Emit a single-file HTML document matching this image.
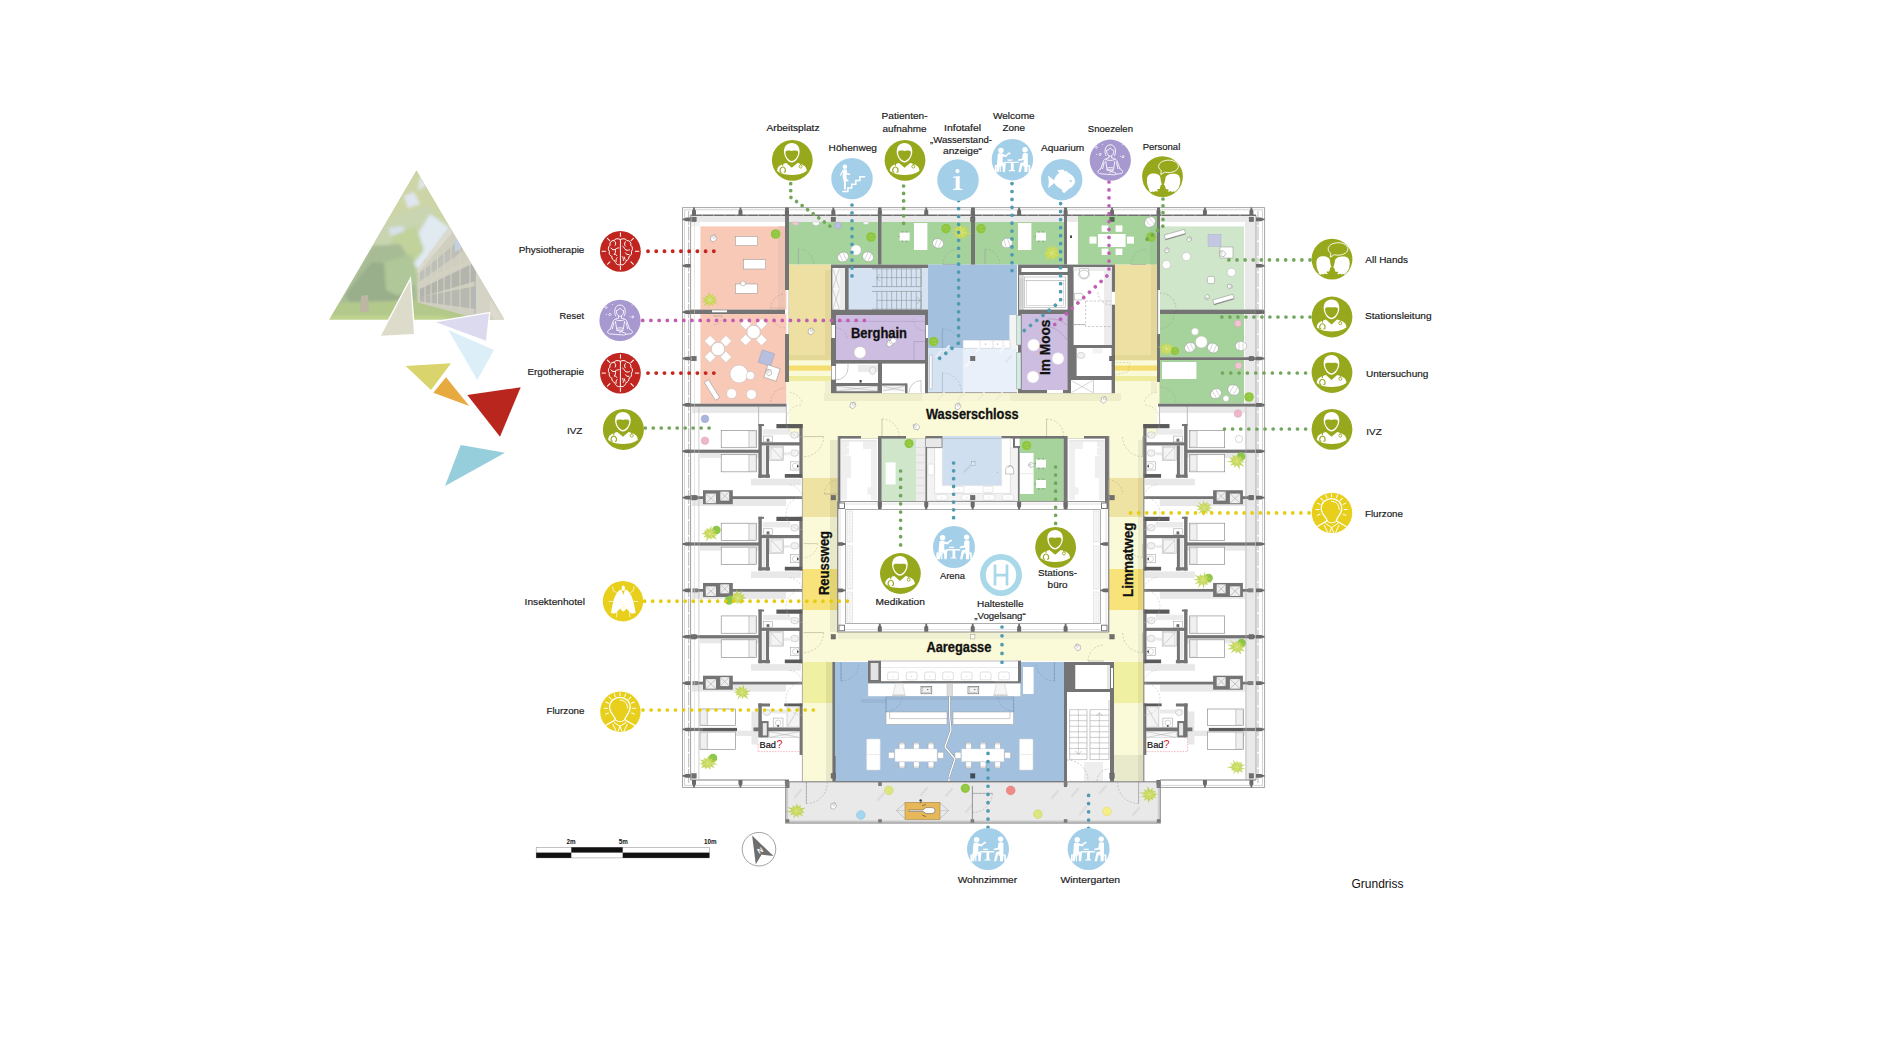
<!DOCTYPE html>
<html><head><meta charset="utf-8"><title>Grundriss</title>
<style>
html,body{margin:0;padding:0;background:#fff;}
body{width:1900px;height:1050px;overflow:hidden;font-family:"Liberation Sans",sans-serif;}
svg{display:block;font-family:"Liberation Sans",sans-serif;}
.lb{font-size:9.8px;fill:#1a1a1a;stroke:#1a1a1a;stroke-width:0.18px;}
.bd{font-weight:bold;fill:#111;stroke:#111;stroke-width:0.3px;}
</style></head><body>
<svg width="1900" height="1050" viewBox="0 0 1900 1050">
<rect width="1900" height="1050" fill="#ffffff"/>
<rect x="690.5" y="216" width="565.5" height="6" fill="#e9e9e9" />
<rect x="1245" y="216" width="10.5" height="564" fill="#e9e9e9" />
<rect x="690.5" y="222" width="9.5" height="4.4" fill="#f3f3f3" />
<rect x="700.4" y="226.4" width="86.2" height="83.2" fill="#f9c9b8" />
<rect x="700.4" y="314" width="86.2" height="89.7" fill="#f9c9b8" />
<rect x="778" y="226.4" width="7" height="83.2" fill="#efc3b3" />
<rect x="789" y="222" width="89" height="42.6" fill="#a6d39c" />
<rect x="881.6" y="222" width="89.4" height="42.6" fill="#a6d39c" />
<rect x="975" y="222" width="89" height="42.6" fill="#a6d39c" />
<rect x="1067" y="216" width="11" height="48.6" fill="#ffffff" />
<rect x="1067" y="216" width="11" height="6" fill="#e9e9e9" />
<rect x="1078" y="216" width="79" height="48.6" fill="#a6d39c" />
<rect x="1150" y="216" width="7" height="48.6" fill="#9fcb96" />
<rect x="789" y="355" width="368" height="81" fill="#fbfad8" />
<rect x="789" y="264.6" width="42" height="90.4" fill="#ede0a2" />
<rect x="1115" y="264.6" width="42" height="90.4" fill="#ede0a2" />
<rect x="825" y="270" width="6" height="123" fill="#000000" opacity="0.045"/>
<rect x="1151" y="264.6" width="6" height="128.4" fill="#000000" opacity="0.045"/>
<rect x="789" y="355" width="42" height="5.5" fill="#e4d896" />
<rect x="789" y="360.5" width="42" height="5" fill="#fbfad8" />
<rect x="789" y="365.5" width="42" height="5.3" fill="#f5dd6e" />
<rect x="789" y="370.8" width="42" height="5.2" fill="#fbfad8" />
<rect x="789" y="376" width="42" height="5" fill="#f0ec9e" />
<rect x="1115" y="355" width="42" height="5.5" fill="#e4d896" />
<rect x="1115" y="360.5" width="42" height="5" fill="#fbfad8" />
<rect x="1115" y="365.5" width="42" height="5.3" fill="#f5dd6e" />
<rect x="1115" y="370.8" width="42" height="5.2" fill="#fbfad8" />
<rect x="1115" y="376" width="42" height="5" fill="#f0ec9e" />
<rect x="824" y="393.2" width="98" height="7.8" fill="#efeecb" />
<rect x="1010" y="393.2" width="111" height="7.8" fill="#efeecb" />
<rect x="922" y="393.2" width="88" height="7.8" fill="#f6f5d6" />
<rect x="1160" y="226.4" width="84" height="83.2" fill="#cfe6ca" />
<rect x="1160" y="314" width="84" height="43" fill="#a6d39c" />
<rect x="1160" y="360" width="84" height="43.7" fill="#a6d39c" />
<path d="M928,264.6 H1017 V315 H1009.5 V340 H963 V348.3 H928 Z" fill="#a3c1df" stroke="none" stroke-width="1" />
<rect x="963" y="340.3" width="47" height="8" fill="#ffffff" />
<rect x="1010" y="315" width="7" height="33.3" fill="#f4f4f4" />
<rect x="928" y="348.3" width="35" height="44.2" fill="#d4e2f2" />
<rect x="963" y="348.3" width="54" height="44.2" fill="#e9f0f9" />
<rect x="802.4" y="436" width="35.6" height="346" fill="#fbfad8" />
<rect x="1109" y="436" width="34.6" height="225" fill="#fbfad8" />
<rect x="1114" y="661" width="29.6" height="121" fill="#fbfad8" />
<rect x="802.4" y="632" width="341.2" height="29" fill="#fbfad8" />
<rect x="838" y="632" width="271" height="7" fill="#f0f0d2" />
<rect x="802.4" y="478" width="35.6" height="39" fill="#eee3a2" />
<rect x="802.4" y="569" width="35.6" height="41" fill="#f7e37a" />
<rect x="1109" y="478" width="34.6" height="39" fill="#eee3a2" />
<rect x="1109" y="569" width="34.6" height="41" fill="#f7e37a" />
<rect x="802.4" y="662" width="30.6" height="41" fill="#f0f0a2" />
<rect x="1114" y="662" width="29.6" height="41" fill="#f0f0a2" />
<rect x="1114" y="755" width="29.6" height="27" fill="#e9e9cb" />
<rect x="830" y="440" width="8" height="192" fill="#000000" opacity="0.07"/>
<rect x="1138" y="440" width="5.6" height="342" fill="#000000" opacity="0.06"/>
<rect x="826" y="662" width="7" height="120" fill="#000000" opacity="0.07"/>
<rect x="840" y="438" width="38" height="63" fill="#ffffff" />
<rect x="881.6" y="438" width="34.4" height="63" fill="#cfe6ca" />
<rect x="916" y="438" width="9.6" height="63" fill="#ededed" />
<rect x="927" y="438" width="91" height="63" fill="#ffffff" />
<rect x="942.4" y="436" width="59.2" height="49.6" fill="#cfdff0" />
<rect x="1019.6" y="438" width="44" height="63" fill="#a6d39c" />
<rect x="1020" y="453" width="13.6" height="41" fill="#ffffff" />
<rect x="1067.6" y="438" width="37.4" height="63" fill="#ffffff" />
<rect x="838" y="501.6" width="270.4" height="130.4" fill="#ffffff" />
<rect x="835" y="662" width="229" height="119.5" fill="#a3c1df" />
<rect x="1064" y="662" width="50" height="120" fill="#ffffff" />
<rect x="785.3" y="781.6" width="375.3" height="41.7" fill="#e9e9e9" />
<rect x="786.8" y="382" width="2.2" height="21.7" fill="#fbfad8" />
<rect x="1157" y="382" width="3" height="21.7" fill="#fbfad8" />
<line x1="787" y1="382" x2="787" y2="403.7" stroke="#ffffff" stroke-width="0.7" />
<line x1="1159.6" y1="382" x2="1159.6" y2="403.7" stroke="#a9c09f" stroke-width="0.5" />
<rect x="692" y="406.38" width="94" height="6.5" fill="#e8e8e8" />
<rect x="700" y="452.38" width="60" height="5.5" fill="#e8e8e8" />
<rect x="751" y="478.68" width="50" height="6.6" fill="#e8e8e8" />
<rect x="692" y="499.12" width="94" height="6.5" fill="#e8e8e8" />
<rect x="700" y="545.12" width="60" height="5.5" fill="#e8e8e8" />
<rect x="751" y="571.42" width="50" height="6.6" fill="#e8e8e8" />
<rect x="692" y="591.86" width="94" height="6.5" fill="#e8e8e8" />
<rect x="700" y="637.86" width="60" height="5.5" fill="#e8e8e8" />
<rect x="751" y="664.16" width="50" height="6.6" fill="#e8e8e8" />
<rect x="692" y="684.6" width="94" height="6.5" fill="#e8e8e8" />
<rect x="700" y="730.6" width="60" height="5.5" fill="#e8e8e8" />
<rect x="692" y="499.42" width="94" height="6.6" fill="#e8e8e8" />
<rect x="692" y="592.16" width="94" height="6.6" fill="#e8e8e8" />
<rect x="692" y="684.9" width="94" height="6.6" fill="#e8e8e8" />
<rect x="1159.9" y="406.38" width="94" height="6.5" fill="#e8e8e8" />
<rect x="1185.9" y="452.38" width="60" height="5.5" fill="#e8e8e8" />
<rect x="1144.9" y="478.68" width="50" height="6.6" fill="#e8e8e8" />
<rect x="1159.9" y="499.12" width="94" height="6.5" fill="#e8e8e8" />
<rect x="1185.9" y="545.12" width="60" height="5.5" fill="#e8e8e8" />
<rect x="1144.9" y="571.42" width="50" height="6.6" fill="#e8e8e8" />
<rect x="1159.9" y="591.86" width="94" height="6.5" fill="#e8e8e8" />
<rect x="1185.9" y="637.86" width="60" height="5.5" fill="#e8e8e8" />
<rect x="1144.9" y="664.16" width="50" height="6.6" fill="#e8e8e8" />
<rect x="1159.9" y="684.6" width="94" height="6.5" fill="#e8e8e8" />
<rect x="1185.9" y="730.6" width="60" height="5.5" fill="#e8e8e8" />
<rect x="1159.9" y="499.42" width="94" height="6.6" fill="#e8e8e8" />
<rect x="1159.9" y="592.16" width="94" height="6.6" fill="#e8e8e8" />
<rect x="1159.9" y="684.9" width="94" height="6.6" fill="#e8e8e8" />
<line x1="758.6" y1="406.48" x2="758.6" y2="424.28" stroke="#b5b5b5" stroke-width="0.9" />
<line x1="786.4" y1="406.48" x2="786.4" y2="424.28" stroke="#b5b5b5" stroke-width="0.9" />
<line x1="1187.3" y1="406.48" x2="1187.3" y2="424.28" stroke="#b5b5b5" stroke-width="0.9" />
<line x1="1159.5" y1="406.48" x2="1159.5" y2="424.28" stroke="#b5b5b5" stroke-width="0.9" />
<rect x="785" y="207.5" width="4" height="82.5" fill="#747474" />
<rect x="785" y="334" width="4" height="48" fill="#747474" />
<rect x="878" y="207.5" width="3.6" height="57.1" fill="#747474" />
<rect x="971" y="207.5" width="4" height="57.1" fill="#747474" />
<rect x="1064" y="207.5" width="3" height="57.1" fill="#747474" />
<rect x="1157" y="207.5" width="3" height="82.5" fill="#747474" />
<rect x="1157" y="334" width="3" height="48" fill="#747474" />
<rect x="1157" y="290" width="1.2" height="44" fill="#9a9a9a" />
<rect x="786.6" y="290" width="1.8" height="44" fill="#ffffff" />
<line x1="788.6" y1="290" x2="788.6" y2="334" stroke="#b0b0b0" stroke-width="0.5" />
<rect x="690.5" y="309.6" width="94.5" height="4.4" fill="#747474" />
<rect x="712" y="310.3" width="15" height="2" fill="#ffffff" />
<rect x="690.5" y="403.7" width="96" height="2.9" fill="#747474" />
<rect x="1160" y="309.6" width="104" height="4.4" fill="#747474" />
<rect x="1160" y="357.2" width="96" height="2.8" fill="#747474" />
<rect x="1158" y="403.7" width="106" height="2.9" fill="#747474" />
<rect x="831" y="264.6" width="97" height="128.6" fill="#747474" />
<rect x="832.5" y="268" width="12.5" height="41.6" fill="#ffffff" />
<rect x="839.5" y="268" width="5.5" height="41.6" fill="#ececec" />
<rect x="848.6" y="268" width="79.4" height="41.6" fill="#d4e2f2" />
<rect x="836" y="315" width="89" height="45" fill="#cdbde0" />
<rect x="925.8" y="325" width="2.2" height="13" fill="#ffffff" />
<rect x="831.5" y="325" width="3.5" height="13" fill="#ffffff" />
<rect x="831.6" y="366" width="3.8" height="13.6" fill="#ffffff" />
<rect x="836" y="363.6" width="42" height="19.4" fill="#ffffff" />
<rect x="882" y="363.6" width="43" height="29.6" fill="#ffffff" />
<rect x="836.5" y="386" width="41" height="5.2" fill="#f2f2f2" />
<rect x="882.5" y="386" width="22.5" height="5.2" fill="#f2f2f2" />
<rect x="882" y="383.4" width="24" height="2.2" fill="#747474" />
<rect x="905" y="383.4" width="2.5" height="9.8" fill="#747474" />
<rect x="858" y="365" width="20" height="7" fill="#ececec" />
<rect x="1018" y="264.6" width="97" height="128.6" fill="#747474" />
<rect x="1021.4" y="268" width="46.2" height="4" fill="#ffffff" />
<rect x="1024" y="275" width="43.6" height="34.6" fill="#ffffff" />
<rect x="1019" y="275" width="5" height="34.6" fill="#dcdcdc" />
<rect x="1021.6" y="314" width="46" height="76" fill="#cdbde0" />
<rect x="1047" y="390" width="16" height="3.2" fill="#ffffff" />
<rect x="1073.6" y="267" width="38" height="78" fill="#ffffff" />
<rect x="1076.6" y="348" width="35" height="28" fill="#ffffff" />
<rect x="1071" y="380" width="40.6" height="13.2" fill="#ffffff" />
<rect x="1111.6" y="291.8" width="3.4" height="12.9" fill="#ffffff" />
<rect x="1104" y="267" width="7.6" height="78" fill="#ececec" />
<rect x="1073.6" y="267" width="38" height="4" fill="#ececec" />
<rect x="1016.8" y="315.6" width="4.2" height="29.4" fill="#d3eee6" stroke="#8e8e8e" stroke-width="0.5"/>
<rect x="1016.8" y="352.4" width="4.2" height="36.6" fill="#d3eee6" stroke="#8e8e8e" stroke-width="0.5"/>
<rect x="838" y="436" width="271" height="2.6" fill="#747474" />
<rect x="942.4" y="436" width="59.2" height="2.6" fill="#cfdff0" />
<rect x="861" y="436" width="17" height="2.6" fill="#fbfad8" />
<rect x="906" y="436" width="20" height="2.6" fill="#fbfad8" />
<rect x="1067" y="436" width="17" height="2.6" fill="#fbfad8" />
<rect x="838" y="436" width="2.4" height="73" fill="#747474" />
<rect x="878" y="436" width="3.6" height="73" fill="#747474" />
<rect x="925.4" y="436" width="1.6" height="73" fill="#747474" />
<rect x="1018" y="447" width="1.6" height="62" fill="#747474" />
<rect x="1013" y="436" width="2" height="12" fill="#747474" />
<rect x="1013" y="446" width="7" height="2" fill="#747474" />
<rect x="1063.6" y="436" width="4" height="73" fill="#747474" />
<rect x="1105" y="436" width="4" height="73" fill="#747474" />
<rect x="832.4" y="662" width="2.6" height="120" fill="#747474" />
<rect x="1064" y="662" width="3" height="125" fill="#747474" />
<rect x="1064" y="662" width="50" height="3" fill="#747474" />
<rect x="1064" y="662" width="11.4" height="28" fill="#747474" />
<rect x="1110" y="662" width="4" height="120" fill="#747474" />
<rect x="1064" y="689" width="48" height="3" fill="#747474" />
<rect x="1075.6" y="665" width="31.4" height="24" fill="#ffffff" />
<rect x="1107" y="665" width="3" height="24" fill="#e6e6e6" />
<rect x="1111" y="668" width="2" height="20" fill="#ffffff" />
<rect x="1067" y="692" width="43" height="90" fill="#ffffff" />
<rect x="690.5" y="449.65" width="68.5" height="3.2" fill="#747474" />
<rect x="758.4" y="424.05" width="3.4" height="53.7" fill="#747474" />
<rect x="799.4" y="424.05" width="3.2" height="53.7" fill="#747474" />
<rect x="760" y="442.25" width="40" height="3.2" fill="#747474" />
<rect x="766" y="445.45" width="3" height="32.3" fill="#747474" />
<rect x="758.4" y="474.45" width="11.6" height="3.3" fill="#747474" />
<rect x="776.4" y="424.05" width="26.2" height="4.2" fill="#5a5a5a" />
<rect x="784.8" y="474.05" width="17.8" height="3.7" fill="#5a5a5a" />
<rect x="758.4" y="424.05" width="5.6" height="2" fill="#747474" />
<rect x="762.5" y="446.25" width="3.1" height="28" fill="#e9e9e9" />
<rect x="690.5" y="542.39" width="68.5" height="3.2" fill="#747474" />
<rect x="758.4" y="516.79" width="3.4" height="53.7" fill="#747474" />
<rect x="799.4" y="516.79" width="3.2" height="53.7" fill="#747474" />
<rect x="760" y="534.99" width="40" height="3.2" fill="#747474" />
<rect x="766" y="538.19" width="3" height="32.3" fill="#747474" />
<rect x="758.4" y="567.19" width="11.6" height="3.3" fill="#747474" />
<rect x="776.4" y="516.79" width="26.2" height="4.2" fill="#5a5a5a" />
<rect x="784.8" y="566.79" width="17.8" height="3.7" fill="#5a5a5a" />
<rect x="758.4" y="516.79" width="5.6" height="2" fill="#747474" />
<rect x="762.5" y="538.99" width="3.1" height="28" fill="#e9e9e9" />
<rect x="690.5" y="635.13" width="68.5" height="3.2" fill="#747474" />
<rect x="758.4" y="609.53" width="3.4" height="53.7" fill="#747474" />
<rect x="799.4" y="609.53" width="3.2" height="53.7" fill="#747474" />
<rect x="760" y="627.73" width="40" height="3.2" fill="#747474" />
<rect x="766" y="630.93" width="3" height="32.3" fill="#747474" />
<rect x="758.4" y="659.93" width="11.6" height="3.3" fill="#747474" />
<rect x="776.4" y="609.53" width="26.2" height="4.2" fill="#5a5a5a" />
<rect x="784.8" y="659.53" width="17.8" height="3.7" fill="#5a5a5a" />
<rect x="758.4" y="609.53" width="5.6" height="2" fill="#747474" />
<rect x="762.5" y="631.73" width="3.1" height="28" fill="#e9e9e9" />
<rect x="690.5" y="727.87" width="46.5" height="3.2" fill="#747474" />
<rect x="703" y="728.07" width="34" height="2.8" fill="#5a5a5a" />
<rect x="751.5" y="711.47" width="6.8" height="33" fill="#e8e8e8" />
<rect x="758.3" y="703.47" width="3.5" height="34" fill="#747474" />
<rect x="758.3" y="703.47" width="11.7" height="3" fill="#747474" />
<rect x="799.6" y="703.47" width="3" height="51.5" fill="#747474" />
<rect x="784.3" y="703.47" width="18.3" height="2.8" fill="#5a5a5a" />
<rect x="753.5" y="727.47" width="46.5" height="3.8" fill="#747474" />
<rect x="760.8" y="721.07" width="7.8" height="16.4" fill="#747474" />
<rect x="762.8" y="723.07" width="4" height="12.4" fill="#e9e9e9" />
<rect x="696.8" y="496.22" width="105.2" height="2.8" fill="#747474" />
<rect x="703" y="490.22" width="29.8" height="14" fill="#747474" />
<rect x="705.7" y="493.62" width="10.3" height="9.6" fill="#efefef" />
<rect x="720.3" y="491.62" width="8.9" height="9" fill="#efefef" />
<line x1="705.7" y1="493.62" x2="716" y2="503.22" stroke="#9a9a9a" stroke-width="0.5" />
<line x1="705.7" y1="503.22" x2="716" y2="493.62" stroke="#9a9a9a" stroke-width="0.5" />
<line x1="720.3" y1="491.62" x2="729.2" y2="500.62" stroke="#9a9a9a" stroke-width="0.5" />
<line x1="720.3" y1="500.62" x2="729.2" y2="491.62" stroke="#9a9a9a" stroke-width="0.5" />
<rect x="692.5" y="495.62" width="5.5" height="4" fill="#808080" />
<rect x="696.8" y="588.96" width="105.2" height="2.8" fill="#747474" />
<rect x="703" y="582.96" width="29.8" height="14" fill="#747474" />
<rect x="705.7" y="586.36" width="10.3" height="9.6" fill="#efefef" />
<rect x="720.3" y="584.36" width="8.9" height="9" fill="#efefef" />
<line x1="705.7" y1="586.36" x2="716" y2="595.96" stroke="#9a9a9a" stroke-width="0.5" />
<line x1="705.7" y1="595.96" x2="716" y2="586.36" stroke="#9a9a9a" stroke-width="0.5" />
<line x1="720.3" y1="584.36" x2="729.2" y2="593.36" stroke="#9a9a9a" stroke-width="0.5" />
<line x1="720.3" y1="593.36" x2="729.2" y2="584.36" stroke="#9a9a9a" stroke-width="0.5" />
<rect x="692.5" y="588.36" width="5.5" height="4" fill="#808080" />
<rect x="696.8" y="681.7" width="105.2" height="2.8" fill="#747474" />
<rect x="703" y="675.7" width="29.8" height="14" fill="#747474" />
<rect x="705.7" y="679.1" width="10.3" height="9.6" fill="#efefef" />
<rect x="720.3" y="677.1" width="8.9" height="9" fill="#efefef" />
<line x1="705.7" y1="679.1" x2="716" y2="688.7" stroke="#9a9a9a" stroke-width="0.5" />
<line x1="705.7" y1="688.7" x2="716" y2="679.1" stroke="#9a9a9a" stroke-width="0.5" />
<line x1="720.3" y1="677.1" x2="729.2" y2="686.1" stroke="#9a9a9a" stroke-width="0.5" />
<line x1="720.3" y1="686.1" x2="729.2" y2="677.1" stroke="#9a9a9a" stroke-width="0.5" />
<rect x="692.5" y="681.1" width="5.5" height="4" fill="#808080" />
<rect x="1186.9" y="449.65" width="68.5" height="3.2" fill="#747474" />
<rect x="1184.1" y="424.05" width="3.4" height="53.7" fill="#747474" />
<rect x="1143.3" y="424.05" width="3.2" height="53.7" fill="#747474" />
<rect x="1145.9" y="442.25" width="40" height="3.2" fill="#747474" />
<rect x="1176.9" y="445.45" width="3" height="32.3" fill="#747474" />
<rect x="1175.9" y="474.45" width="11.6" height="3.3" fill="#747474" />
<rect x="1143.3" y="424.05" width="26.2" height="4.2" fill="#5a5a5a" />
<rect x="1143.3" y="474.05" width="17.8" height="3.7" fill="#5a5a5a" />
<rect x="1181.9" y="424.05" width="5.6" height="2" fill="#747474" />
<rect x="1180.3" y="446.25" width="3.1" height="28" fill="#e9e9e9" />
<rect x="1186.9" y="542.39" width="68.5" height="3.2" fill="#747474" />
<rect x="1184.1" y="516.79" width="3.4" height="53.7" fill="#747474" />
<rect x="1143.3" y="516.79" width="3.2" height="53.7" fill="#747474" />
<rect x="1145.9" y="534.99" width="40" height="3.2" fill="#747474" />
<rect x="1176.9" y="538.19" width="3" height="32.3" fill="#747474" />
<rect x="1175.9" y="567.19" width="11.6" height="3.3" fill="#747474" />
<rect x="1143.3" y="516.79" width="26.2" height="4.2" fill="#5a5a5a" />
<rect x="1143.3" y="566.79" width="17.8" height="3.7" fill="#5a5a5a" />
<rect x="1181.9" y="516.79" width="5.6" height="2" fill="#747474" />
<rect x="1180.3" y="538.99" width="3.1" height="28" fill="#e9e9e9" />
<rect x="1186.9" y="635.13" width="68.5" height="3.2" fill="#747474" />
<rect x="1184.1" y="609.53" width="3.4" height="53.7" fill="#747474" />
<rect x="1143.3" y="609.53" width="3.2" height="53.7" fill="#747474" />
<rect x="1145.9" y="627.73" width="40" height="3.2" fill="#747474" />
<rect x="1176.9" y="630.93" width="3" height="32.3" fill="#747474" />
<rect x="1175.9" y="659.93" width="11.6" height="3.3" fill="#747474" />
<rect x="1143.3" y="609.53" width="26.2" height="4.2" fill="#5a5a5a" />
<rect x="1143.3" y="659.53" width="17.8" height="3.7" fill="#5a5a5a" />
<rect x="1181.9" y="609.53" width="5.6" height="2" fill="#747474" />
<rect x="1180.3" y="631.73" width="3.1" height="28" fill="#e9e9e9" />
<rect x="1208.9" y="727.87" width="46.5" height="3.2" fill="#747474" />
<rect x="1208.9" y="728.07" width="34" height="2.8" fill="#5a5a5a" />
<rect x="1187.6" y="711.47" width="6.8" height="33" fill="#e8e8e8" />
<rect x="1184.1" y="703.47" width="3.5" height="34" fill="#747474" />
<rect x="1175.9" y="703.47" width="11.7" height="3" fill="#747474" />
<rect x="1143.3" y="703.47" width="3" height="51.5" fill="#747474" />
<rect x="1143.3" y="703.47" width="18.3" height="2.8" fill="#5a5a5a" />
<rect x="1145.9" y="727.47" width="46.5" height="3.8" fill="#747474" />
<rect x="1177.3" y="721.07" width="7.8" height="16.4" fill="#747474" />
<rect x="1179.1" y="723.07" width="4" height="12.4" fill="#e9e9e9" />
<rect x="1143.9" y="496.22" width="105.2" height="2.8" fill="#747474" />
<rect x="1213.1" y="490.22" width="29.8" height="14" fill="#747474" />
<rect x="1229.9" y="493.62" width="10.3" height="9.6" fill="#efefef" />
<rect x="1216.7" y="491.62" width="8.9" height="9" fill="#efefef" />
<line x1="1240.2" y1="493.62" x2="1229.9" y2="503.22" stroke="#9a9a9a" stroke-width="0.5" />
<line x1="1240.2" y1="503.22" x2="1229.9" y2="493.62" stroke="#9a9a9a" stroke-width="0.5" />
<line x1="1225.6" y1="491.62" x2="1216.7" y2="500.62" stroke="#9a9a9a" stroke-width="0.5" />
<line x1="1225.6" y1="500.62" x2="1216.7" y2="491.62" stroke="#9a9a9a" stroke-width="0.5" />
<rect x="1247.9" y="495.62" width="5.5" height="4" fill="#808080" />
<rect x="1143.9" y="588.96" width="105.2" height="2.8" fill="#747474" />
<rect x="1213.1" y="582.96" width="29.8" height="14" fill="#747474" />
<rect x="1229.9" y="586.36" width="10.3" height="9.6" fill="#efefef" />
<rect x="1216.7" y="584.36" width="8.9" height="9" fill="#efefef" />
<line x1="1240.2" y1="586.36" x2="1229.9" y2="595.96" stroke="#9a9a9a" stroke-width="0.5" />
<line x1="1240.2" y1="595.96" x2="1229.9" y2="586.36" stroke="#9a9a9a" stroke-width="0.5" />
<line x1="1225.6" y1="584.36" x2="1216.7" y2="593.36" stroke="#9a9a9a" stroke-width="0.5" />
<line x1="1225.6" y1="593.36" x2="1216.7" y2="584.36" stroke="#9a9a9a" stroke-width="0.5" />
<rect x="1247.9" y="588.36" width="5.5" height="4" fill="#808080" />
<rect x="1143.9" y="681.7" width="105.2" height="2.8" fill="#747474" />
<rect x="1213.1" y="675.7" width="29.8" height="14" fill="#747474" />
<rect x="1229.9" y="679.1" width="10.3" height="9.6" fill="#efefef" />
<rect x="1216.7" y="677.1" width="8.9" height="9" fill="#efefef" />
<line x1="1240.2" y1="679.1" x2="1229.9" y2="688.7" stroke="#9a9a9a" stroke-width="0.5" />
<line x1="1240.2" y1="688.7" x2="1229.9" y2="679.1" stroke="#9a9a9a" stroke-width="0.5" />
<line x1="1225.6" y1="677.1" x2="1216.7" y2="686.1" stroke="#9a9a9a" stroke-width="0.5" />
<line x1="1225.6" y1="686.1" x2="1216.7" y2="677.1" stroke="#9a9a9a" stroke-width="0.5" />
<rect x="1247.9" y="681.1" width="5.5" height="4" fill="#808080" />
<line x1="802.4" y1="436" x2="802.4" y2="782" stroke="#9a9a9a" stroke-width="0.8" />
<line x1="1143.8" y1="436" x2="1143.8" y2="782" stroke="#8a8a8a" stroke-width="1.2" />
<line x1="838" y1="436" x2="838" y2="632" stroke="#9a9a9a" stroke-width="0.8" />
<line x1="1109" y1="436" x2="1109" y2="632" stroke="#9a9a9a" stroke-width="0.8" />
<rect x="735.4" y="236.4" width="22.2" height="9.2" fill="#ffffff" stroke="#8e8e8e" stroke-width="0.5" />
<rect x="743.6" y="259.6" width="22" height="9.4" fill="#ffffff" stroke="#8e8e8e" stroke-width="0.5" />
<rect x="735.4" y="284" width="22.2" height="9.4" fill="#ffffff" stroke="#8e8e8e" stroke-width="0.5" />
<circle cx="743" cy="283.5" r="2.4" fill="#fff" stroke="#9a9a9a" stroke-width="0.5"/>
<circle cx="775.6" cy="234" r="4.8" fill="#8fc63d" />
<path d="M773.2,234 q1.92,-3.36 4.32,-0.96 M774.64,236.4 q1.44,-1.92 3.36,-0.48" stroke="#b8dc7a" stroke-width="0.5" fill="none"/>
<polygon points="717.73,300 714.46,301.12 717.79,304.27 712.45,302.41 713.52,306.56 710.56,303.34 708.64,308.06 708.2,303.35 703.44,306.45 706.05,302.16 701.67,302.08 705.7,300 700.66,297.66 706.19,297.92 705.3,295.38 708.12,296.5 708.56,291.44 710.68,295.95 713.35,293.76 712.53,297.51 716.76,296.3 713.65,299.09" fill="#bdd13f" opacity="0.85"/>
<polygon points="715.01,301.31 712.84,301.59 714.39,304.42 711.31,302.52 710.98,306.31 709.59,302.23 707.77,304.04 707.98,301.95 705.27,302.53 707.21,300.67 703.31,299.94 707.31,299.3 705.37,297.41 707.92,297.91 707.35,294.92 709.57,297.24 711.07,294.12 711.46,297.35 714.71,295.47 713.02,298.39 716.65,298.4 713.02,300.03" fill="#c9da5a" opacity="0.9"/>
<line x1="710" y1="300" x2="715.26" y2="300" stroke="#e4ecaa" stroke-width="0.4" />
<line x1="710" y1="300" x2="713.31" y2="304.09" stroke="#e4ecaa" stroke-width="0.4" />
<line x1="710" y1="300" x2="708.91" y2="305.15" stroke="#e4ecaa" stroke-width="0.4" />
<line x1="710" y1="300" x2="705.31" y2="302.39" stroke="#e4ecaa" stroke-width="0.4" />
<line x1="710" y1="300" x2="705.19" y2="297.86" stroke="#e4ecaa" stroke-width="0.4" />
<line x1="710" y1="300" x2="708.64" y2="294.91" stroke="#e4ecaa" stroke-width="0.4" />
<line x1="710" y1="300" x2="713.09" y2="295.74" stroke="#e4ecaa" stroke-width="0.4" />
<g transform="translate(713.6,238) rotate(25)"><path d="M0,-3.6 L3.24,-0.72 L1.8,3.6 L-1.8,3.6 L-3.24,-0.72 Z" fill="#fff" stroke="#8e8e8e" stroke-width="0.5"/><circle r="1.26" cy="-1.08" fill="#fff" stroke="#8e8e8e" stroke-width="0.4"/></g>
<path d="M771,308 A14,14 0 0 1 785,294" fill="none" stroke="#9a9a9a" stroke-width="0.5" stroke-dasharray="2 1.6"/>
<line x1="770" y1="308" x2="785" y2="308" stroke="#c9a99c" stroke-width="0.5" />
<rect x="-4" y="-4" width="8" height="8" fill="#ffffff" stroke="#c4c4c4" stroke-width="0.5" transform="translate(745.7,324.1) rotate(45)"/>
<rect x="-4" y="-4" width="8" height="8" fill="#ffffff" stroke="#c4c4c4" stroke-width="0.5" transform="translate(761.5,324.1) rotate(45)"/>
<rect x="-4" y="-4" width="8" height="8" fill="#ffffff" stroke="#c4c4c4" stroke-width="0.5" transform="translate(745.7,339.9) rotate(45)"/>
<rect x="-4" y="-4" width="8" height="8" fill="#ffffff" stroke="#c4c4c4" stroke-width="0.5" transform="translate(761.5,339.9) rotate(45)"/>
<circle cx="753.6" cy="332" r="6.6" fill="#ffffff" stroke="#b9b9b9" stroke-width="0.5"/>
<rect x="-4" y="-4" width="8" height="8" fill="#ffffff" stroke="#c4c4c4" stroke-width="0.5" transform="translate(710.1,341.1) rotate(45)"/>
<rect x="-4" y="-4" width="8" height="8" fill="#ffffff" stroke="#c4c4c4" stroke-width="0.5" transform="translate(725.9,341.1) rotate(45)"/>
<rect x="-4" y="-4" width="8" height="8" fill="#ffffff" stroke="#c4c4c4" stroke-width="0.5" transform="translate(710.1,356.9) rotate(45)"/>
<rect x="-4" y="-4" width="8" height="8" fill="#ffffff" stroke="#c4c4c4" stroke-width="0.5" transform="translate(725.9,356.9) rotate(45)"/>
<circle cx="718" cy="349" r="6.6" fill="#ffffff" stroke="#b9b9b9" stroke-width="0.5"/>
<rect x="-6.5" y="-6.5" width="13" height="13" fill="#b6c0dd" stroke="#9aa3c0" stroke-width="0.5" transform="translate(766.4,358) rotate(18)"/>
<rect x="-6.5" y="-6.5" width="13" height="13" fill="#ffffff" stroke="#8e8e8e" stroke-width="0.5" transform="translate(772,373) rotate(18)"/>
<g transform="translate(768.5,372) rotate(-30)"><path d="M0,-3.4 L3.06,-0.68 L1.7,3.4 L-1.7,3.4 L-3.06,-0.68 Z" fill="#fff" stroke="#8e8e8e" stroke-width="0.5"/><circle r="1.19" cy="-1.02" fill="#fff" stroke="#8e8e8e" stroke-width="0.4"/></g>
<circle cx="739" cy="374" r="9" fill="#ffffff" stroke="#b9b9b9" stroke-width="0.5"/>
<circle cx="750.4" cy="375.6" r="4.2" fill="#ffffff" stroke="#b9b9b9" stroke-width="0.5"/>
<rect x="-10.5" y="-2.5" width="21" height="5" fill="#ffffff" stroke="#8e8e8e" stroke-width="0.5" transform="translate(712,390) rotate(58)"/>
<circle cx="731.6" cy="393.6" r="5" fill="#ffffff" stroke="#b9b9b9" stroke-width="0.5"/>
<circle cx="751.4" cy="394.4" r="5" fill="#ffffff" stroke="#b9b9b9" stroke-width="0.5"/>
<path d="M722,316 A9,9 0 0 1 713,325" fill="none" stroke="#9a9a9a" stroke-width="0.5" stroke-dasharray="2 1.6"/>
<line x1="713" y1="316" x2="722" y2="316" stroke="#9a9a9a" stroke-width="0.6" />
<path d="M785,328 A12,12 0 0 1 773,316" fill="none" stroke="#9a9a9a" stroke-width="0.5" stroke-dasharray="2 1.6"/>
<path d="M771,402 A14,14 0 0 1 785,388" fill="none" stroke="#9a9a9a" stroke-width="0.5" stroke-dasharray="2 1.6"/>
<path d="M792.1,222 a3.5,3.5 0 0 0 7,0 Z" fill="#f2c4d4" stroke="#b9b9b9" stroke-width="0.4"/>
<path d="M812.5,222 a3.5,3.5 0 0 0 7,0 Z" fill="#fff" stroke="#b9b9b9" stroke-width="0.4"/>
<circle cx="838" cy="225.6" r="3.4" fill="#b9bde0" stroke="#a5a5c8" stroke-width="0.5"/>
<path d="M863,222 a3,2.4 0 0 0 6,0 Z" fill="#fff" stroke="#b9b9b9" stroke-width="0.4"/>
<circle cx="856" cy="250" r="5.2" fill="#ffffff" stroke="#b9b9b9" stroke-width="0.5"/>
<g transform="translate(843,257) rotate(-25)"><ellipse rx="5.6" ry="4.76" fill="#fff" stroke="#9c9c9c" stroke-width="0.5"/><path d="M-1.96,-4.37 V4.37 M1.96,-4.37 V4.37" stroke="#b5b5b5" stroke-width="0.5" fill="none"/></g>
<g transform="translate(868,256.8) rotate(25)"><ellipse rx="5.6" ry="4.76" fill="#fff" stroke="#9c9c9c" stroke-width="0.5"/><path d="M-1.96,-4.37 V4.37 M1.96,-4.37 V4.37" stroke="#b5b5b5" stroke-width="0.5" fill="none"/></g>
<circle cx="871" cy="237" r="4.8" fill="#8fc63d" />
<path d="M868.6,237 q1.92,-3.36 4.32,-0.96 M870.04,239.4 q1.44,-1.92 3.36,-0.48" stroke="#b8dc7a" stroke-width="0.5" fill="none"/>
<path d="M798.4,248.9 A15.5,15.5 0 0 1 813.9,264.4" fill="none" stroke="#9a9a9a" stroke-width="0.5" stroke-dasharray="2 1.6"/>
<line x1="798.4" y1="264.4" x2="798.4" y2="248.9" stroke="#9a9a9a" stroke-width="0.6" />
<rect x="899.6" y="232.6" width="10" height="8" fill="#fff" stroke="0.6" stroke-width="#6e6e6e" />
<line x1="902.4" y1="231" x2="902.4" y2="232.6" stroke="#6e6e6e" stroke-width="0.6" />
<line x1="906.8" y1="231" x2="906.8" y2="232.6" stroke="#6e6e6e" stroke-width="0.6" />
<line x1="902.4" y1="242.2" x2="902.4" y2="240.6" stroke="#6e6e6e" stroke-width="0.6" />
<line x1="906.8" y1="242.2" x2="906.8" y2="240.6" stroke="#6e6e6e" stroke-width="0.6" />
<line x1="898.4" y1="236.6" x2="899.6" y2="236.6" stroke="#6e6e6e" stroke-width="0.6" />
<rect x="914" y="223" width="13.4" height="27" fill="#ffffff" />
<g transform="translate(938,243.4) rotate(20)"><ellipse rx="5.6" ry="4.76" fill="#fff" stroke="#9c9c9c" stroke-width="0.5"/><path d="M-1.96,-4.37 V4.37 M1.96,-4.37 V4.37" stroke="#b5b5b5" stroke-width="0.5" fill="none"/></g>
<circle cx="946" cy="228.6" r="4.8" fill="#8fc63d" />
<path d="M943.6,228.6 q1.92,-3.36 4.32,-0.96 M945.04,231 q1.44,-1.92 3.36,-0.48" stroke="#b8dc7a" stroke-width="0.5" fill="none"/>
<polygon points="972.4,233.71 965.7,233.99 967.99,237.5 963.22,235.16 963.35,239.72 960.82,236.91 957.61,240.78 958.32,235.32 952.73,237.72 956.39,233.65 952,232.86 956.44,231.32 951.76,228.1 956.98,228.84 955.72,224.48 959.59,227.37 961.29,224.3 962.58,227.91 966.08,225.72 964.36,229.67 972.04,228.06 965.39,231.58" fill="#cfd94a" opacity="0.85"/>
<polygon points="967.39,234.78 964.02,234.43 965.26,238.22 961.96,235.3 960.72,237.52 959.93,234.68 956.75,237.14 958.34,233.8 953.3,234.66 957.96,232.26 953.12,230.74 957.61,230.53 955.88,227.88 959.21,229.39 959.23,225.91 961.16,228.81 963.46,225.86 962.86,229.76 966.4,228.35 964.6,230.76 967.61,231.44 964.85,232.62" fill="#c9da5a" opacity="0.9"/>
<line x1="961" y1="232" x2="966.98" y2="233.05" stroke="#e4ecaa" stroke-width="0.4" />
<line x1="961" y1="232" x2="963.95" y2="237.31" stroke="#e4ecaa" stroke-width="0.4" />
<line x1="961" y1="232" x2="958.72" y2="237.63" stroke="#e4ecaa" stroke-width="0.4" />
<line x1="961" y1="232" x2="955.19" y2="233.78" stroke="#e4ecaa" stroke-width="0.4" />
<line x1="961" y1="232" x2="955.96" y2="228.6" stroke="#e4ecaa" stroke-width="0.4" />
<line x1="961" y1="232" x2="960.47" y2="225.95" stroke="#e4ecaa" stroke-width="0.4" />
<line x1="961" y1="232" x2="965.37" y2="227.78" stroke="#e4ecaa" stroke-width="0.4" />
<path d="M943,264.4 A15,15 0 0 1 958,249.4" fill="none" stroke="#9a9a9a" stroke-width="0.5" stroke-dasharray="2 1.6"/>
<line x1="958" y1="264.4" x2="943" y2="264.4" stroke="#9a9a9a" stroke-width="0.6" />
<circle cx="981" cy="228.6" r="4.8" fill="#8fc63d" />
<path d="M978.6,228.6 q1.92,-3.36 4.32,-0.96 M980.04,231 q1.44,-1.92 3.36,-0.48" stroke="#b8dc7a" stroke-width="0.5" fill="none"/>
<g transform="translate(1007,243) rotate(-20)"><ellipse rx="5.6" ry="4.76" fill="#fff" stroke="#9c9c9c" stroke-width="0.5"/><path d="M-1.96,-4.37 V4.37 M1.96,-4.37 V4.37" stroke="#b5b5b5" stroke-width="0.5" fill="none"/></g>
<rect x="1018" y="223" width="13.4" height="27" fill="#ffffff" />
<rect x="1036" y="232.6" width="10" height="8" fill="#fff" stroke="0.6" stroke-width="#6e6e6e" />
<line x1="1038.8" y1="231" x2="1038.8" y2="232.6" stroke="#6e6e6e" stroke-width="0.6" />
<line x1="1043.2" y1="231" x2="1043.2" y2="232.6" stroke="#6e6e6e" stroke-width="0.6" />
<line x1="1038.8" y1="242.2" x2="1038.8" y2="240.6" stroke="#6e6e6e" stroke-width="0.6" />
<line x1="1043.2" y1="242.2" x2="1043.2" y2="240.6" stroke="#6e6e6e" stroke-width="0.6" />
<line x1="1034.8" y1="236.6" x2="1036" y2="236.6" stroke="#6e6e6e" stroke-width="0.6" />
<polygon points="1061.48,256.77 1055.3,255.48 1058.05,261.16 1053.24,256.69 1051.92,261.44 1050.46,257.35 1045.6,261.34 1047.77,256.07 1043.71,256.16 1046.87,253.59 1043.81,251.94 1047.41,251.18 1045.8,248.35 1049.27,249.31 1048.95,243.88 1052.04,249.15 1055.02,244.5 1055.13,248.92 1058.91,247.98 1056.58,251.26 1062.78,251.75 1056.42,253.57" fill="#cfd94a" opacity="0.85"/>
<polygon points="1057.35,257.1 1054.12,255.93 1054.17,259.77 1051.93,255.95 1050.05,258.29 1050.24,255.23 1045.89,257.34 1048.79,254.19 1044.39,253.81 1049.01,252.58 1046.04,250.56 1048.98,250.69 1047.54,246.83 1050.96,249.75 1052.14,246.82 1053.13,249.94 1055.87,248.08 1054.58,251.17 1057.57,250.94 1055.07,252.67 1060.24,254.15 1055.27,254.34" fill="#c9da5a" opacity="0.9"/>
<line x1="1052" y1="253" x2="1057.51" y2="255.57" stroke="#e4ecaa" stroke-width="0.4" />
<line x1="1052" y1="253" x2="1053.47" y2="258.89" stroke="#e4ecaa" stroke-width="0.4" />
<line x1="1052" y1="253" x2="1048.34" y2="257.85" stroke="#e4ecaa" stroke-width="0.4" />
<line x1="1052" y1="253" x2="1045.93" y2="253.21" stroke="#e4ecaa" stroke-width="0.4" />
<line x1="1052" y1="253" x2="1048.01" y2="248.42" stroke="#e4ecaa" stroke-width="0.4" />
<line x1="1052" y1="253" x2="1053.05" y2="247.02" stroke="#e4ecaa" stroke-width="0.4" />
<line x1="1052" y1="253" x2="1057.31" y2="250.05" stroke="#e4ecaa" stroke-width="0.4" />
<path d="M985,249.4 A15,15 0 0 1 1000,264.4" fill="none" stroke="#9a9a9a" stroke-width="0.5" stroke-dasharray="2 1.6"/>
<line x1="985" y1="264.4" x2="985" y2="249.4" stroke="#9a9a9a" stroke-width="0.6" />
<rect x="1069" y="234.6" width="6.6" height="10.8" fill="#fff" stroke="0.5" stroke-width="#6e6e6e" />
<rect x="1070" y="235.4" width="2" height="2.6" fill="#4a4a4a" />
<rect x="1098" y="234" width="27.6" height="13" fill="#fff" stroke="0.4" stroke-width="#c4c4c4" />
<rect x="1101.6" y="225.4" width="6.8" height="6.4" fill="#fff" stroke="0.4" stroke-width="#c4c4c4" />
<rect x="1115.6" y="225.4" width="6.8" height="6.4" fill="#fff" stroke="0.4" stroke-width="#c4c4c4" />
<rect x="1101.6" y="248.6" width="6.8" height="6.4" fill="#fff" stroke="0.4" stroke-width="#c4c4c4" />
<rect x="1115.6" y="248.6" width="6.8" height="6.4" fill="#fff" stroke="0.4" stroke-width="#c4c4c4" />
<rect x="1089.5" y="236.6" width="7" height="7" fill="#fff" stroke="0.4" stroke-width="#c4c4c4" />
<rect x="1127" y="236.6" width="7" height="7" fill="#fff" stroke="0.4" stroke-width="#c4c4c4" />
<g transform="translate(1150,222) rotate(-40)"><ellipse rx="5.8" ry="4.93" fill="#fff" stroke="#9c9c9c" stroke-width="0.5"/><path d="M-2.03,-4.52 V4.52 M2.03,-4.52 V4.52" stroke="#b5b5b5" stroke-width="0.5" fill="none"/></g>
<circle cx="1151" cy="237" r="4.8" fill="#8fc63d" />
<path d="M1148.6,237 q1.92,-3.36 4.32,-0.96 M1150.04,239.4 q1.44,-1.92 3.36,-0.48" stroke="#b8dc7a" stroke-width="0.5" fill="none"/>
<path d="M1131,264.4 A15,15 0 0 1 1146,249.4" fill="none" stroke="#9a9a9a" stroke-width="0.5" stroke-dasharray="2 1.6"/>
<line x1="1146" y1="264.4" x2="1131" y2="264.4" stroke="#9a9a9a" stroke-width="0.6" />
<rect x="-10.5" y="-2.5" width="21" height="5" fill="#ffffff" stroke="#8e8e8e" stroke-width="0.5" transform="translate(1175,234.6) rotate(-16)"/>
<rect x="-10.5" y="-2.5" width="21" height="5" fill="#ffffff" stroke="#8e8e8e" stroke-width="0.5" transform="translate(1223.5,299.5) rotate(-16)"/>
<line x1="1165.5" y1="239.5" x2="1185" y2="233.8" stroke="#6e6e6e" stroke-width="0.8" />
<line x1="1214" y1="304.5" x2="1233.5" y2="298.7" stroke="#6e6e6e" stroke-width="0.8" />
<rect x="1208" y="234.4" width="13" height="12" fill="#c3c7e2" stroke="#a7abc9" stroke-width="0.4"/>
<rect x="1220" y="247" width="13" height="11" fill="#ffffff" stroke="#8e8e8e" stroke-width="0.5" />
<g transform="translate(1222,253.5) rotate(-60)"><path d="M0,-3.4 L3.06,-0.68 L1.7,3.4 L-1.7,3.4 L-3.06,-0.68 Z" fill="#fff" stroke="#8e8e8e" stroke-width="0.5"/><circle r="1.19" cy="-1.02" fill="#fff" stroke="#8e8e8e" stroke-width="0.4"/></g>
<circle cx="1186.4" cy="256.6" r="4.2" fill="#ffffff" stroke="#b9b9b9" stroke-width="0.5"/>
<circle cx="1166.4" cy="264.6" r="4.2" fill="#ffffff" stroke="#b9b9b9" stroke-width="0.5"/>
<circle cx="1231.4" cy="272.4" r="4.2" fill="#ffffff" stroke="#b9b9b9" stroke-width="0.5"/>
<rect x="1207.4" y="276.4" width="7.2" height="7.2" fill="#ffffff" stroke="#8e8e8e" stroke-width="0.5" rx="2"/>
<g transform="translate(1167,250) rotate(10)"><path d="M0,-2.6 L2.34,-0.52 L1.3,2.6 L-1.3,2.6 L-2.34,-0.52 Z" fill="#fff" stroke="#8e8e8e" stroke-width="0.5"/><circle r="0.91" cy="-0.78" fill="#fff" stroke="#8e8e8e" stroke-width="0.4"/></g>
<g transform="translate(1189.4,239) rotate(40)"><path d="M0,-2.6 L2.34,-0.52 L1.3,2.6 L-1.3,2.6 L-2.34,-0.52 Z" fill="#fff" stroke="#8e8e8e" stroke-width="0.5"/><circle r="0.91" cy="-0.78" fill="#fff" stroke="#8e8e8e" stroke-width="0.4"/></g>
<g transform="translate(1230,286.4) rotate(100)"><path d="M0,-2.6 L2.34,-0.52 L1.3,2.6 L-1.3,2.6 L-2.34,-0.52 Z" fill="#fff" stroke="#8e8e8e" stroke-width="0.5"/><circle r="0.91" cy="-0.78" fill="#fff" stroke="#8e8e8e" stroke-width="0.4"/></g>
<g transform="translate(1207,297.4) rotate(200)"><path d="M0,-2.6 L2.34,-0.52 L1.3,2.6 L-1.3,2.6 L-2.34,-0.52 Z" fill="#fff" stroke="#8e8e8e" stroke-width="0.5"/><circle r="0.91" cy="-0.78" fill="#fff" stroke="#8e8e8e" stroke-width="0.4"/></g>
<path d="M1160,293 A16,16 0 0 1 1176,309" fill="none" stroke="#9a9a9a" stroke-width="0.5" stroke-dasharray="2 1.6"/>
<path d="M1174,314.4 A14,14 0 0 1 1160,328.4" fill="none" stroke="#9a9a9a" stroke-width="0.5" stroke-dasharray="2 1.6"/>
<circle cx="1238" cy="323.4" r="3.4" fill="#f2c4d4" stroke="#d9a5b8" stroke-width="0.5"/>
<circle cx="1195" cy="331.6" r="3.6" fill="#ffffff" stroke="#b9b9b9" stroke-width="0.5"/>
<circle cx="1201.4" cy="342" r="6" fill="#ffffff" stroke="#b9b9b9" stroke-width="0.5"/>
<g transform="translate(1190,347.4) rotate(-25)"><ellipse rx="5.6" ry="4.76" fill="#fff" stroke="#9c9c9c" stroke-width="0.5"/><path d="M-1.96,-4.37 V4.37 M1.96,-4.37 V4.37" stroke="#b5b5b5" stroke-width="0.5" fill="none"/></g>
<g transform="translate(1213,348) rotate(25)"><ellipse rx="5.6" ry="4.76" fill="#fff" stroke="#9c9c9c" stroke-width="0.5"/><path d="M-1.96,-4.37 V4.37 M1.96,-4.37 V4.37" stroke="#b5b5b5" stroke-width="0.5" fill="none"/></g>
<g transform="translate(1241,346) rotate(0)"><ellipse rx="5.6" ry="4.76" fill="#fff" stroke="#9c9c9c" stroke-width="0.5"/><path d="M-1.96,-4.37 V4.37 M1.96,-4.37 V4.37" stroke="#b5b5b5" stroke-width="0.5" fill="none"/></g>
<polygon points="1174.67,349 1171.17,350.04 1174.67,353.2 1169.42,351.38 1170.15,354.87 1167.7,353.12 1165.82,355.96 1165.34,352.09 1160.75,355.14 1162.97,351.2 1159.37,350.91 1162.79,349 1157.68,346.67 1163.51,347.09 1160.89,342.99 1165.38,345.97 1165.79,341.86 1167.68,344.97 1170.38,342.69 1169.6,346.44 1173.13,345.65 1170.81,348.05" fill="#cfd94a" opacity="0.85"/>
<polygon points="1172.67,350.48 1169.92,350.64 1170.47,352.48 1168.29,351.48 1167.74,353.76 1166.51,351.71 1163.81,354.78 1165.18,350.75 1160.98,352.21 1164.05,349.71 1161.36,348.95 1164.13,348.25 1161.48,345.9 1164.73,346.72 1164.72,344.61 1166.62,346.58 1167.79,344.67 1168.38,346.5 1171.53,344.65 1169.77,347.52 1173.67,347.4 1170.37,349.03" fill="#c9da5a" opacity="0.9"/>
<line x1="1167" y1="349" x2="1172.27" y2="349" stroke="#e4ecaa" stroke-width="0.4" />
<line x1="1167" y1="349" x2="1170.31" y2="353.09" stroke="#e4ecaa" stroke-width="0.4" />
<line x1="1167" y1="349" x2="1165.91" y2="354.15" stroke="#e4ecaa" stroke-width="0.4" />
<line x1="1167" y1="349" x2="1162.31" y2="351.39" stroke="#e4ecaa" stroke-width="0.4" />
<line x1="1167" y1="349" x2="1162.19" y2="346.86" stroke="#e4ecaa" stroke-width="0.4" />
<line x1="1167" y1="349" x2="1165.64" y2="343.91" stroke="#e4ecaa" stroke-width="0.4" />
<line x1="1167" y1="349" x2="1170.09" y2="344.74" stroke="#e4ecaa" stroke-width="0.4" />
<circle cx="1175" cy="351" r="4" fill="#8fc63d" />
<path d="M1173,351 q1.6,-2.8 3.6,-0.8 M1174.2,353 q1.2,-1.6 2.8,-0.4" stroke="#b8dc7a" stroke-width="0.5" fill="none"/>
<rect x="1162" y="362" width="34.4" height="17" fill="#ffffff" />
<circle cx="1238.6" cy="365.6" r="3.4" fill="#f2c4d4" stroke="#d9a5b8" stroke-width="0.5"/>
<g transform="translate(1216,393.6) rotate(-30)"><ellipse rx="5.6" ry="4.76" fill="#fff" stroke="#9c9c9c" stroke-width="0.5"/><path d="M-1.96,-4.37 V4.37 M1.96,-4.37 V4.37" stroke="#b5b5b5" stroke-width="0.5" fill="none"/></g>
<g transform="translate(1233.6,390) rotate(30)"><ellipse rx="6" ry="5.1" fill="#fff" stroke="#9c9c9c" stroke-width="0.5"/><path d="M-2.1,-4.68 V4.68 M2.1,-4.68 V4.68" stroke="#b5b5b5" stroke-width="0.5" fill="none"/></g>
<circle cx="1226" cy="398.6" r="3" fill="#ffffff" stroke="#b9b9b9" stroke-width="0.5"/>
<circle cx="1249" cy="397" r="4.8" fill="#8fc63d" />
<path d="M1246.6,397 q1.92,-3.36 4.32,-0.96 M1248.04,399.4 q1.44,-1.92 3.36,-0.48" stroke="#b8dc7a" stroke-width="0.5" fill="none"/>
<path d="M1160,387 A16,16 0 0 1 1176,403" fill="none" stroke="#9a9a9a" stroke-width="0.5" stroke-dasharray="2 1.6"/>
<rect x="832.8" y="268.6" width="6.6" height="20" fill="#f6f6f6" stroke="0.4" stroke-width="#9a9a9a" />
<line x1="832.8" y1="268.6" x2="839.4" y2="288.6" stroke="#9a9a9a" stroke-width="0.4" />
<line x1="832.8" y1="288.6" x2="839.4" y2="268.6" stroke="#9a9a9a" stroke-width="0.4" />
<rect x="832.8" y="289.4" width="6.6" height="19.6" fill="#f6f6f6" stroke="0.4" stroke-width="#9a9a9a" />
<line x1="832.8" y1="289.4" x2="839.4" y2="309" stroke="#9a9a9a" stroke-width="0.4" />
<line x1="832.8" y1="309" x2="839.4" y2="289.4" stroke="#9a9a9a" stroke-width="0.4" />
<line x1="877" y1="268.6" x2="877" y2="286.6" stroke="#7a7a7a" stroke-width="0.45" />
<line x1="877" y1="291.4" x2="877" y2="309.4" stroke="#7a7a7a" stroke-width="0.45" />
<line x1="881.9" y1="268.6" x2="881.9" y2="286.6" stroke="#7a7a7a" stroke-width="0.45" />
<line x1="881.9" y1="291.4" x2="881.9" y2="309.4" stroke="#7a7a7a" stroke-width="0.45" />
<line x1="886.8" y1="268.6" x2="886.8" y2="286.6" stroke="#7a7a7a" stroke-width="0.45" />
<line x1="886.8" y1="291.4" x2="886.8" y2="309.4" stroke="#7a7a7a" stroke-width="0.45" />
<line x1="891.7" y1="268.6" x2="891.7" y2="286.6" stroke="#7a7a7a" stroke-width="0.45" />
<line x1="891.7" y1="291.4" x2="891.7" y2="309.4" stroke="#7a7a7a" stroke-width="0.45" />
<line x1="896.6" y1="268.6" x2="896.6" y2="286.6" stroke="#7a7a7a" stroke-width="0.45" />
<line x1="896.6" y1="291.4" x2="896.6" y2="309.4" stroke="#7a7a7a" stroke-width="0.45" />
<line x1="901.5" y1="268.6" x2="901.5" y2="286.6" stroke="#7a7a7a" stroke-width="0.45" />
<line x1="901.5" y1="291.4" x2="901.5" y2="309.4" stroke="#7a7a7a" stroke-width="0.45" />
<line x1="906.4" y1="268.6" x2="906.4" y2="286.6" stroke="#7a7a7a" stroke-width="0.45" />
<line x1="906.4" y1="291.4" x2="906.4" y2="309.4" stroke="#7a7a7a" stroke-width="0.45" />
<line x1="911.3" y1="268.6" x2="911.3" y2="286.6" stroke="#7a7a7a" stroke-width="0.45" />
<line x1="911.3" y1="291.4" x2="911.3" y2="309.4" stroke="#7a7a7a" stroke-width="0.45" />
<line x1="916.2" y1="268.6" x2="916.2" y2="286.6" stroke="#7a7a7a" stroke-width="0.45" />
<line x1="916.2" y1="291.4" x2="916.2" y2="309.4" stroke="#7a7a7a" stroke-width="0.45" />
<line x1="921.1" y1="268.6" x2="921.1" y2="286.6" stroke="#7a7a7a" stroke-width="0.45" />
<line x1="921.1" y1="291.4" x2="921.1" y2="309.4" stroke="#7a7a7a" stroke-width="0.45" />
<line x1="872" y1="268.8" x2="921" y2="268.8" stroke="#7a7a7a" stroke-width="0.5" />
<line x1="872" y1="286.6" x2="921" y2="286.6" stroke="#7a7a7a" stroke-width="0.5" />
<line x1="872" y1="291.4" x2="921" y2="291.4" stroke="#7a7a7a" stroke-width="0.5" />
<line x1="872" y1="309.2" x2="921" y2="309.2" stroke="#7a7a7a" stroke-width="0.5" />
<line x1="877" y1="277.6" x2="921" y2="277.6" stroke="#7a7a7a" stroke-width="0.4" />
<line x1="877" y1="300.4" x2="921" y2="300.4" stroke="#7a7a7a" stroke-width="0.4" />
<line x1="921" y1="268.6" x2="921" y2="309.4" stroke="#7a7a7a" stroke-width="0.5" />
<path d="M917,297 l3.4,3.4 l-3.4,3.4" fill="none" stroke="#7a7a7a" stroke-width="0.4"/>
<path d="M880,274 l-3.4,3.6 l3.4,3.6" fill="none" stroke="#7a7a7a" stroke-width="0.4"/>
<circle cx="860" cy="352.4" r="6" fill="#ffffff" stroke="#b9b9b9" stroke-width="0.5"/>
<g transform="translate(890,343) rotate(30)"><path d="M0,-3.6 L3.24,-0.72 L1.8,3.6 L-1.8,3.6 L-3.24,-0.72 Z" fill="#fff" stroke="#8e8e8e" stroke-width="0.5"/><circle r="1.26" cy="-1.08" fill="#fff" stroke="#8e8e8e" stroke-width="0.4"/></g>
<circle cx="893.5" cy="340.6" r="2.6" fill="#ffffff" stroke="#b9b9b9" stroke-width="0.5"/>
<path d="M836,328 A11,11 0 0 1 847,339" fill="none" stroke="#9a8fb5" stroke-width="0.5" stroke-dasharray="2 1.6"/>
<path d="M925,331 A12,12 0 0 1 913,319" fill="none" stroke="#9a8fb5" stroke-width="0.5" stroke-dasharray="2 1.6"/>
<path d="M914,360 V341.6 H925" fill="none" stroke="#9a8fb5" stroke-width="0.5"/>
<line x1="836" y1="321.4" x2="925" y2="321.4" stroke="#a99bc2" stroke-width="0.5" />
<path d="M836,380 a12,12 0 0 0 12,-12 V364" fill="#fff" stroke="#9a9a9a" stroke-width="0.5"/>
<ellipse cx="872.6" cy="370.6" rx="3.2" ry="3.8" fill="#f2f2f2" stroke="#b5b5b5" stroke-width="0.5"/>
<rect x="855.4" y="377.4" width="10.6" height="5.6" fill="#fff" stroke="0.5" stroke-width="#6e6e6e" />
<rect x="859.6" y="380" width="2" height="2.6" fill="#3d3d3d" />
<rect x="885.6" y="369.6" width="6" height="8.4" fill="#fff" stroke="0.5" stroke-width="#8e8e8e" />
<rect x="888.4" y="371.6" width="4.2" height="4.4" fill="#fff" stroke="0.4" stroke-width="#8e8e8e" />
<path d="M909,392.6 a12,12 0 0 1 12,-12 V392.6" fill="#fff" stroke="#9a9a9a" stroke-width="0.5"/>
<line x1="837" y1="386.2" x2="877" y2="391" stroke="#9a9a9a" stroke-width="0.4" />
<line x1="837" y1="391" x2="877" y2="386.2" stroke="#9a9a9a" stroke-width="0.4" />
<line x1="883" y1="386.2" x2="904.6" y2="391" stroke="#9a9a9a" stroke-width="0.4" />
<line x1="883" y1="391" x2="904.6" y2="386.2" stroke="#9a9a9a" stroke-width="0.4" />
<circle cx="933.6" cy="341.6" r="4.8" fill="#8fc63d" />
<path d="M931.2,341.6 q1.92,-3.36 4.32,-0.96 M932.64,344 q1.44,-1.92 3.36,-0.48" stroke="#b8dc7a" stroke-width="0.5" fill="none"/>
<path d="M942.4,329 A19,19 0 0 1 961.4,348" fill="none" stroke="#7f93ad" stroke-width="0.5" stroke-dasharray="2 1.6"/>
<line x1="942.4" y1="348" x2="942.4" y2="329" stroke="#7f93ad" stroke-width="0.6" />
<path d="M942.4,373 A19,19 0 0 1 961.4,392" fill="none" stroke="#9aa9bd" stroke-width="0.5" stroke-dasharray="2 1.6"/>
<line x1="942.4" y1="392" x2="942.4" y2="373" stroke="#9aa9bd" stroke-width="0.6" />
<path d="M963,340.3 H1010 V348.3 H963 Z M980,340.3 V348.3 M993,340.3 V348.3 M1003,340.3 V348.3" fill="none" stroke="#b5b5b5" stroke-width="0.4"/>
<circle cx="985.6" cy="344" r="0.5" fill="#7a7a7a" />
<circle cx="997.6" cy="344" r="0.5" fill="#7a7a7a" />
<path d="M929.6,355 h2.4 v34 h-2.4 z" fill="#fff" stroke="#9a9a9a" stroke-width="0.4"/>
<line x1="928" y1="392.6" x2="1017" y2="392.6" stroke="#8a8a8a" stroke-width="0.8" />
<path d="M936,357 l5,-6" stroke="#e6edf6" stroke-width="2" stroke-linecap="round"/>
<path d="M944,352 l5,-6" stroke="#e6edf6" stroke-width="2" stroke-linecap="round"/>
<path d="M966,366 l5,-6" stroke="#f4f7fc" stroke-width="2" stroke-linecap="round"/>
<path d="M976,352 l5,-6" stroke="#f4f7fc" stroke-width="2" stroke-linecap="round"/>
<path d="M1000,352 l5,-6" stroke="#f4f7fc" stroke-width="2" stroke-linecap="round"/>
<path d="M1006,362 l5,-6" stroke="#dfe6ef" stroke-width="2" stroke-linecap="round"/>
<path d="M938,400 l6,-7" stroke="#f0efcf" stroke-width="2" stroke-linecap="round"/>
<path d="M958,400 l6,-7" stroke="#f0efcf" stroke-width="2" stroke-linecap="round"/>
<path d="M978,400 l6,-7" stroke="#f0efcf" stroke-width="2" stroke-linecap="round"/>
<path d="M996,400 l6,-7" stroke="#f0efcf" stroke-width="2" stroke-linecap="round"/>
<rect x="1022" y="268.6" width="44.6" height="3" fill="#fff" stroke="0.4" stroke-width="#8e8e8e" />
<rect x="1024.6" y="277" width="41" height="30.6" fill="#fff" stroke="#9a9a9a" stroke-width="0.5"/>
<rect x="1026.6" y="280.6" width="37" height="25" fill="#fff" stroke="#b9b9b9" stroke-width="0.5"/>
<line x1="1024.6" y1="280.6" x2="1065.6" y2="280.6" stroke="#b9b9b9" stroke-width="0.5" />
<line x1="1020" y1="278" x2="1020" y2="308" stroke="#9a9a9a" stroke-width="0.4" />
<line x1="1022.2" y1="278" x2="1022.2" y2="308" stroke="#9a9a9a" stroke-width="0.4" />
<circle cx="1033.6" cy="345" r="6" fill="#fff" stroke="#d9d2e6" stroke-width="0.5"/>
<circle cx="1058" cy="358.6" r="6" fill="#fff" stroke="#d9d2e6" stroke-width="0.5"/>
<circle cx="1033" cy="377" r="6" fill="#fff" stroke="#d9d2e6" stroke-width="0.5"/>
<path d="M1046,326 q12,1 21,14 M1047,319 q13,-1 20,6" fill="none" stroke="#9a8fb5" stroke-width="0.5"/>
<path d="M1079.6,268.6 h9 v5 a4.5,4.5 0 0 1 -9,0 z" fill="#fff" stroke="#9a9a9a" stroke-width="0.5"/>
<ellipse cx="1084" cy="274.6" rx="5.4" ry="4.4" fill="none" stroke="#9a9a9a" stroke-width="0.5"/>
<path d="M1074.4,293.4 h6.6 a3.4,3.4 0 0 1 0,6.6 h-6.6 z" fill="#fff" stroke="#8e8e8e" stroke-width="0.5"/>
<path d="M1085.6,301 H1111 M1085.6,301 V326.6 H1111 M1074,324.6 H1085.6" fill="none" stroke="#9a9a9a" stroke-width="0.5" stroke-dasharray="2.4 1.6"/>
<line x1="1074" y1="324.6" x2="1085.6" y2="324.6" stroke="#8e8e8e" stroke-width="0.5" />
<path d="M1111,305 A13,13 0 0 1 1098,292" fill="none" stroke="#9a9a9a" stroke-width="0.5" stroke-dasharray="2 1.6"/>
<ellipse cx="1081" cy="355.4" rx="4" ry="3" fill="#f2f2f2" stroke="#b9b9b9" stroke-width="0.5"/>
<rect x="1092.6" y="348.4" width="10" height="5" fill="#f2f2f2" stroke="0.4" stroke-width="#9a9a9a" />
<rect x="1109.4" y="356.6" width="5.2" height="4.4" fill="#7a7a7a" />
<line x1="1071.4" y1="380.6" x2="1092.6" y2="392.6" stroke="#9a9a9a" stroke-width="0.4" />
<line x1="1071.4" y1="392.6" x2="1092.6" y2="380.6" stroke="#9a9a9a" stroke-width="0.4" />
<line x1="1093.4" y1="380" x2="1093.4" y2="393" stroke="#9a9a9a" stroke-width="0.5" />
<path d="M1139.1,362 A0.1,0.1 0 0 1 1139.1,362" fill="none" stroke="#9a9a9a" stroke-width="0.5" stroke-dasharray="2 1.6"/>
<path d="M1115,374.6 l13,-2.6 l2,-9.4 H1115" fill="none" stroke="#b0a878" stroke-width="0.4" stroke-dasharray="2 1.5"/>
<rect x="885.6" y="462.4" width="10" height="22" fill="#fff" stroke="0.4" stroke-width="#b9b9b9" />
<circle cx="909" cy="443.6" r="4.6" fill="#8fc63d" />
<path d="M906.7,443.6 q1.84,-3.22 4.14,-0.92 M908.08,445.9 q1.38,-1.84 3.22,-0.46" stroke="#b8dc7a" stroke-width="0.5" fill="none"/>
<line x1="916" y1="447.5" x2="925.6" y2="447.5" stroke="#cfcfcf" stroke-width="0.5" />
<line x1="916" y1="455.1" x2="925.6" y2="455.1" stroke="#cfcfcf" stroke-width="0.5" />
<line x1="916" y1="462.7" x2="925.6" y2="462.7" stroke="#cfcfcf" stroke-width="0.5" />
<line x1="916" y1="470.3" x2="925.6" y2="470.3" stroke="#cfcfcf" stroke-width="0.5" />
<line x1="916" y1="477.9" x2="925.6" y2="477.9" stroke="#cfcfcf" stroke-width="0.5" />
<line x1="916" y1="485.5" x2="925.6" y2="485.5" stroke="#cfcfcf" stroke-width="0.5" />
<line x1="916" y1="493.1" x2="925.6" y2="493.1" stroke="#cfcfcf" stroke-width="0.5" />
<rect x="926" y="438.6" width="15" height="8.4" fill="#e8e8e8" />
<path d="M926.4,447.6 H942 V438.6" fill="none" stroke="#6e6e6e" stroke-width="0.9"/>
<path d="M927.4,448 H934.6 V493.4 H1010.4 V448 H1017.6 V500.6 H927.4 Z" fill="#f3f3f3" stroke="#c9c9c9" stroke-width="0.4"/>
<path d="M934.6,448 H942.4 V485.6 H1001.6 V438.6 H1010.4 V493.4 H934.6 Z" fill="#ffffff" stroke="#c9c9c9" stroke-width="0.4"/>
<rect x="936.0" y="494.6" width="11.2" height="5.4" rx="1.4" fill="#fff" stroke="#c4c4c4" stroke-width="0.4"/>
<circle cx="941.6" cy="497.4" r="0.4" fill="#8e8e8e" />
<rect x="961.4" y="494.6" width="11.2" height="5.4" rx="1.4" fill="#fff" stroke="#c4c4c4" stroke-width="0.4"/>
<circle cx="967" cy="497.4" r="0.4" fill="#8e8e8e" />
<rect x="983.4" y="494.6" width="11.2" height="5.4" rx="1.4" fill="#fff" stroke="#c4c4c4" stroke-width="0.4"/>
<circle cx="989" cy="497.4" r="0.4" fill="#8e8e8e" />
<rect x="1002.4" y="494.6" width="11.2" height="5.4" rx="1.4" fill="#fff" stroke="#c4c4c4" stroke-width="0.4"/>
<circle cx="1008" cy="497.4" r="0.4" fill="#8e8e8e" />
<rect x="954" y="486.4" width="10" height="6" rx="1.2" fill="#fff" stroke="#c4c4c4" stroke-width="0.4"/>
<circle cx="959" cy="489.4" r="0.4" fill="#8e8e8e" />
<rect x="983" y="486.4" width="10" height="6" rx="1.2" fill="#fff" stroke="#c4c4c4" stroke-width="0.4"/>
<circle cx="988" cy="489.4" r="0.4" fill="#8e8e8e" />
<rect x="928" y="464" width="6.2" height="11" rx="1.2" fill="#fff" stroke="#c4c4c4" stroke-width="0.4"/>
<rect x="971.6" y="461.6" width="3.4" height="4" fill="#dfe9f5" stroke="#8e8e8e" stroke-width="0.4"/>
<path d="M964.4,471.6 l6.4,-6.4" stroke="#c3d0df" stroke-width="2.2" stroke-linecap="round"/>
<circle cx="997.6" cy="472.6" r="0.4" fill="#7a7a7a" />
<path d="M1005.6,471 a4,4.6 0 0 1 8,-1.6 v4.6 h-8 z M1008,468 a2.4,2 0 0 1 4.8,0.4" fill="#fff" stroke="#8e8e8e" stroke-width="0.5"/>
<circle cx="1026.6" cy="445.6" r="4.6" fill="#8fc63d" />
<path d="M1024.3,445.6 q1.84,-3.22 4.14,-0.92 M1025.68,447.9 q1.38,-1.84 3.22,-0.46" stroke="#b8dc7a" stroke-width="0.5" fill="none"/>
<line x1="1020" y1="473.6" x2="1033.6" y2="473.6" stroke="#c9c9c9" stroke-width="0.4" />
<rect x="1036" y="459.6" width="10" height="8" fill="#fff" stroke="0.6" stroke-width="#6e6e6e" />
<line x1="1038.8" y1="458" x2="1038.8" y2="459.6" stroke="#6e6e6e" stroke-width="0.6" />
<line x1="1043.2" y1="458" x2="1043.2" y2="459.6" stroke="#6e6e6e" stroke-width="0.6" />
<line x1="1038.8" y1="469.2" x2="1038.8" y2="467.6" stroke="#6e6e6e" stroke-width="0.6" />
<line x1="1043.2" y1="469.2" x2="1043.2" y2="467.6" stroke="#6e6e6e" stroke-width="0.6" />
<line x1="1034.8" y1="463.6" x2="1036" y2="463.6" stroke="#6e6e6e" stroke-width="0.6" />
<rect x="1036" y="480" width="10" height="8" fill="#fff" stroke="0.6" stroke-width="#6e6e6e" />
<line x1="1038.8" y1="478.4" x2="1038.8" y2="480" stroke="#6e6e6e" stroke-width="0.6" />
<line x1="1043.2" y1="478.4" x2="1043.2" y2="480" stroke="#6e6e6e" stroke-width="0.6" />
<line x1="1038.8" y1="489.6" x2="1038.8" y2="488" stroke="#6e6e6e" stroke-width="0.6" />
<line x1="1043.2" y1="489.6" x2="1043.2" y2="488" stroke="#6e6e6e" stroke-width="0.6" />
<line x1="1034.8" y1="484" x2="1036" y2="484" stroke="#6e6e6e" stroke-width="0.6" />
<g transform="translate(1031,465) rotate(-90)"><path d="M0,-3 L2.7,-0.6 L1.5,3 L-1.5,3 L-2.7,-0.6 Z" fill="#fff" stroke="#8e8e8e" stroke-width="0.5"/><circle r="1.05" cy="-0.9" fill="#fff" stroke="#8e8e8e" stroke-width="0.4"/></g>
<rect x="841" y="440" width="6" height="60" fill="#f0f0f0" />
<rect x="871" y="440" width="6" height="60" fill="#f0f0f0" />
<rect x="841.4" y="440" width="7.6" height="7" fill="#efefef" />
<rect x="841.4" y="448" width="7.6" height="7" fill="#efefef" />
<rect x="841.4" y="456" width="9.6" height="22" fill="#efefef" />
<rect x="863" y="440" width="13" height="9" fill="#efefef" />
<rect x="867.4" y="487.4" width="7.2" height="7.2" fill="#efefef" />
<rect x="841.4" y="440" width="34.6" height="1.6" fill="#e6e6e6" />
<rect x="1098.9" y="440" width="6" height="60" fill="#f0f0f0" />
<rect x="1068.9" y="440" width="6" height="60" fill="#f0f0f0" />
<rect x="1096.9" y="440" width="7.6" height="7" fill="#efefef" />
<rect x="1096.9" y="448" width="7.6" height="7" fill="#efefef" />
<rect x="1094.9" y="456" width="9.6" height="22" fill="#efefef" />
<rect x="1069.9" y="440" width="13" height="9" fill="#efefef" />
<rect x="1071.3" y="487.4" width="7.2" height="7.2" fill="#efefef" />
<rect x="1069.9" y="440" width="34.6" height="1.6" fill="#e6e6e6" />
<rect x="868" y="660" width="153" height="22.6" fill="#ffffff" />
<rect x="868" y="660.6" width="13" height="22" fill="#747474" />
<rect x="870.6" y="663" width="7.8" height="17" fill="#e3e3e3" />
<rect x="1018" y="660.6" width="3" height="22" fill="#747474" />
<line x1="881" y1="661" x2="1018" y2="661" stroke="#8e8e8e" stroke-width="0.6" />
<line x1="881" y1="667.6" x2="1018" y2="667.6" stroke="#d0d0d0" stroke-width="0.5" />
<path d="M887.6,679.8 V674 a2,2 0 0 1 2,-2 H896.4 a2,2 0 0 1 2,2 V679.8 Z" fill="#fff" stroke="#b9b9b9" stroke-width="0.45"/>
<circle cx="893" cy="676.4" r="0.4" fill="#8e8e8e" />
<path d="M906.2,679.8 V674 a2,2 0 0 1 2,-2 H915.0 a2,2 0 0 1 2,2 V679.8 Z" fill="#fff" stroke="#b9b9b9" stroke-width="0.45"/>
<circle cx="911.6" cy="676.4" r="0.4" fill="#8e8e8e" />
<path d="M924.6,679.8 V674 a2,2 0 0 1 2,-2 H933.4 a2,2 0 0 1 2,2 V679.8 Z" fill="#fff" stroke="#b9b9b9" stroke-width="0.45"/>
<circle cx="930" cy="676.4" r="0.4" fill="#8e8e8e" />
<path d="M942.6,679.8 V674 a2,2 0 0 1 2,-2 H951.4 a2,2 0 0 1 2,2 V679.8 Z" fill="#fff" stroke="#b9b9b9" stroke-width="0.45"/>
<circle cx="948" cy="676.4" r="0.4" fill="#8e8e8e" />
<path d="M961.2,679.8 V674 a2,2 0 0 1 2,-2 H970.0 a2,2 0 0 1 2,2 V679.8 Z" fill="#fff" stroke="#b9b9b9" stroke-width="0.45"/>
<circle cx="966.6" cy="676.4" r="0.4" fill="#8e8e8e" />
<path d="M980.2,679.8 V674 a2,2 0 0 1 2,-2 H989.0 a2,2 0 0 1 2,2 V679.8 Z" fill="#fff" stroke="#b9b9b9" stroke-width="0.45"/>
<circle cx="985.6" cy="676.4" r="0.4" fill="#8e8e8e" />
<path d="M998.6,679.8 V674 a2,2 0 0 1 2,-2 H1007.4 a2,2 0 0 1 2,2 V679.8 Z" fill="#fff" stroke="#b9b9b9" stroke-width="0.45"/>
<circle cx="1004" cy="676.4" r="0.4" fill="#8e8e8e" />
<rect x="868" y="681.2" width="153" height="2" fill="#7a7a7a" />
<rect x="902" y="681.2" width="92" height="2" fill="#7a7a7a" />
<rect x="868" y="683.6" width="152.4" height="12.6" fill="#ffffff" stroke="#c9c9c9" stroke-width="0.4"/>
<path d="M895.4,683.6 H902.6 L905,695 H893 Z" fill="#f6f6f6" stroke="#c4c4c4" stroke-width="0.5"/>
<rect x="892.4" y="694.6" width="13.2" height="1.8" fill="#d2d2d2" />
<path d="M996.4,683.6 H1004.6 L1007,695 H994 Z" fill="#f6f6f6" stroke="#c4c4c4" stroke-width="0.5"/>
<rect x="993.4" y="694.6" width="14.2" height="1.8" fill="#d2d2d2" />
<rect x="921.0" y="686.4" width="10.8" height="7.4" fill="#fff" stroke="#5a5a5a" stroke-width="0.6"/>
<rect x="922.6" y="687.8" width="7.6" height="4.6" fill="#f2f2f2" stroke="#8e8e8e" stroke-width="0.4"/>
<circle cx="927.8" cy="689.6" r="0.6" fill="#3d3d3d" />
<rect x="968.0" y="686.4" width="10.8" height="7.4" fill="#fff" stroke="#5a5a5a" stroke-width="0.6"/>
<rect x="969.6" y="687.8" width="7.6" height="4.6" fill="#f2f2f2" stroke="#8e8e8e" stroke-width="0.4"/>
<circle cx="974.8" cy="689.6" r="0.6" fill="#3d3d3d" />
<rect x="947" y="683.6" width="5.4" height="12.6" fill="#dcdcdc" stroke="#b0b0b0" stroke-width="0.4"/>
<rect x="1023" y="667" width="10.6" height="27" fill="#fff" stroke="0.4" stroke-width="#d9d9d9" />
<rect x="886" y="696.4" width="127.6" height="3.6" fill="#9ab6d3" />
<rect x="861" y="699" width="25" height="4" fill="#9ab6d3" />
<rect x="886" y="712" width="61" height="12.4" fill="#ffffff" stroke="#9a9a9a" stroke-width="0.5"/>
<rect x="953" y="712" width="60.6" height="12.4" fill="#ffffff" stroke="#9a9a9a" stroke-width="0.5"/>
<path d="M889.6,712 V718.6 H947 M953,718.6 H1010 V712" fill="none" stroke="#9a9a9a" stroke-width="0.5"/>
<path d="M886,712 V697 M1013.6,712 V697 M902,697 a15,15 0 0 1 -15,14 M998,697 a15,15 0 0 0 15,14" fill="none" stroke="#7b93b0" stroke-width="0.5" stroke-dasharray="2 1.5"/>
<line x1="886" y1="697" x2="886" y2="712" stroke="#7b93b0" stroke-width="0.6" />
<line x1="1013.6" y1="697" x2="1013.6" y2="712" stroke="#7b93b0" stroke-width="0.6" />
<path d="M949.6,696.4 V716 L951,730 L945,747 L955,759 L949,777" fill="none" stroke="#8e8e8e" stroke-width="2.2" stroke-linejoin="round"/>
<path d="M949.6,696.4 V716 L951,730 L945,747 L955,759 L949,777" fill="none" stroke="#ffffff" stroke-width="1.3" stroke-linejoin="round"/>
<circle cx="949" cy="780" r="1.4" fill="#fff" stroke="#8e8e8e" stroke-width="0.5"/>
<rect x="899.1" y="742.6" width="5.8" height="6.6" rx="1" fill="#fff" stroke="#9a9a9a" stroke-width="0.45"/>
<line x1="898.4" y1="743.8" x2="905.6" y2="743.8" stroke="#9a9a9a" stroke-width="0.5" />
<rect x="899.1" y="761.6" width="5.8" height="6.6" rx="1" fill="#fff" stroke="#9a9a9a" stroke-width="0.45"/>
<line x1="898.4" y1="767" x2="905.6" y2="767" stroke="#9a9a9a" stroke-width="0.5" />
<rect x="913.5" y="742.6" width="5.8" height="6.6" rx="1" fill="#fff" stroke="#9a9a9a" stroke-width="0.45"/>
<line x1="912.8" y1="743.8" x2="920" y2="743.8" stroke="#9a9a9a" stroke-width="0.5" />
<rect x="913.5" y="761.6" width="5.8" height="6.6" rx="1" fill="#fff" stroke="#9a9a9a" stroke-width="0.45"/>
<line x1="912.8" y1="767" x2="920" y2="767" stroke="#9a9a9a" stroke-width="0.5" />
<rect x="928.1" y="742.6" width="5.8" height="6.6" rx="1" fill="#fff" stroke="#9a9a9a" stroke-width="0.45"/>
<line x1="927.4" y1="743.8" x2="934.6" y2="743.8" stroke="#9a9a9a" stroke-width="0.5" />
<rect x="928.1" y="761.6" width="5.8" height="6.6" rx="1" fill="#fff" stroke="#9a9a9a" stroke-width="0.45"/>
<line x1="927.4" y1="767" x2="934.6" y2="767" stroke="#9a9a9a" stroke-width="0.5" />
<rect x="888.4" y="752.2" width="6" height="6.2" rx="1" fill="#fff" stroke="#9a9a9a" stroke-width="0.45"/>
<rect x="937.6" y="752.2" width="6" height="6.2" rx="1" fill="#fff" stroke="#9a9a9a" stroke-width="0.45"/>
<rect x="895" y="749" width="42" height="12.6" rx="0.6" fill="#ffffff" stroke="#d9d9d9" stroke-width="0.4"/>
<rect x="965.7" y="742.6" width="5.8" height="6.6" rx="1" fill="#fff" stroke="#9a9a9a" stroke-width="0.45"/>
<line x1="965" y1="743.8" x2="972.2" y2="743.8" stroke="#9a9a9a" stroke-width="0.5" />
<rect x="965.7" y="761.6" width="5.8" height="6.6" rx="1" fill="#fff" stroke="#9a9a9a" stroke-width="0.45"/>
<line x1="965" y1="767" x2="972.2" y2="767" stroke="#9a9a9a" stroke-width="0.5" />
<rect x="980.1" y="742.6" width="5.8" height="6.6" rx="1" fill="#fff" stroke="#9a9a9a" stroke-width="0.45"/>
<line x1="979.4" y1="743.8" x2="986.6" y2="743.8" stroke="#9a9a9a" stroke-width="0.5" />
<rect x="980.1" y="761.6" width="5.8" height="6.6" rx="1" fill="#fff" stroke="#9a9a9a" stroke-width="0.45"/>
<line x1="979.4" y1="767" x2="986.6" y2="767" stroke="#9a9a9a" stroke-width="0.5" />
<rect x="994.7" y="742.6" width="5.8" height="6.6" rx="1" fill="#fff" stroke="#9a9a9a" stroke-width="0.45"/>
<line x1="994" y1="743.8" x2="1001.2" y2="743.8" stroke="#9a9a9a" stroke-width="0.5" />
<rect x="994.7" y="761.6" width="5.8" height="6.6" rx="1" fill="#fff" stroke="#9a9a9a" stroke-width="0.45"/>
<line x1="994" y1="767" x2="1001.2" y2="767" stroke="#9a9a9a" stroke-width="0.5" />
<rect x="955" y="752.2" width="6" height="6.2" rx="1" fill="#fff" stroke="#9a9a9a" stroke-width="0.45"/>
<rect x="1004.6" y="752.2" width="6" height="6.2" rx="1" fill="#fff" stroke="#9a9a9a" stroke-width="0.45"/>
<rect x="961.6" y="749" width="42.4" height="12.6" rx="0.6" fill="#ffffff" stroke="#d9d9d9" stroke-width="0.4"/>
<rect x="866.6" y="739" width="13.6" height="31" rx="1" fill="#ffffff" stroke="#d4d4d4" stroke-width="0.5"/>
<line x1="866.6" y1="754.6" x2="880.2" y2="754.6" stroke="#d9d9d9" stroke-width="0.5" />
<rect x="1019.4" y="739" width="13.6" height="31" rx="1" fill="#ffffff" stroke="#d4d4d4" stroke-width="0.5"/>
<line x1="1019.4" y1="754.6" x2="1033" y2="754.6" stroke="#d9d9d9" stroke-width="0.5" />
<path d="M841,662.6 V681 M841,681 a18,18 0 0 0 18,-18" fill="none" stroke="#7b93b0" stroke-width="0.5" stroke-dasharray="2 1.5"/>
<path d="M1054.4,662.6 V681 M1054.4,681 a18,18 0 0 1 -18,-18" fill="none" stroke="#7b93b0" stroke-width="0.5" stroke-dasharray="2 1.5"/>
<line x1="841" y1="662.6" x2="841" y2="681" stroke="#7b93b0" stroke-width="0.6" />
<line x1="1054.4" y1="662.6" x2="1054.4" y2="681" stroke="#7b93b0" stroke-width="0.6" />
<rect x="833.6" y="756" width="2" height="26" fill="#6e6e6e" />
<line x1="1069.6" y1="709.6" x2="1087" y2="709.6" stroke="#8e8e8e" stroke-width="0.45" />
<line x1="1090" y1="709.6" x2="1109" y2="709.6" stroke="#8e8e8e" stroke-width="0.45" />
<line x1="1069.6" y1="715.15" x2="1087" y2="715.15" stroke="#8e8e8e" stroke-width="0.45" />
<line x1="1090" y1="715.15" x2="1109" y2="715.15" stroke="#8e8e8e" stroke-width="0.45" />
<line x1="1069.6" y1="720.7" x2="1087" y2="720.7" stroke="#8e8e8e" stroke-width="0.45" />
<line x1="1090" y1="720.7" x2="1109" y2="720.7" stroke="#8e8e8e" stroke-width="0.45" />
<line x1="1069.6" y1="726.25" x2="1087" y2="726.25" stroke="#8e8e8e" stroke-width="0.45" />
<line x1="1090" y1="726.25" x2="1109" y2="726.25" stroke="#8e8e8e" stroke-width="0.45" />
<line x1="1069.6" y1="731.8" x2="1087" y2="731.8" stroke="#8e8e8e" stroke-width="0.45" />
<line x1="1090" y1="731.8" x2="1109" y2="731.8" stroke="#8e8e8e" stroke-width="0.45" />
<line x1="1069.6" y1="737.35" x2="1087" y2="737.35" stroke="#8e8e8e" stroke-width="0.45" />
<line x1="1090" y1="737.35" x2="1109" y2="737.35" stroke="#8e8e8e" stroke-width="0.45" />
<line x1="1069.6" y1="742.9" x2="1087" y2="742.9" stroke="#8e8e8e" stroke-width="0.45" />
<line x1="1090" y1="742.9" x2="1109" y2="742.9" stroke="#8e8e8e" stroke-width="0.45" />
<line x1="1069.6" y1="748.45" x2="1087" y2="748.45" stroke="#8e8e8e" stroke-width="0.45" />
<line x1="1090" y1="748.45" x2="1109" y2="748.45" stroke="#8e8e8e" stroke-width="0.45" />
<line x1="1069.6" y1="754" x2="1087" y2="754" stroke="#8e8e8e" stroke-width="0.45" />
<line x1="1090" y1="754" x2="1109" y2="754" stroke="#8e8e8e" stroke-width="0.45" />
<line x1="1069.6" y1="759.55" x2="1087" y2="759.55" stroke="#8e8e8e" stroke-width="0.45" />
<line x1="1090" y1="759.55" x2="1109" y2="759.55" stroke="#8e8e8e" stroke-width="0.45" />
<line x1="1069.6" y1="709.6" x2="1069.6" y2="759.6" stroke="#8e8e8e" stroke-width="0.5" />
<line x1="1087" y1="709.6" x2="1087" y2="759.6" stroke="#8e8e8e" stroke-width="0.5" />
<line x1="1090" y1="709.6" x2="1090" y2="759.6" stroke="#8e8e8e" stroke-width="0.5" />
<line x1="1109" y1="700" x2="1109" y2="759.6" stroke="#8e8e8e" stroke-width="0.5" />
<line x1="1078.4" y1="709.6" x2="1078.4" y2="754" stroke="#9a9a9a" stroke-width="0.4" />
<line x1="1099.4" y1="713" x2="1099.4" y2="759.6" stroke="#9a9a9a" stroke-width="0.4" />
<path d="M1096.4,716 l3,-3.4 l3,3.4 M1075.2,751 l3.2,3.4 l3.2,-3.4" fill="none" stroke="#8e8e8e" stroke-width="0.45"/>
<rect x="1084" y="762" width="19" height="20" fill="#eeeeee" />
<path d="M1067,760 A21,21 0 0 1 1088,781" fill="none" stroke="#9a9a9a" stroke-width="0.5" stroke-dasharray="2 1.6"/>
<path d="M1097,781 A12,12 0 0 1 1109,769" fill="none" stroke="#9a9a9a" stroke-width="0.5" stroke-dasharray="2 1.6"/>
<circle cx="888.8" cy="790.4" r="4.4" fill="#dde57f" stroke="#c9d26a" stroke-width="0.5"/>
<circle cx="860.8" cy="815" r="4.4" fill="#a5d6ee" stroke="#8fc3dc" stroke-width="0.5"/>
<circle cx="1010.7" cy="790.4" r="4.4" fill="#ef8b86" stroke="#de7772" stroke-width="0.5"/>
<circle cx="1037.9" cy="814.2" r="4.4" fill="#dde57f" stroke="#c9d26a" stroke-width="0.5"/>
<circle cx="1107" cy="811.5" r="4.4" fill="#f5ed87" stroke="#e0d768" stroke-width="0.5"/>
<path d="M896.4,810.6 L905,803 H940 L948.6,810.6 L940,818.6 H905 Z" fill="none" stroke="#8e8e8e" stroke-width="0.4"/>
<line x1="896.4" y1="810.6" x2="948.6" y2="810.6" stroke="#8e8e8e" stroke-width="0.3" />
<rect x="905" y="802.4" width="35" height="17" fill="#e6b85a" stroke="#9a7b32" stroke-width="0.5"/>
<path d="M909,810 h14 l3,-2.4 h6 a3,3 0 0 1 0,6 h-6 l-3,-2.2 h-14 z" fill="#fff" stroke="#4a4a4a" stroke-width="0.5"/>
<path d="M922,806 l4,-1.6 M922,815 l4,1.6 M920,803.6 l1.6,-3" stroke="#4a4a4a" stroke-width="0.6" fill="none"/>
<circle cx="920.6" cy="800.4" r="1.2" fill="#3d3d3d" />
<g transform="translate(833.6,805.6) rotate(20)"><path d="M0,-3.4 L3.06,-0.68 L1.7,3.4 L-1.7,3.4 L-3.06,-0.68 Z" fill="#fff" stroke="#8e8e8e" stroke-width="0.5"/><circle r="1.19" cy="-1.02" fill="#fff" stroke="#8e8e8e" stroke-width="0.4"/></g>
<polygon points="804.81,812.26 800.89,812.9 803.58,816.65 798.49,813.97 798.55,818.05 796.26,814.86 793.37,818.87 794.12,813.82 790,815.43 792,812.57 785.43,812.04 792.12,810.36 786.91,806.99 792.91,808.25 792.36,805.25 795.32,807.46 796.69,803.14 798.07,806.66 801,805.3 800.35,808.27 805.62,807.71 801.56,810.51" fill="#b8ce44" opacity="0.85"/>
<polygon points="803.42,814.05 798.72,812.87 799.67,815.78 797.16,813.63 796.1,817.02 795.39,813.54 792.87,815.27 793.64,812.87 790.77,812.94 793.29,811.27 790.36,810.03 793.74,809.84 791.62,807.16 794.97,808.91 794.74,805.29 796.54,808.17 798.82,804.95 798.47,808.5 801.19,807.76 799.82,809.82 803.61,810.38 799.15,811.44" fill="#c9da5a" opacity="0.9"/>
<line x1="796.4" y1="811" x2="801.98" y2="811.98" stroke="#e4ecaa" stroke-width="0.4" />
<line x1="796.4" y1="811" x2="799.15" y2="815.96" stroke="#e4ecaa" stroke-width="0.4" />
<line x1="796.4" y1="811" x2="794.28" y2="816.26" stroke="#e4ecaa" stroke-width="0.4" />
<line x1="796.4" y1="811" x2="790.98" y2="812.66" stroke="#e4ecaa" stroke-width="0.4" />
<line x1="796.4" y1="811" x2="791.7" y2="807.83" stroke="#e4ecaa" stroke-width="0.4" />
<line x1="796.4" y1="811" x2="795.91" y2="805.35" stroke="#e4ecaa" stroke-width="0.4" />
<line x1="796.4" y1="811" x2="800.48" y2="807.06" stroke="#e4ecaa" stroke-width="0.4" />
<circle cx="965.3" cy="788.3" r="4.6" fill="#8fc63d" />
<path d="M963,788.3 q1.84,-3.22 4.14,-0.92 M964.38,790.6 q1.38,-1.84 3.22,-0.46" stroke="#b8dc7a" stroke-width="0.5" fill="none"/>
<polygon points="1156.31,797.95 1152.22,797.03 1153.07,800.5 1150.37,798.43 1148.57,802.91 1147.58,798.69 1143.8,800.78 1145.78,796.85 1140.39,797.29 1145.55,794.76 1138.65,792.36 1145.94,792.85 1143.34,789.1 1147.21,790.81 1147.53,785.88 1149.98,790.31 1152.81,787.57 1152.29,791.58 1155.9,790.72 1153.76,793.35 1157.91,794.26 1154.36,795.6" fill="#b8ce44" opacity="0.85"/>
<polygon points="1154.25,798.94 1151.21,797.5 1150.83,800.84 1149.17,797.21 1147.28,799.17 1147.54,796.67 1142.92,798.5 1145.95,795.61 1141.47,794.85 1146.48,793.95 1143.31,791.48 1147.22,792.52 1146.93,790.24 1148.93,791.94 1150.17,789.29 1150.61,792.32 1154.06,789.77 1152.26,792.96 1157.14,792.43 1153.39,794.48 1155.54,795.91 1152.84,796.28" fill="#c9da5a" opacity="0.9"/>
<line x1="1149.5" y1="794.6" x2="1154.41" y2="797.44" stroke="#e4ecaa" stroke-width="0.4" />
<line x1="1149.5" y1="794.6" x2="1150.39" y2="800.2" stroke="#e4ecaa" stroke-width="0.4" />
<line x1="1149.5" y1="794.6" x2="1145.71" y2="798.81" stroke="#e4ecaa" stroke-width="0.4" />
<line x1="1149.5" y1="794.6" x2="1143.84" y2="794.3" stroke="#e4ecaa" stroke-width="0.4" />
<line x1="1149.5" y1="794.6" x2="1146.17" y2="790.01" stroke="#e4ecaa" stroke-width="0.4" />
<line x1="1149.5" y1="794.6" x2="1150.97" y2="789.12" stroke="#e4ecaa" stroke-width="0.4" />
<line x1="1149.5" y1="794.6" x2="1154.68" y2="792.29" stroke="#e4ecaa" stroke-width="0.4" />
<path d="M806.4,782 V803.6 M806.4,803.6 a21,21 0 0 0 21,-21" fill="none" stroke="#9a9a9a" stroke-width="0.5" stroke-dasharray="2 1.5"/>
<line x1="806.4" y1="782" x2="806.4" y2="803.6" stroke="#9a9a9a" stroke-width="0.6" />
<path d="M1138.6,782 V803.6 M1138.6,803.6 a21,21 0 0 1 -21,-21" fill="none" stroke="#9a9a9a" stroke-width="0.5" stroke-dasharray="2 1.5"/>
<line x1="1138.6" y1="782" x2="1138.6" y2="803.6" stroke="#9a9a9a" stroke-width="0.6" />
<path d="M972.4,793.4 H993 M972.4,812.6 a20,20 0 0 0 20,-19" fill="none" stroke="#9a9a9a" stroke-width="0.5" stroke-dasharray="2 1.5"/>
<line x1="972.4" y1="793.4" x2="993" y2="793.4" stroke="#9a9a9a" stroke-width="0.6" />
<path d="M795,797 l6,-7" stroke="#dcdcdc" stroke-width="2.2" stroke-linecap="round"/>
<path d="M878,800 l6,-7" stroke="#dcdcdc" stroke-width="2.2" stroke-linecap="round"/>
<path d="M921,795 l6,-7" stroke="#dcdcdc" stroke-width="2.2" stroke-linecap="round"/>
<path d="M946,796 l6,-7" stroke="#dcdcdc" stroke-width="2.2" stroke-linecap="round"/>
<path d="M966,812 l6,-7" stroke="#dcdcdc" stroke-width="2.2" stroke-linecap="round"/>
<path d="M1052,798 l6,-7" stroke="#dcdcdc" stroke-width="2.2" stroke-linecap="round"/>
<path d="M1072,796 l6,-7" stroke="#dcdcdc" stroke-width="2.2" stroke-linecap="round"/>
<path d="M1080,814 l6,-7" stroke="#dcdcdc" stroke-width="2.2" stroke-linecap="round"/>
<path d="M1100,793 l6,-7" stroke="#dcdcdc" stroke-width="2.2" stroke-linecap="round"/>
<path d="M1133,815 l6,-7" stroke="#dcdcdc" stroke-width="2.2" stroke-linecap="round"/>
<rect x="721.2" y="430.45" width="35.3" height="17.3" fill="#ffffff" stroke="#7e7e7e" stroke-width="0.6"/>
<line x1="748.9" y1="430.45" x2="748.9" y2="447.75" stroke="#9a9a9a" stroke-width="0.5" />
<rect x="749.7" y="431.45" width="6" height="15.3" fill="#f0f0f0" stroke="#c9c9c9" stroke-width="0.4"/>
<rect x="721.2" y="454.35" width="35.3" height="17.5" fill="#ffffff" stroke="#7e7e7e" stroke-width="0.6"/>
<line x1="748.9" y1="454.35" x2="748.9" y2="471.85" stroke="#9a9a9a" stroke-width="0.5" />
<rect x="749.7" y="455.35" width="6" height="15.5" fill="#f0f0f0" stroke="#c9c9c9" stroke-width="0.4"/>
<rect x="762.8" y="429.25" width="27.2" height="5.4" fill="#ebebeb" stroke="none" stroke-width="0"/>
<rect x="770" y="452.25" width="20" height="3" fill="#ebebeb" stroke="none" stroke-width="0"/>
<ellipse cx="794.7" cy="435.05" rx="4" ry="3.3" fill="#f2f2f2" stroke="#b5b5b5" stroke-width="0.5"/>
<ellipse cx="794.7" cy="453.05" rx="4" ry="3.3" fill="#f2f2f2" stroke="#b5b5b5" stroke-width="0.5"/>
<rect x="763.4" y="436.05" width="9.2" height="5.8" fill="#fff" stroke="#9a9a9a" stroke-width="0.5"/>
<rect x="766.6" y="438.65" width="2.8" height="3" fill="#6e6e6e" stroke="none" stroke-width="0"/>
<rect x="769.6" y="446.05" width="14.1" height="14.6" fill="#f4f4f4" stroke="#b0b0b0" stroke-width="0.5"/>
<line x1="771" y1="447.25" x2="782.6" y2="459.65" stroke="#9a9a9a" stroke-width="0.4" />
<rect x="771" y="447.25" width="11.6" height="12.4" fill="none" stroke="#b9b9b9" stroke-width="0.4"/>
<rect x="790.5" y="461.85" width="8.5" height="8.2" fill="#fff" stroke="#9a9a9a" stroke-width="0.5"/>
<circle cx="795.2" cy="466.05" r="2.8" fill="none" stroke="#9a9a9a" stroke-width="0.4"/>
<path d="M797,464.85 l2,1.4 l-2,1.2 z" fill="#3d3d3d"/>
<rect x="721.2" y="523.19" width="35.3" height="17.3" fill="#ffffff" stroke="#7e7e7e" stroke-width="0.6"/>
<line x1="748.9" y1="523.19" x2="748.9" y2="540.49" stroke="#9a9a9a" stroke-width="0.5" />
<rect x="749.7" y="524.19" width="6" height="15.3" fill="#f0f0f0" stroke="#c9c9c9" stroke-width="0.4"/>
<rect x="721.2" y="547.09" width="35.3" height="17.5" fill="#ffffff" stroke="#7e7e7e" stroke-width="0.6"/>
<line x1="748.9" y1="547.09" x2="748.9" y2="564.59" stroke="#9a9a9a" stroke-width="0.5" />
<rect x="749.7" y="548.09" width="6" height="15.5" fill="#f0f0f0" stroke="#c9c9c9" stroke-width="0.4"/>
<rect x="762.8" y="521.99" width="27.2" height="5.4" fill="#ebebeb" stroke="none" stroke-width="0"/>
<rect x="770" y="544.99" width="20" height="3" fill="#ebebeb" stroke="none" stroke-width="0"/>
<ellipse cx="794.7" cy="527.79" rx="4" ry="3.3" fill="#f2f2f2" stroke="#b5b5b5" stroke-width="0.5"/>
<ellipse cx="794.7" cy="545.79" rx="4" ry="3.3" fill="#f2f2f2" stroke="#b5b5b5" stroke-width="0.5"/>
<rect x="763.4" y="528.79" width="9.2" height="5.8" fill="#fff" stroke="#9a9a9a" stroke-width="0.5"/>
<rect x="766.6" y="531.39" width="2.8" height="3" fill="#6e6e6e" stroke="none" stroke-width="0"/>
<rect x="769.6" y="538.79" width="14.1" height="14.6" fill="#f4f4f4" stroke="#b0b0b0" stroke-width="0.5"/>
<line x1="771" y1="539.99" x2="782.6" y2="552.39" stroke="#9a9a9a" stroke-width="0.4" />
<rect x="771" y="539.99" width="11.6" height="12.4" fill="none" stroke="#b9b9b9" stroke-width="0.4"/>
<rect x="790.5" y="554.59" width="8.5" height="8.2" fill="#fff" stroke="#9a9a9a" stroke-width="0.5"/>
<circle cx="795.2" cy="558.79" r="2.8" fill="none" stroke="#9a9a9a" stroke-width="0.4"/>
<path d="M797,557.59 l2,1.4 l-2,1.2 z" fill="#3d3d3d"/>
<rect x="721.2" y="615.93" width="35.3" height="17.3" fill="#ffffff" stroke="#7e7e7e" stroke-width="0.6"/>
<line x1="748.9" y1="615.93" x2="748.9" y2="633.23" stroke="#9a9a9a" stroke-width="0.5" />
<rect x="749.7" y="616.93" width="6" height="15.3" fill="#f0f0f0" stroke="#c9c9c9" stroke-width="0.4"/>
<rect x="721.2" y="639.83" width="35.3" height="17.5" fill="#ffffff" stroke="#7e7e7e" stroke-width="0.6"/>
<line x1="748.9" y1="639.83" x2="748.9" y2="657.33" stroke="#9a9a9a" stroke-width="0.5" />
<rect x="749.7" y="640.83" width="6" height="15.5" fill="#f0f0f0" stroke="#c9c9c9" stroke-width="0.4"/>
<rect x="762.8" y="614.73" width="27.2" height="5.4" fill="#ebebeb" stroke="none" stroke-width="0"/>
<rect x="770" y="637.73" width="20" height="3" fill="#ebebeb" stroke="none" stroke-width="0"/>
<ellipse cx="794.7" cy="620.53" rx="4" ry="3.3" fill="#f2f2f2" stroke="#b5b5b5" stroke-width="0.5"/>
<ellipse cx="794.7" cy="638.53" rx="4" ry="3.3" fill="#f2f2f2" stroke="#b5b5b5" stroke-width="0.5"/>
<rect x="763.4" y="621.53" width="9.2" height="5.8" fill="#fff" stroke="#9a9a9a" stroke-width="0.5"/>
<rect x="766.6" y="624.13" width="2.8" height="3" fill="#6e6e6e" stroke="none" stroke-width="0"/>
<rect x="769.6" y="631.53" width="14.1" height="14.6" fill="#f4f4f4" stroke="#b0b0b0" stroke-width="0.5"/>
<line x1="771" y1="632.73" x2="782.6" y2="645.13" stroke="#9a9a9a" stroke-width="0.4" />
<rect x="771" y="632.73" width="11.6" height="12.4" fill="none" stroke="#b9b9b9" stroke-width="0.4"/>
<rect x="790.5" y="647.33" width="8.5" height="8.2" fill="#fff" stroke="#9a9a9a" stroke-width="0.5"/>
<circle cx="795.2" cy="651.53" r="2.8" fill="none" stroke="#9a9a9a" stroke-width="0.4"/>
<path d="M797,650.33 l2,1.4 l-2,1.2 z" fill="#3d3d3d"/>
<rect x="763" y="709.47" width="23" height="4" fill="#ebebeb" stroke="none" stroke-width="0"/>
<ellipse cx="766.8" cy="712.47" rx="3.6" ry="3.0" fill="#f2f2f2" stroke="#b5b5b5" stroke-width="0.5"/>
<rect x="773.2" y="718.07" width="9.8" height="9" fill="#fff" stroke="#9a9a9a" stroke-width="0.5"/>
<circle cx="778.1" cy="722.87" r="2.8" fill="none" stroke="#9a9a9a" stroke-width="0.4"/>
<rect x="777.4" y="724.87" width="1.4" height="2" fill="#4a4a4a" stroke="none" stroke-width="0"/>
<rect x="787" y="706.87" width="12.4" height="20.2" fill="#f4f4f4" stroke="#b0b0b0" stroke-width="0.5"/>
<line x1="798.6" y1="707.87" x2="788" y2="726.07" stroke="#9a9a9a" stroke-width="0.4" />
<rect x="769.4" y="731.67" width="30" height="5.8" fill="#f6f6f6" stroke="#b9b9b9" stroke-width="0.4"/>
<line x1="769.4" y1="731.67" x2="799.4" y2="737.47" stroke="#9a9a9a" stroke-width="0.4" />
<line x1="769.4" y1="737.47" x2="799.4" y2="731.67" stroke="#9a9a9a" stroke-width="0.4" />
<rect x="1189.4" y="430.45" width="35.3" height="17.3" fill="#ffffff" stroke="#7e7e7e" stroke-width="0.6"/>
<line x1="1197" y1="430.45" x2="1197" y2="447.75" stroke="#9a9a9a" stroke-width="0.5" />
<rect x="1190.2" y="431.45" width="6" height="15.3" fill="#f0f0f0" stroke="#c9c9c9" stroke-width="0.4"/>
<rect x="1189.4" y="454.35" width="35.3" height="17.5" fill="#ffffff" stroke="#7e7e7e" stroke-width="0.6"/>
<line x1="1197" y1="454.35" x2="1197" y2="471.85" stroke="#9a9a9a" stroke-width="0.5" />
<rect x="1190.2" y="455.35" width="6" height="15.5" fill="#f0f0f0" stroke="#c9c9c9" stroke-width="0.4"/>
<rect x="1155.9" y="429.25" width="27.2" height="5.4" fill="#ebebeb" stroke="none" stroke-width="0"/>
<rect x="1155.9" y="452.25" width="20" height="3" fill="#ebebeb" stroke="none" stroke-width="0"/>
<ellipse cx="1151.2" cy="435.05" rx="4" ry="3.3" fill="#f2f2f2" stroke="#b5b5b5" stroke-width="0.5"/>
<ellipse cx="1151.2" cy="453.05" rx="4" ry="3.3" fill="#f2f2f2" stroke="#b5b5b5" stroke-width="0.5"/>
<rect x="1173.3" y="436.05" width="9.2" height="5.8" fill="#fff" stroke="#9a9a9a" stroke-width="0.5"/>
<rect x="1176.5" y="438.65" width="2.8" height="3" fill="#6e6e6e" stroke="none" stroke-width="0"/>
<rect x="1162.2" y="446.05" width="14.1" height="14.6" fill="#f4f4f4" stroke="#b0b0b0" stroke-width="0.5"/>
<line x1="1174.9" y1="447.25" x2="1163.3" y2="459.65" stroke="#9a9a9a" stroke-width="0.4" />
<rect x="1163.3" y="447.25" width="11.6" height="12.4" fill="none" stroke="#b9b9b9" stroke-width="0.4"/>
<rect x="1146.9" y="461.85" width="8.5" height="8.2" fill="#fff" stroke="#9a9a9a" stroke-width="0.5"/>
<circle cx="1150.7" cy="466.05" r="2.8" fill="none" stroke="#9a9a9a" stroke-width="0.4"/>
<path d="M1148.9,464.85 l-2,1.4 l2,1.2 z" fill="#3d3d3d"/>
<rect x="1189.4" y="523.19" width="35.3" height="17.3" fill="#ffffff" stroke="#7e7e7e" stroke-width="0.6"/>
<line x1="1197" y1="523.19" x2="1197" y2="540.49" stroke="#9a9a9a" stroke-width="0.5" />
<rect x="1190.2" y="524.19" width="6" height="15.3" fill="#f0f0f0" stroke="#c9c9c9" stroke-width="0.4"/>
<rect x="1189.4" y="547.09" width="35.3" height="17.5" fill="#ffffff" stroke="#7e7e7e" stroke-width="0.6"/>
<line x1="1197" y1="547.09" x2="1197" y2="564.59" stroke="#9a9a9a" stroke-width="0.5" />
<rect x="1190.2" y="548.09" width="6" height="15.5" fill="#f0f0f0" stroke="#c9c9c9" stroke-width="0.4"/>
<rect x="1155.9" y="521.99" width="27.2" height="5.4" fill="#ebebeb" stroke="none" stroke-width="0"/>
<rect x="1155.9" y="544.99" width="20" height="3" fill="#ebebeb" stroke="none" stroke-width="0"/>
<ellipse cx="1151.2" cy="527.79" rx="4" ry="3.3" fill="#f2f2f2" stroke="#b5b5b5" stroke-width="0.5"/>
<ellipse cx="1151.2" cy="545.79" rx="4" ry="3.3" fill="#f2f2f2" stroke="#b5b5b5" stroke-width="0.5"/>
<rect x="1173.3" y="528.79" width="9.2" height="5.8" fill="#fff" stroke="#9a9a9a" stroke-width="0.5"/>
<rect x="1176.5" y="531.39" width="2.8" height="3" fill="#6e6e6e" stroke="none" stroke-width="0"/>
<rect x="1162.2" y="538.79" width="14.1" height="14.6" fill="#f4f4f4" stroke="#b0b0b0" stroke-width="0.5"/>
<line x1="1174.9" y1="539.99" x2="1163.3" y2="552.39" stroke="#9a9a9a" stroke-width="0.4" />
<rect x="1163.3" y="539.99" width="11.6" height="12.4" fill="none" stroke="#b9b9b9" stroke-width="0.4"/>
<rect x="1146.9" y="554.59" width="8.5" height="8.2" fill="#fff" stroke="#9a9a9a" stroke-width="0.5"/>
<circle cx="1150.7" cy="558.79" r="2.8" fill="none" stroke="#9a9a9a" stroke-width="0.4"/>
<path d="M1148.9,557.59 l-2,1.4 l2,1.2 z" fill="#3d3d3d"/>
<rect x="1189.4" y="615.93" width="35.3" height="17.3" fill="#ffffff" stroke="#7e7e7e" stroke-width="0.6"/>
<line x1="1197" y1="615.93" x2="1197" y2="633.23" stroke="#9a9a9a" stroke-width="0.5" />
<rect x="1190.2" y="616.93" width="6" height="15.3" fill="#f0f0f0" stroke="#c9c9c9" stroke-width="0.4"/>
<rect x="1189.4" y="639.83" width="35.3" height="17.5" fill="#ffffff" stroke="#7e7e7e" stroke-width="0.6"/>
<line x1="1197" y1="639.83" x2="1197" y2="657.33" stroke="#9a9a9a" stroke-width="0.5" />
<rect x="1190.2" y="640.83" width="6" height="15.5" fill="#f0f0f0" stroke="#c9c9c9" stroke-width="0.4"/>
<rect x="1155.9" y="614.73" width="27.2" height="5.4" fill="#ebebeb" stroke="none" stroke-width="0"/>
<rect x="1155.9" y="637.73" width="20" height="3" fill="#ebebeb" stroke="none" stroke-width="0"/>
<ellipse cx="1151.2" cy="620.53" rx="4" ry="3.3" fill="#f2f2f2" stroke="#b5b5b5" stroke-width="0.5"/>
<ellipse cx="1151.2" cy="638.53" rx="4" ry="3.3" fill="#f2f2f2" stroke="#b5b5b5" stroke-width="0.5"/>
<rect x="1173.3" y="621.53" width="9.2" height="5.8" fill="#fff" stroke="#9a9a9a" stroke-width="0.5"/>
<rect x="1176.5" y="624.13" width="2.8" height="3" fill="#6e6e6e" stroke="none" stroke-width="0"/>
<rect x="1162.2" y="631.53" width="14.1" height="14.6" fill="#f4f4f4" stroke="#b0b0b0" stroke-width="0.5"/>
<line x1="1174.9" y1="632.73" x2="1163.3" y2="645.13" stroke="#9a9a9a" stroke-width="0.4" />
<rect x="1163.3" y="632.73" width="11.6" height="12.4" fill="none" stroke="#b9b9b9" stroke-width="0.4"/>
<rect x="1146.9" y="647.33" width="8.5" height="8.2" fill="#fff" stroke="#9a9a9a" stroke-width="0.5"/>
<circle cx="1150.7" cy="651.53" r="2.8" fill="none" stroke="#9a9a9a" stroke-width="0.4"/>
<path d="M1148.9,650.33 l-2,1.4 l2,1.2 z" fill="#3d3d3d"/>
<rect x="1159.9" y="709.47" width="23" height="4" fill="#ebebeb" stroke="none" stroke-width="0"/>
<ellipse cx="1179.1" cy="712.47" rx="3.6" ry="3.0" fill="#f2f2f2" stroke="#b5b5b5" stroke-width="0.5"/>
<rect x="1162.9" y="718.07" width="9.8" height="9" fill="#fff" stroke="#9a9a9a" stroke-width="0.5"/>
<circle cx="1167.8" cy="722.87" r="2.8" fill="none" stroke="#9a9a9a" stroke-width="0.4"/>
<rect x="1167.1" y="724.87" width="1.4" height="2" fill="#4a4a4a" stroke="none" stroke-width="0"/>
<rect x="1146.5" y="706.87" width="12.4" height="20.2" fill="#f4f4f4" stroke="#b0b0b0" stroke-width="0.5"/>
<line x1="1147.3" y1="707.87" x2="1157.9" y2="726.07" stroke="#9a9a9a" stroke-width="0.4" />
<rect x="1146.5" y="731.67" width="30" height="5.8" fill="#f6f6f6" stroke="#b9b9b9" stroke-width="0.4"/>
<line x1="1176.5" y1="731.67" x2="1146.5" y2="737.47" stroke="#9a9a9a" stroke-width="0.4" />
<line x1="1176.5" y1="737.47" x2="1146.5" y2="731.67" stroke="#9a9a9a" stroke-width="0.4" />
<rect x="700" y="709" width="35.6" height="16.6" fill="#ffffff" stroke="#7e7e7e" stroke-width="0.6"/>
<line x1="707.6" y1="709" x2="707.6" y2="725.6" stroke="#9a9a9a" stroke-width="0.5" />
<rect x="700.8" y="710" width="6" height="14.6" fill="#f0f0f0" stroke="#c9c9c9" stroke-width="0.4"/>
<rect x="700" y="732" width="35.6" height="17.6" fill="#ffffff" stroke="#7e7e7e" stroke-width="0.6"/>
<line x1="707.6" y1="732" x2="707.6" y2="749.6" stroke="#9a9a9a" stroke-width="0.5" />
<rect x="700.8" y="733" width="6" height="15.6" fill="#f0f0f0" stroke="#c9c9c9" stroke-width="0.4"/>
<rect x="1207.4" y="709" width="36" height="16.6" fill="#ffffff" stroke="#7e7e7e" stroke-width="0.6"/>
<line x1="1235.8" y1="709" x2="1235.8" y2="725.6" stroke="#9a9a9a" stroke-width="0.5" />
<rect x="1236.6" y="710" width="6" height="14.6" fill="#f0f0f0" stroke="#c9c9c9" stroke-width="0.4"/>
<rect x="1207.4" y="732" width="36" height="17.6" fill="#ffffff" stroke="#7e7e7e" stroke-width="0.6"/>
<line x1="1235.8" y1="732" x2="1235.8" y2="749.6" stroke="#9a9a9a" stroke-width="0.5" />
<rect x="1236.6" y="733" width="6" height="15.6" fill="#f0f0f0" stroke="#c9c9c9" stroke-width="0.4"/>
<circle cx="705" cy="418.9" r="3.8" fill="#a9b5dc" stroke="#97a3cc" stroke-width="0.5"/>
<circle cx="705" cy="440.7" r="3.8" fill="#efb7cc" stroke="#d9a5b8" stroke-width="0.5"/>
<circle cx="1238" cy="413.6" r="3.8" fill="#efb7cc" stroke="#d9a5b8" stroke-width="0.5"/>
<circle cx="1239" cy="439" r="3.6" fill="#fff" stroke="#b0b0b0" stroke-width="0.5"/>
<path d="M758,751.6 H800 M758,744 V751.6" fill="none" stroke="#e87a84" stroke-width="0.5" stroke-dasharray="1.6 1.2"/>
<path d="M1146,751.6 H1187.6 V738" fill="none" stroke="#e87a84" stroke-width="0.5" stroke-dasharray="1.6 1.2"/>
<circle cx="716.4" cy="530" r="4.3" fill="#84c441" opacity="0.95"/>
<polygon points="717.77,535.37 714.29,535.83 716.85,540.02 711.74,536.65 711.26,539.98 709.47,537.38 706.06,541.43 707.22,536.47 703.24,537.5 706.31,534.6 701.09,533.78 705.49,532.57 703.81,530.39 706.89,530.69 706.62,527.68 709.28,529.95 711.13,525.53 711.74,530.14 714.78,528.67 713.88,531.37 718.4,531.31 713.85,533.52" fill="#b8ce44" opacity="0.85"/>
<polygon points="716.21,536.9 712.17,535.68 712.98,538.97 710.54,536.55 709.27,538.33 708.69,536.13 705.66,537.98 707.46,535.03 703.51,535.3 706.86,533.63 703.09,531.95 706.92,531.96 705.21,529.01 708.53,530.95 708.98,528.03 710.39,531.08 712.81,528.17 712.16,531.42 715.8,530.34 712.91,532.84 717.38,533.52 712.59,534.22" fill="#c9da5a" opacity="0.9"/>
<line x1="710" y1="533.6" x2="715.16" y2="534.98" stroke="#e4ecaa" stroke-width="0.4" />
<line x1="710" y1="533.6" x2="712.17" y2="538.48" stroke="#e4ecaa" stroke-width="0.4" />
<line x1="710" y1="533.6" x2="707.57" y2="538.36" stroke="#e4ecaa" stroke-width="0.4" />
<line x1="710" y1="533.6" x2="704.77" y2="534.71" stroke="#e4ecaa" stroke-width="0.4" />
<line x1="710" y1="533.6" x2="705.85" y2="530.24" stroke="#e4ecaa" stroke-width="0.4" />
<line x1="710" y1="533.6" x2="710" y2="528.25" stroke="#e4ecaa" stroke-width="0.4" />
<line x1="710" y1="533.6" x2="714.15" y2="530.24" stroke="#e4ecaa" stroke-width="0.4" />
<circle cx="729" cy="600.4" r="4.3" fill="#84c441" opacity="0.95"/>
<polygon points="746.49,598 742.54,599.14 745.43,602.07 740.82,600.78 741.44,604.42 738.67,601.95 736.92,604.37 736.31,601.16 733.21,602.71 733.82,600.29 730.98,599.76 733.65,598 728.35,595.59 733.77,595.68 733.08,593.16 735.91,594.1 736.51,589.15 738.62,594.35 742.31,589.95 740.94,595.11 744.8,594.28 742.72,596.82" fill="#b8ce44" opacity="0.85"/>
<polygon points="743.62,599.46 740.62,599.47 742.3,602.32 739.3,600.5 738.88,603.64 737.48,600.83 735.2,603.07 736.14,599.78 731.55,601.44 735.16,598.68 731.36,597.94 734.5,597.09 732.68,595.02 735.73,595.72 734.96,592.17 737.57,595.23 738.96,592.7 739.43,595.41 742.04,594.11 740.99,596.4 744.51,596.44 741.63,598.03" fill="#c9da5a" opacity="0.9"/>
<line x1="738" y1="598" x2="743.35" y2="598" stroke="#e4ecaa" stroke-width="0.4" />
<line x1="738" y1="598" x2="741.36" y2="602.15" stroke="#e4ecaa" stroke-width="0.4" />
<line x1="738" y1="598" x2="736.89" y2="603.23" stroke="#e4ecaa" stroke-width="0.4" />
<line x1="738" y1="598" x2="733.24" y2="600.43" stroke="#e4ecaa" stroke-width="0.4" />
<line x1="738" y1="598" x2="733.12" y2="595.83" stroke="#e4ecaa" stroke-width="0.4" />
<line x1="738" y1="598" x2="736.62" y2="592.84" stroke="#e4ecaa" stroke-width="0.4" />
<line x1="738" y1="598" x2="741.14" y2="593.67" stroke="#e4ecaa" stroke-width="0.4" />
<polygon points="749.5,694.72 745.89,694.84 748.38,699.54 743.59,695.95 742.67,699.62 741.21,695.61 737.26,699.93 739.24,694.79 735.67,695.4 737.13,693.34 733.6,691.95 738.17,691.21 734.78,687.87 738.95,688.99 739.24,686.24 741.65,688.61 744.15,683.63 743.97,689.27 747.32,687.79 745.29,690.84 751.01,690.67 746.75,692.66" fill="#b8ce44" opacity="0.85"/>
<polygon points="747.21,695.74 743.88,694.55 744.37,697.86 742.21,694.96 740.51,698.16 740.73,694.37 738.17,695.64 739.29,693.65 735.85,693.52 738.9,692.2 734.95,690.14 739.14,690.56 738.26,688.11 740.85,689.75 741.53,686.56 742.77,689.43 744.54,688.47 744.37,690.39 746.7,690.23 744.85,691.88 749,692.85 744.77,693.29" fill="#c9da5a" opacity="0.9"/>
<line x1="742" y1="692.4" x2="747.02" y2="694.23" stroke="#e4ecaa" stroke-width="0.4" />
<line x1="742" y1="692.4" x2="743.74" y2="697.45" stroke="#e4ecaa" stroke-width="0.4" />
<line x1="742" y1="692.4" x2="739.17" y2="696.93" stroke="#e4ecaa" stroke-width="0.4" />
<line x1="742" y1="692.4" x2="736.69" y2="693.05" stroke="#e4ecaa" stroke-width="0.4" />
<line x1="742" y1="692.4" x2="738.15" y2="688.69" stroke="#e4ecaa" stroke-width="0.4" />
<line x1="742" y1="692.4" x2="742.47" y2="687.07" stroke="#e4ecaa" stroke-width="0.4" />
<line x1="742" y1="692.4" x2="746.43" y2="689.41" stroke="#e4ecaa" stroke-width="0.4" />
<circle cx="713" cy="758" r="4.3" fill="#84c441" opacity="0.95"/>
<polygon points="718.36,764.56 711.76,764.59 715.09,768.58 710.3,766.27 710.18,770.17 707.86,766.71 705.46,769.58 705.05,766.65 700.85,767.94 703.32,764.67 699.55,763.8 703.07,762.26 699.43,759.38 704.82,760.49 704.1,757.46 706.82,759.14 708.28,755.49 709.36,759.48 713.27,756.47 711.93,760.28 716.61,759.93 712.56,762.57" fill="#b8ce44" opacity="0.85"/>
<polygon points="714.65,765.89 710.56,765.06 710.76,767.02 708.76,765.61 707.73,768.27 706.96,765.6 703.59,768.33 705.05,764.99 700.95,765.44 704.82,763.27 701.13,761.9 704.68,761.56 702.75,758.77 706.5,760.81 706.63,758.29 708.15,759.98 710.31,757.23 709.56,761.11 712.29,760.1 711.14,761.91 715.76,762.34 711.04,763.49" fill="#c9da5a" opacity="0.9"/>
<line x1="708" y1="763" x2="713.42" y2="763.96" stroke="#e4ecaa" stroke-width="0.4" />
<line x1="708" y1="763" x2="710.67" y2="767.82" stroke="#e4ecaa" stroke-width="0.4" />
<line x1="708" y1="763" x2="705.94" y2="768.11" stroke="#e4ecaa" stroke-width="0.4" />
<line x1="708" y1="763" x2="702.73" y2="764.61" stroke="#e4ecaa" stroke-width="0.4" />
<line x1="708" y1="763" x2="703.43" y2="759.92" stroke="#e4ecaa" stroke-width="0.4" />
<line x1="708" y1="763" x2="707.52" y2="757.51" stroke="#e4ecaa" stroke-width="0.4" />
<line x1="708" y1="763" x2="711.96" y2="759.17" stroke="#e4ecaa" stroke-width="0.4" />
<circle cx="1241" cy="456.6" r="4.3" fill="#84c441" opacity="0.95"/>
<polygon points="1245.89,462.34 1240.67,462.55 1244.74,467.09 1239.63,464.74 1239.65,469.7 1236.85,465.06 1234.27,468.07 1234.23,464.43 1229.99,465.85 1233.38,462.29 1226.27,462.02 1232.29,460.29 1228.67,457.48 1233.44,458.2 1232.27,454.28 1235.91,457.41 1237.26,454.14 1238.58,456.9 1241.29,455.7 1240.54,458.55 1245.52,457.96 1240.78,460.64" fill="#b8ce44" opacity="0.85"/>
<polygon points="1241.82,463.09 1239.01,462.62 1240.43,466.01 1237.69,463.39 1236.76,465.86 1235.82,463.94 1233.33,465.43 1234.14,462.93 1230.53,463.24 1233.56,461.29 1231.7,460.15 1233.91,459.66 1231.53,456.6 1235.39,458.65 1235.11,454.51 1237.14,458.12 1239.21,455.48 1238.84,458.77 1242.74,457.12 1239.9,460 1243.51,460.44 1239.79,461.45" fill="#c9da5a" opacity="0.9"/>
<line x1="1237" y1="461" x2="1242.42" y2="461.96" stroke="#e4ecaa" stroke-width="0.4" />
<line x1="1237" y1="461" x2="1239.67" y2="465.82" stroke="#e4ecaa" stroke-width="0.4" />
<line x1="1237" y1="461" x2="1234.94" y2="466.11" stroke="#e4ecaa" stroke-width="0.4" />
<line x1="1237" y1="461" x2="1231.73" y2="462.61" stroke="#e4ecaa" stroke-width="0.4" />
<line x1="1237" y1="461" x2="1232.43" y2="457.92" stroke="#e4ecaa" stroke-width="0.4" />
<line x1="1237" y1="461" x2="1236.52" y2="455.51" stroke="#e4ecaa" stroke-width="0.4" />
<line x1="1237" y1="461" x2="1240.96" y2="457.17" stroke="#e4ecaa" stroke-width="0.4" />
<polygon points="1213.09,508 1207.99,508.9 1212.59,512.48 1206.87,510.42 1207.7,514.16 1204.97,511.4 1203.03,516.15 1202.7,511.18 1197.93,514.36 1201.32,509.69 1195.89,510.13 1200.05,508 1194.85,505.61 1201.19,506.24 1197.96,501.67 1202.91,505.23 1203.11,500.33 1205.06,504.11 1207.85,501.56 1206.91,505.54 1211.57,504.08 1208.32,507.02" fill="#b8ce44" opacity="0.85"/>
<polygon points="1211.25,509.79 1206.54,509.2 1208.66,512.29 1205.68,510.46 1205.36,514.16 1203.88,510.87 1201.4,513.44 1202.2,510.11 1199.99,510.36 1201.31,508.74 1198.49,507.94 1201.82,507.33 1199.3,505.14 1202.51,506.1 1201.88,503.15 1203.99,505.36 1205.2,503.6 1205.9,505.28 1209.22,503.37 1206.9,506.67 1211.43,506.31 1207.05,508.03" fill="#c9da5a" opacity="0.9"/>
<line x1="1204.4" y1="508" x2="1209.58" y2="508" stroke="#e4ecaa" stroke-width="0.4" />
<line x1="1204.4" y1="508" x2="1207.66" y2="512.03" stroke="#e4ecaa" stroke-width="0.4" />
<line x1="1204.4" y1="508" x2="1203.32" y2="513.07" stroke="#e4ecaa" stroke-width="0.4" />
<line x1="1204.4" y1="508" x2="1199.78" y2="510.35" stroke="#e4ecaa" stroke-width="0.4" />
<line x1="1204.4" y1="508" x2="1199.66" y2="505.89" stroke="#e4ecaa" stroke-width="0.4" />
<line x1="1204.4" y1="508" x2="1203.06" y2="502.99" stroke="#e4ecaa" stroke-width="0.4" />
<line x1="1204.4" y1="508" x2="1207.45" y2="503.81" stroke="#e4ecaa" stroke-width="0.4" />
<circle cx="1208.6" cy="578" r="4.3" fill="#84c441" opacity="0.95"/>
<polygon points="1211.75,582.71 1207.18,582.62 1207.68,585.24 1204.44,583.22 1203.86,589.23 1202.17,583.37 1197.87,588.15 1199.46,583.06 1194.22,584.16 1199.13,580.74 1192.56,579.43 1198.64,578.65 1194.66,574.77 1200.07,576.72 1200.14,573.63 1202.7,576.8 1205.09,571.48 1205.41,576.18 1210.5,573.51 1207.1,578.05 1213.58,577.96 1207.05,580.22" fill="#b8ce44" opacity="0.85"/>
<polygon points="1207.8,583.08 1205.1,582.41 1205.72,586.27 1203.25,583.07 1201.59,585.44 1201.42,582.45 1198.7,583.64 1199.86,581.45 1196.75,581.14 1200.18,579.82 1195.8,577.69 1200.39,578.33 1198.34,574.66 1201.81,577.25 1202.62,575.23 1203.81,576.87 1206.13,575.15 1205.42,577.95 1208.36,577.52 1205.79,579.49 1208.39,580.34 1206.41,581.1" fill="#c9da5a" opacity="0.9"/>
<line x1="1203" y1="580" x2="1208.18" y2="581.88" stroke="#e4ecaa" stroke-width="0.4" />
<line x1="1203" y1="580" x2="1204.79" y2="585.21" stroke="#e4ecaa" stroke-width="0.4" />
<line x1="1203" y1="580" x2="1200.08" y2="584.67" stroke="#e4ecaa" stroke-width="0.4" />
<line x1="1203" y1="580" x2="1197.53" y2="580.67" stroke="#e4ecaa" stroke-width="0.4" />
<line x1="1203" y1="580" x2="1199.04" y2="576.17" stroke="#e4ecaa" stroke-width="0.4" />
<line x1="1203" y1="580" x2="1203.48" y2="574.51" stroke="#e4ecaa" stroke-width="0.4" />
<line x1="1203" y1="580" x2="1207.57" y2="576.92" stroke="#e4ecaa" stroke-width="0.4" />
<circle cx="1241.6" cy="643" r="4.3" fill="#84c441" opacity="0.95"/>
<polygon points="1245.63,647 1241.09,648.02 1245.24,651.51 1240.39,650.33 1241.11,654.66 1237.68,651.06 1235.89,653.56 1235.19,650.38 1230.6,653.3 1233.39,648.97 1226.9,649.53 1231.85,647 1227.11,644.53 1233.51,645.09 1230.19,640.31 1235.15,643.54 1235.94,640.69 1237.63,643.24 1240.65,640.2 1239.82,644.23 1243.72,643.32 1241.82,645.79" fill="#b8ce44" opacity="0.85"/>
<polygon points="1244.15,648.86 1239.27,648.27 1241.06,651.08 1238.37,649.64 1237.98,653.33 1236.58,649.3 1234.53,651.48 1234.79,649.12 1232.18,649.57 1234.13,647.69 1231.18,646.94 1234.05,646.23 1231.04,643.66 1234.63,644.62 1234.56,642.31 1236.6,644.42 1238.16,640.64 1238.58,644.13 1241.64,642.54 1239.77,645.52 1243.76,645.38 1240.23,647.03" fill="#c9da5a" opacity="0.9"/>
<line x1="1237" y1="647" x2="1242.51" y2="647" stroke="#e4ecaa" stroke-width="0.4" />
<line x1="1237" y1="647" x2="1240.47" y2="651.28" stroke="#e4ecaa" stroke-width="0.4" />
<line x1="1237" y1="647" x2="1235.85" y2="652.39" stroke="#e4ecaa" stroke-width="0.4" />
<line x1="1237" y1="647" x2="1232.09" y2="649.5" stroke="#e4ecaa" stroke-width="0.4" />
<line x1="1237" y1="647" x2="1231.97" y2="644.76" stroke="#e4ecaa" stroke-width="0.4" />
<line x1="1237" y1="647" x2="1235.57" y2="641.68" stroke="#e4ecaa" stroke-width="0.4" />
<line x1="1237" y1="647" x2="1240.24" y2="642.54" stroke="#e4ecaa" stroke-width="0.4" />
<polygon points="1245.37,768.91 1240.69,768.92 1243.12,772.73 1239.1,770.68 1238.37,773.94 1236.5,770.56 1233.22,774.52 1234.63,769.44 1230.96,770.48 1232.44,768.24 1226.48,767.21 1233.02,766.09 1229.47,763.09 1234.36,764.53 1232.79,759.61 1236.31,763.5 1237.92,760.46 1238.5,764.02 1242.16,761.68 1241.15,764.61 1245.21,764.76 1240.84,766.92" fill="#b8ce44" opacity="0.85"/>
<polygon points="1243.39,770.4 1239.27,769.18 1239.76,771.98 1237.44,769.39 1236.1,772.87 1235.73,769.45 1232.56,771.48 1233.98,768.7 1230.47,768.71 1234.31,767.03 1231.09,765.59 1233.97,765.39 1232.62,762.8 1235.61,764.49 1235.93,761.18 1237.42,764.28 1239.97,761.26 1239.03,764.95 1241.61,764.41 1239.81,766.26 1242.5,766.94 1239.92,767.7" fill="#c9da5a" opacity="0.9"/>
<line x1="1237" y1="767" x2="1242.16" y2="768.38" stroke="#e4ecaa" stroke-width="0.4" />
<line x1="1237" y1="767" x2="1239.17" y2="771.88" stroke="#e4ecaa" stroke-width="0.4" />
<line x1="1237" y1="767" x2="1234.57" y2="771.76" stroke="#e4ecaa" stroke-width="0.4" />
<line x1="1237" y1="767" x2="1231.77" y2="768.11" stroke="#e4ecaa" stroke-width="0.4" />
<line x1="1237" y1="767" x2="1232.85" y2="763.64" stroke="#e4ecaa" stroke-width="0.4" />
<line x1="1237" y1="767" x2="1237" y2="761.65" stroke="#e4ecaa" stroke-width="0.4" />
<line x1="1237" y1="767" x2="1241.15" y2="763.64" stroke="#e4ecaa" stroke-width="0.4" />
<path d="M802,436.88 a16,16 0 0 1 0,-32 M802,401.88 a16,16 0 0 0 -14,-10" fill="none" stroke="#b5b5b5" stroke-width="0.5" stroke-dasharray="2 1.6"/>
<path d="M1144,436.88 a16,16 0 0 0 0,-32 M1144,401.88 a16,16 0 0 1 14,-10" fill="none" stroke="#b5b5b5" stroke-width="0.5" stroke-dasharray="2 1.6"/>
<path d="M802,529.62 a16,16 0 0 1 0,-32 M802,494.62 a16,16 0 0 0 -14,-10" fill="none" stroke="#b5b5b5" stroke-width="0.5" stroke-dasharray="2 1.6"/>
<path d="M1144,529.62 a16,16 0 0 0 0,-32 M1144,494.62 a16,16 0 0 1 14,-10" fill="none" stroke="#b5b5b5" stroke-width="0.5" stroke-dasharray="2 1.6"/>
<path d="M802,622.36 a16,16 0 0 1 0,-32 M802,587.36 a16,16 0 0 0 -14,-10" fill="none" stroke="#b5b5b5" stroke-width="0.5" stroke-dasharray="2 1.6"/>
<path d="M1144,622.36 a16,16 0 0 0 0,-32 M1144,587.36 a16,16 0 0 1 14,-10" fill="none" stroke="#b5b5b5" stroke-width="0.5" stroke-dasharray="2 1.6"/>
<path d="M802,715.1 a16,16 0 0 1 0,-32 M802,680.1 a16,16 0 0 0 -14,-10" fill="none" stroke="#b5b5b5" stroke-width="0.5" stroke-dasharray="2 1.6"/>
<path d="M1144,715.1 a16,16 0 0 0 0,-32 M1144,680.1 a16,16 0 0 1 14,-10" fill="none" stroke="#b5b5b5" stroke-width="0.5" stroke-dasharray="2 1.6"/>
<path d="M823.6,436.6 A20,20 0 0 1 803.6,456.6" fill="none" stroke="#a9a98a" stroke-width="0.5" stroke-dasharray="2 1.6"/>
<line x1="803.6" y1="436.6" x2="823.6" y2="436.6" stroke="#a9a98a" stroke-width="0.6" />
<path d="M1142.6,456.6 A20,20 0 0 1 1122.6,436.6" fill="none" stroke="#a9a98a" stroke-width="0.5" stroke-dasharray="2 1.6"/>
<line x1="1142.6" y1="436.6" x2="1142.6" y2="456.6" stroke="#a9a98a" stroke-width="0.6" />
<path d="M882,419 A17,17 0 0 1 899,436" fill="none" stroke="#a9a98a" stroke-width="0.5" stroke-dasharray="2 1.6"/>
<line x1="882" y1="436" x2="882" y2="419" stroke="#a9a98a" stroke-width="0.6" />
<path d="M1046.6,419 A17,17 0 0 1 1063.6,436" fill="none" stroke="#a9a98a" stroke-width="0.5" stroke-dasharray="2 1.6"/>
<line x1="1046.6" y1="436" x2="1046.6" y2="419" stroke="#a9a98a" stroke-width="0.6" />
<path d="M823.6,632.6 A20,20 0 0 1 803.6,652.6" fill="none" stroke="#a9a98a" stroke-width="0.5" stroke-dasharray="2 1.6"/>
<line x1="803.6" y1="632.6" x2="823.6" y2="632.6" stroke="#a9a98a" stroke-width="0.6" />
<path d="M1142.6,652.6 A20,20 0 0 1 1122.6,632.6" fill="none" stroke="#a9a98a" stroke-width="0.5" stroke-dasharray="2 1.6"/>
<line x1="1142.6" y1="632.6" x2="1142.6" y2="652.6" stroke="#a9a98a" stroke-width="0.6" />
<path d="M1088,661 A16,16 0 0 1 1104,645" fill="none" stroke="#a9a98a" stroke-width="0.5" stroke-dasharray="2 1.6"/>
<line x1="1104" y1="661" x2="1088" y2="661" stroke="#a9a98a" stroke-width="0.6" />
<path d="M824.4,494 A14,14 0 0 1 838.4,480" fill="none" stroke="#b0a878" stroke-width="0.5" stroke-dasharray="2 1.6"/>
<line x1="838.4" y1="494" x2="824.4" y2="494" stroke="#b0a878" stroke-width="0.6" />
<path d="M1108.6,480 A14,14 0 0 1 1122.6,494" fill="none" stroke="#b0a878" stroke-width="0.5" stroke-dasharray="2 1.6"/>
<line x1="1108.6" y1="494" x2="1108.6" y2="480" stroke="#b0a878" stroke-width="0.6" />
<path d="M817.6,543.6 A14,14 0 0 1 803.6,557.6" fill="none" stroke="#b5b58f" stroke-width="0.5" stroke-dasharray="2 1.6"/>
<line x1="803.6" y1="543.6" x2="817.6" y2="543.6" stroke="#b5b58f" stroke-width="0.6" />
<path d="M1142.6,557.6 A14,14 0 0 1 1128.6,543.6" fill="none" stroke="#b5b58f" stroke-width="0.5" stroke-dasharray="2 1.6"/>
<line x1="1142.6" y1="543.6" x2="1142.6" y2="557.6" stroke="#b5b58f" stroke-width="0.6" />
<g transform="translate(811,331) rotate(20)"><path d="M0,-3.4 L3.06,-0.68 L1.7,3.4 L-1.7,3.4 L-3.06,-0.68 Z" fill="#fff" stroke="#8e8e8e" stroke-width="0.5"/><circle r="1.19" cy="-1.02" fill="#fff" stroke="#8e8e8e" stroke-width="0.4"/></g>
<g transform="translate(853,405) rotate(30)"><path d="M0,-3.4 L3.06,-0.68 L1.7,3.4 L-1.7,3.4 L-3.06,-0.68 Z" fill="#fff" stroke="#8e8e8e" stroke-width="0.5"/><circle r="1.19" cy="-1.02" fill="#fff" stroke="#8e8e8e" stroke-width="0.4"/></g>
<g transform="translate(916,426.6) rotate(-60)"><path d="M0,-3.4 L3.06,-0.68 L1.7,3.4 L-1.7,3.4 L-3.06,-0.68 Z" fill="#fff" stroke="#8e8e8e" stroke-width="0.5"/><circle r="1.19" cy="-1.02" fill="#fff" stroke="#8e8e8e" stroke-width="0.4"/></g>
<g transform="translate(1104,399.6) rotate(30)"><path d="M0,-3.4 L3.06,-0.68 L1.7,3.4 L-1.7,3.4 L-3.06,-0.68 Z" fill="#fff" stroke="#8e8e8e" stroke-width="0.5"/><circle r="1.19" cy="-1.02" fill="#fff" stroke="#8e8e8e" stroke-width="0.4"/></g>
<g transform="translate(958,406) rotate(20)"><path d="M0,-3.4 L3.06,-0.68 L1.7,3.4 L-1.7,3.4 L-3.06,-0.68 Z" fill="#fff" stroke="#8e8e8e" stroke-width="0.5"/><circle r="1.19" cy="-1.02" fill="#fff" stroke="#8e8e8e" stroke-width="0.4"/></g>
<g transform="translate(1077.6,647) rotate(-20)"><path d="M0,-3.4 L3.06,-0.68 L1.7,3.4 L-1.7,3.4 L-3.06,-0.68 Z" fill="#fff" stroke="#8e8e8e" stroke-width="0.5"/><circle r="1.19" cy="-1.02" fill="#fff" stroke="#8e8e8e" stroke-width="0.4"/></g>
<path d="M789,787.5 H682.5 V207.6 H1264.6 V787.5 H1157" fill="none" stroke="#8e8e8e" stroke-width="0.8" />
<path d="M789,785.4 H684.6 V209.8 H1262.5 V785.4 H1157" fill="none" stroke="#b5b5b5" stroke-width="0.6" />
<path d="M789,780 H690.6 M1256,780 H1160" fill="none" stroke="#808080" stroke-width="1.0" />
<path d="M690.6,780 V215.2 M1256,215.2 V780" fill="none" stroke="#8a8a8a" stroke-width="0.8" />
<path d="M690.6,215.2 H1256" fill="none" stroke="#6e6e6e" stroke-width="1.4" />
<path d="M688.7,211 V784 M1258,211 V784" fill="none" stroke="#9a9a9a" stroke-width="0.7" stroke-dasharray="14 1.5"/>
<path d="M690.6,215.2 H1256" fill="none" stroke="#ffffff" stroke-width="1.3" stroke-dasharray="1.2 10" opacity="0.45"/>
<line x1="698.9" y1="406.6" x2="698.9" y2="780" stroke="#b0b0b0" stroke-width="0.6" />
<line x1="1246" y1="406.6" x2="1246" y2="780" stroke="#b0b0b0" stroke-width="0.6" />
<line x1="694.5" y1="222" x2="694.5" y2="780" stroke="#cfcfcf" stroke-width="0.5" />
<polygon points="692,215.4 692,210.8 693.1,209.2 693.1,207.6 694.9,207.6 694.9,209.2 696,210.8 696,215.4" fill="#6a6a6a" />
<polygon points="738.45,215.4 738.45,210.8 739.55,209.2 739.55,207.6 741.35,207.6 741.35,209.2 742.45,210.8 742.45,215.4" fill="#6a6a6a" />
<polygon points="784.9,215.4 784.9,210.8 786,209.2 786,207.6 787.8,207.6 787.8,209.2 788.9,210.8 788.9,215.4" fill="#6a6a6a" />
<polygon points="831.35,215.4 831.35,210.8 832.45,209.2 832.45,207.6 834.25,207.6 834.25,209.2 835.35,210.8 835.35,215.4" fill="#6a6a6a" />
<polygon points="877.8,215.4 877.8,210.8 878.9,209.2 878.9,207.6 880.7,207.6 880.7,209.2 881.8,210.8 881.8,215.4" fill="#6a6a6a" />
<polygon points="924.25,215.4 924.25,210.8 925.35,209.2 925.35,207.6 927.15,207.6 927.15,209.2 928.25,210.8 928.25,215.4" fill="#6a6a6a" />
<polygon points="970.7,215.4 970.7,210.8 971.8,209.2 971.8,207.6 973.6,207.6 973.6,209.2 974.7,210.8 974.7,215.4" fill="#6a6a6a" />
<polygon points="1017.15,215.4 1017.15,210.8 1018.25,209.2 1018.25,207.6 1020.05,207.6 1020.05,209.2 1021.15,210.8 1021.15,215.4" fill="#6a6a6a" />
<polygon points="1063.6,215.4 1063.6,210.8 1064.7,209.2 1064.7,207.6 1066.5,207.6 1066.5,209.2 1067.6,210.8 1067.6,215.4" fill="#6a6a6a" />
<polygon points="1110.05,215.4 1110.05,210.8 1111.15,209.2 1111.15,207.6 1112.95,207.6 1112.95,209.2 1114.05,210.8 1114.05,215.4" fill="#6a6a6a" />
<polygon points="1156.5,215.4 1156.5,210.8 1157.6,209.2 1157.6,207.6 1159.4,207.6 1159.4,209.2 1160.5,210.8 1160.5,215.4" fill="#6a6a6a" />
<polygon points="1202.95,215.4 1202.95,210.8 1204.05,209.2 1204.05,207.6 1205.85,207.6 1205.85,209.2 1206.95,210.8 1206.95,215.4" fill="#6a6a6a" />
<polygon points="1249.4,215.4 1249.4,210.8 1250.5,209.2 1250.5,207.6 1252.3,207.6 1252.3,209.2 1253.4,210.8 1253.4,215.4" fill="#6a6a6a" />
<polygon points="692,780 692,784.2 693.1,785.8 693.1,787.4 694.9,787.4 694.9,785.8 696,784.2 696,780" fill="#6a6a6a" />
<polygon points="738.45,780 738.45,784.2 739.55,785.8 739.55,787.4 741.35,787.4 741.35,785.8 742.45,784.2 742.45,780" fill="#6a6a6a" />
<polygon points="784.9,780 784.9,784.2 786,785.8 786,787.4 787.8,787.4 787.8,785.8 788.9,784.2 788.9,780" fill="#6a6a6a" />
<polygon points="1156.5,780 1156.5,784.2 1157.6,785.8 1157.6,787.4 1159.4,787.4 1159.4,785.8 1160.5,784.2 1160.5,780" fill="#6a6a6a" />
<polygon points="1202.95,780 1202.95,784.2 1204.05,785.8 1204.05,787.4 1205.85,787.4 1205.85,785.8 1206.95,784.2 1206.95,780" fill="#6a6a6a" />
<polygon points="1249.4,780 1249.4,784.2 1250.5,785.8 1250.5,787.4 1252.3,787.4 1252.3,785.8 1253.4,784.2 1253.4,780" fill="#6a6a6a" />
<polygon points="690.6,217.6 685.8,217.6 684.2,218.5 682.6,218.5 682.6,220.3 684.2,220.3 685.8,221.2 690.6,221.2" fill="#6a6a6a" />
<polygon points="1256,217.6 1261.3,217.6 1262.9,218.5 1264.5,218.5 1264.5,220.3 1262.9,220.3 1261.3,221.2 1256,221.2" fill="#6a6a6a" />
<polygon points="690.6,263.97 685.8,263.97 684.2,264.87 682.6,264.87 682.6,266.67 684.2,266.67 685.8,267.57 690.6,267.57" fill="#6a6a6a" />
<polygon points="1256,263.97 1261.3,263.97 1262.9,264.87 1264.5,264.87 1264.5,266.67 1262.9,266.67 1261.3,267.57 1256,267.57" fill="#6a6a6a" />
<polygon points="690.6,310.34 685.8,310.34 684.2,311.24 682.6,311.24 682.6,313.04 684.2,313.04 685.8,313.94 690.6,313.94" fill="#6a6a6a" />
<polygon points="1256,310.34 1261.3,310.34 1262.9,311.24 1264.5,311.24 1264.5,313.04 1262.9,313.04 1261.3,313.94 1256,313.94" fill="#6a6a6a" />
<polygon points="690.6,356.71 685.8,356.71 684.2,357.61 682.6,357.61 682.6,359.41 684.2,359.41 685.8,360.31 690.6,360.31" fill="#6a6a6a" />
<polygon points="1256,356.71 1261.3,356.71 1262.9,357.61 1264.5,357.61 1264.5,359.41 1262.9,359.41 1261.3,360.31 1256,360.31" fill="#6a6a6a" />
<polygon points="690.6,403.08 685.8,403.08 684.2,403.98 682.6,403.98 682.6,405.78 684.2,405.78 685.8,406.68 690.6,406.68" fill="#6a6a6a" />
<polygon points="1256,403.08 1261.3,403.08 1262.9,403.98 1264.5,403.98 1264.5,405.78 1262.9,405.78 1261.3,406.68 1256,406.68" fill="#6a6a6a" />
<polygon points="690.6,449.45 685.8,449.45 684.2,450.35 682.6,450.35 682.6,452.15 684.2,452.15 685.8,453.05 690.6,453.05" fill="#6a6a6a" />
<polygon points="1256,449.45 1261.3,449.45 1262.9,450.35 1264.5,450.35 1264.5,452.15 1262.9,452.15 1261.3,453.05 1256,453.05" fill="#6a6a6a" />
<polygon points="690.6,495.82 685.8,495.82 684.2,496.72 682.6,496.72 682.6,498.52 684.2,498.52 685.8,499.42 690.6,499.42" fill="#6a6a6a" />
<polygon points="1256,495.82 1261.3,495.82 1262.9,496.72 1264.5,496.72 1264.5,498.52 1262.9,498.52 1261.3,499.42 1256,499.42" fill="#6a6a6a" />
<polygon points="690.6,542.19 685.8,542.19 684.2,543.09 682.6,543.09 682.6,544.89 684.2,544.89 685.8,545.79 690.6,545.79" fill="#6a6a6a" />
<polygon points="1256,542.19 1261.3,542.19 1262.9,543.09 1264.5,543.09 1264.5,544.89 1262.9,544.89 1261.3,545.79 1256,545.79" fill="#6a6a6a" />
<polygon points="690.6,588.56 685.8,588.56 684.2,589.46 682.6,589.46 682.6,591.26 684.2,591.26 685.8,592.16 690.6,592.16" fill="#6a6a6a" />
<polygon points="1256,588.56 1261.3,588.56 1262.9,589.46 1264.5,589.46 1264.5,591.26 1262.9,591.26 1261.3,592.16 1256,592.16" fill="#6a6a6a" />
<polygon points="690.6,634.93 685.8,634.93 684.2,635.83 682.6,635.83 682.6,637.63 684.2,637.63 685.8,638.53 690.6,638.53" fill="#6a6a6a" />
<polygon points="1256,634.93 1261.3,634.93 1262.9,635.83 1264.5,635.83 1264.5,637.63 1262.9,637.63 1261.3,638.53 1256,638.53" fill="#6a6a6a" />
<polygon points="690.6,681.3 685.8,681.3 684.2,682.2 682.6,682.2 682.6,684 684.2,684 685.8,684.9 690.6,684.9" fill="#6a6a6a" />
<polygon points="1256,681.3 1261.3,681.3 1262.9,682.2 1264.5,682.2 1264.5,684 1262.9,684 1261.3,684.9 1256,684.9" fill="#6a6a6a" />
<polygon points="690.6,727.67 685.8,727.67 684.2,728.57 682.6,728.57 682.6,730.37 684.2,730.37 685.8,731.27 690.6,731.27" fill="#6a6a6a" />
<polygon points="1256,727.67 1261.3,727.67 1262.9,728.57 1264.5,728.57 1264.5,730.37 1262.9,730.37 1261.3,731.27 1256,731.27" fill="#6a6a6a" />
<polygon points="690.6,774.04 685.8,774.04 684.2,774.94 682.6,774.94 682.6,776.74 684.2,776.74 685.8,777.64 690.6,777.64" fill="#6a6a6a" />
<polygon points="1256,774.04 1261.3,774.04 1262.9,774.94 1264.5,774.94 1264.5,776.74 1262.9,776.74 1261.3,777.64 1256,777.64" fill="#6a6a6a" />
<rect x="691.7" y="217.1" width="4.6" height="4.6" fill="#6f6f6f" stroke="#5a5a5a" stroke-width="0.4"/>
<rect x="831.05" y="217.1" width="4.6" height="4.6" fill="#6f6f6f" stroke="#5a5a5a" stroke-width="0.4"/>
<rect x="970.4" y="217.1" width="4.6" height="4.6" fill="#6f6f6f" stroke="#5a5a5a" stroke-width="0.4"/>
<rect x="1249.1" y="217.1" width="4.6" height="4.6" fill="#6f6f6f" stroke="#5a5a5a" stroke-width="0.4"/>
<rect x="691.7" y="356.21" width="4.6" height="4.6" fill="#6f6f6f" stroke="#5a5a5a" stroke-width="0.4"/>
<rect x="691.7" y="495.32" width="4.6" height="4.6" fill="#6f6f6f" stroke="#5a5a5a" stroke-width="0.4"/>
<rect x="691.7" y="634.43" width="4.6" height="4.6" fill="#6f6f6f" stroke="#5a5a5a" stroke-width="0.4"/>
<rect x="691.7" y="773.54" width="4.6" height="4.6" fill="#6f6f6f" stroke="#5a5a5a" stroke-width="0.4"/>
<rect x="1249.1" y="356.21" width="4.6" height="4.6" fill="#6f6f6f" stroke="#5a5a5a" stroke-width="0.4"/>
<rect x="1249.1" y="495.32" width="4.6" height="4.6" fill="#6f6f6f" stroke="#5a5a5a" stroke-width="0.4"/>
<rect x="1249.1" y="634.43" width="4.6" height="4.6" fill="#6f6f6f" stroke="#5a5a5a" stroke-width="0.4"/>
<rect x="1249.1" y="773.54" width="4.6" height="4.6" fill="#6f6f6f" stroke="#5a5a5a" stroke-width="0.4"/>
<rect x="831.05" y="495.32" width="4.6" height="4.6" fill="#6f6f6f" stroke="#5a5a5a" stroke-width="0.4"/>
<rect x="1109.75" y="495.32" width="4.6" height="4.6" fill="#6f6f6f" stroke="#5a5a5a" stroke-width="0.4"/>
<rect x="831.05" y="634.43" width="4.6" height="4.6" fill="#6f6f6f" stroke="#5a5a5a" stroke-width="0.4"/>
<rect x="1109.75" y="634.43" width="4.6" height="4.6" fill="#6f6f6f" stroke="#5a5a5a" stroke-width="0.4"/>
<rect x="831.05" y="773.54" width="4.6" height="4.6" fill="#6f6f6f" stroke="#5a5a5a" stroke-width="0.4"/>
<rect x="1109.75" y="773.54" width="4.6" height="4.6" fill="#6f6f6f" stroke="#5a5a5a" stroke-width="0.4"/>
<rect x="970.4" y="356.21" width="4.6" height="4.6" fill="#6f6f6f" stroke="#5a5a5a" stroke-width="0.4"/>
<rect x="970.4" y="495.32" width="4.6" height="4.6" fill="#6f6f6f" stroke="#5a5a5a" stroke-width="0.4"/>
<rect x="1109.75" y="356.21" width="4.6" height="4.6" fill="#6f6f6f" stroke="#5a5a5a" stroke-width="0.4"/>
<rect x="1109.75" y="217.1" width="4.6" height="4.6" fill="#4e6b4a" stroke="#5a5a5a" stroke-width="0.4"/>
<rect x="970.4" y="773.54" width="4.6" height="4.6" fill="#3d4a57" stroke="#5a5a5a" stroke-width="0.4"/>
<rect x="970.5" y="634.53" width="4.4" height="4.4" fill="#fffff0" stroke="#9a9a9a" stroke-width="0.5"/>
<rect x="837.6" y="501.6" width="270.8" height="130.4" fill="none" stroke="#858585" stroke-width="0.9"/>
<rect x="845.6" y="509.6" width="254.8" height="114" fill="none" stroke="#9a9a9a" stroke-width="0.8"/>
<rect x="840" y="504" width="266" height="125.6" fill="none" stroke="#c4c4c4" stroke-width="0.5"/>
<polygon points="877.8,501.8 877.8,506.4 878.9,508 878.9,509.6 880.7,509.6 880.7,508 881.8,506.4 881.8,501.8" fill="#6a6a6a" />
<polygon points="877.8,631.8 877.8,627 878.9,625.4 878.9,623.8 880.7,623.8 880.7,625.4 881.8,627 881.8,631.8" fill="#6a6a6a" />
<polygon points="924.25,501.8 924.25,506.4 925.35,508 925.35,509.6 927.15,509.6 927.15,508 928.25,506.4 928.25,501.8" fill="#6a6a6a" />
<polygon points="924.25,631.8 924.25,627 925.35,625.4 925.35,623.8 927.15,623.8 927.15,625.4 928.25,627 928.25,631.8" fill="#6a6a6a" />
<polygon points="970.7,501.8 970.7,506.4 971.8,508 971.8,509.6 973.6,509.6 973.6,508 974.7,506.4 974.7,501.8" fill="#6a6a6a" />
<polygon points="970.7,631.8 970.7,627 971.8,625.4 971.8,623.8 973.6,623.8 973.6,625.4 974.7,627 974.7,631.8" fill="#6a6a6a" />
<polygon points="1017.15,501.8 1017.15,506.4 1018.25,508 1018.25,509.6 1020.05,509.6 1020.05,508 1021.15,506.4 1021.15,501.8" fill="#6a6a6a" />
<polygon points="1017.15,631.8 1017.15,627 1018.25,625.4 1018.25,623.8 1020.05,623.8 1020.05,625.4 1021.15,627 1021.15,631.8" fill="#6a6a6a" />
<polygon points="1063.6,501.8 1063.6,506.4 1064.7,508 1064.7,509.6 1066.5,509.6 1066.5,508 1067.6,506.4 1067.6,501.8" fill="#6a6a6a" />
<polygon points="1063.6,631.8 1063.6,627 1064.7,625.4 1064.7,623.8 1066.5,623.8 1066.5,625.4 1067.6,627 1067.6,631.8" fill="#6a6a6a" />
<polygon points="837.8,542.19 842.4,542.19 844,543.09 845.6,543.09 845.6,544.89 844,544.89 842.4,545.79 837.8,545.79" fill="#6a6a6a" />
<polygon points="1108.2,542.19 1103.6,542.19 1102,543.09 1100.4,543.09 1100.4,544.89 1102,544.89 1103.6,545.79 1108.2,545.79" fill="#6a6a6a" />
<polygon points="837.8,588.56 842.4,588.56 844,589.46 845.6,589.46 845.6,591.26 844,591.26 842.4,592.16 837.8,592.16" fill="#6a6a6a" />
<polygon points="1108.2,588.56 1103.6,588.56 1102,589.46 1100.4,589.46 1100.4,591.26 1102,591.26 1103.6,592.16 1108.2,592.16" fill="#6a6a6a" />
<rect x="847" y="511" width="5.6" height="31" fill="#fafafa" stroke="#c9c9c9" stroke-width="0.4"/>
<line x1="847" y1="514" x2="852.6" y2="514" stroke="#dcdcdc" stroke-width="0.3" />
<line x1="847" y1="517" x2="852.6" y2="517" stroke="#dcdcdc" stroke-width="0.3" />
<line x1="847" y1="520" x2="852.6" y2="520" stroke="#dcdcdc" stroke-width="0.3" />
<line x1="847" y1="523" x2="852.6" y2="523" stroke="#dcdcdc" stroke-width="0.3" />
<line x1="847" y1="526" x2="852.6" y2="526" stroke="#dcdcdc" stroke-width="0.3" />
<line x1="847" y1="529" x2="852.6" y2="529" stroke="#dcdcdc" stroke-width="0.3" />
<line x1="847" y1="532" x2="852.6" y2="532" stroke="#dcdcdc" stroke-width="0.3" />
<line x1="847" y1="535" x2="852.6" y2="535" stroke="#dcdcdc" stroke-width="0.3" />
<line x1="847" y1="538" x2="852.6" y2="538" stroke="#dcdcdc" stroke-width="0.3" />
<line x1="847" y1="541" x2="852.6" y2="541" stroke="#dcdcdc" stroke-width="0.3" />
<line x1="849.8" y1="511" x2="849.8" y2="542" stroke="#dcdcdc" stroke-width="0.3" />
<rect x="847" y="546" width="5.6" height="43" fill="#fafafa" stroke="#c9c9c9" stroke-width="0.4"/>
<line x1="847" y1="549" x2="852.6" y2="549" stroke="#dcdcdc" stroke-width="0.3" />
<line x1="847" y1="552" x2="852.6" y2="552" stroke="#dcdcdc" stroke-width="0.3" />
<line x1="847" y1="555" x2="852.6" y2="555" stroke="#dcdcdc" stroke-width="0.3" />
<line x1="847" y1="558" x2="852.6" y2="558" stroke="#dcdcdc" stroke-width="0.3" />
<line x1="847" y1="561" x2="852.6" y2="561" stroke="#dcdcdc" stroke-width="0.3" />
<line x1="847" y1="564" x2="852.6" y2="564" stroke="#dcdcdc" stroke-width="0.3" />
<line x1="847" y1="567" x2="852.6" y2="567" stroke="#dcdcdc" stroke-width="0.3" />
<line x1="847" y1="570" x2="852.6" y2="570" stroke="#dcdcdc" stroke-width="0.3" />
<line x1="847" y1="573" x2="852.6" y2="573" stroke="#dcdcdc" stroke-width="0.3" />
<line x1="847" y1="576" x2="852.6" y2="576" stroke="#dcdcdc" stroke-width="0.3" />
<line x1="847" y1="579" x2="852.6" y2="579" stroke="#dcdcdc" stroke-width="0.3" />
<line x1="847" y1="582" x2="852.6" y2="582" stroke="#dcdcdc" stroke-width="0.3" />
<line x1="847" y1="585" x2="852.6" y2="585" stroke="#dcdcdc" stroke-width="0.3" />
<line x1="847" y1="588" x2="852.6" y2="588" stroke="#dcdcdc" stroke-width="0.3" />
<line x1="849.8" y1="546" x2="849.8" y2="589" stroke="#dcdcdc" stroke-width="0.3" />
<rect x="847" y="592" width="5.6" height="30" fill="#fafafa" stroke="#c9c9c9" stroke-width="0.4"/>
<line x1="847" y1="595" x2="852.6" y2="595" stroke="#dcdcdc" stroke-width="0.3" />
<line x1="847" y1="598" x2="852.6" y2="598" stroke="#dcdcdc" stroke-width="0.3" />
<line x1="847" y1="601" x2="852.6" y2="601" stroke="#dcdcdc" stroke-width="0.3" />
<line x1="847" y1="604" x2="852.6" y2="604" stroke="#dcdcdc" stroke-width="0.3" />
<line x1="847" y1="607" x2="852.6" y2="607" stroke="#dcdcdc" stroke-width="0.3" />
<line x1="847" y1="610" x2="852.6" y2="610" stroke="#dcdcdc" stroke-width="0.3" />
<line x1="847" y1="613" x2="852.6" y2="613" stroke="#dcdcdc" stroke-width="0.3" />
<line x1="847" y1="616" x2="852.6" y2="616" stroke="#dcdcdc" stroke-width="0.3" />
<line x1="847" y1="619" x2="852.6" y2="619" stroke="#dcdcdc" stroke-width="0.3" />
<line x1="849.8" y1="592" x2="849.8" y2="622" stroke="#dcdcdc" stroke-width="0.3" />
<rect x="1093.4" y="511" width="5.6" height="31" fill="#fafafa" stroke="#c9c9c9" stroke-width="0.4"/>
<line x1="1093.4" y1="514" x2="1099" y2="514" stroke="#dcdcdc" stroke-width="0.3" />
<line x1="1093.4" y1="517" x2="1099" y2="517" stroke="#dcdcdc" stroke-width="0.3" />
<line x1="1093.4" y1="520" x2="1099" y2="520" stroke="#dcdcdc" stroke-width="0.3" />
<line x1="1093.4" y1="523" x2="1099" y2="523" stroke="#dcdcdc" stroke-width="0.3" />
<line x1="1093.4" y1="526" x2="1099" y2="526" stroke="#dcdcdc" stroke-width="0.3" />
<line x1="1093.4" y1="529" x2="1099" y2="529" stroke="#dcdcdc" stroke-width="0.3" />
<line x1="1093.4" y1="532" x2="1099" y2="532" stroke="#dcdcdc" stroke-width="0.3" />
<line x1="1093.4" y1="535" x2="1099" y2="535" stroke="#dcdcdc" stroke-width="0.3" />
<line x1="1093.4" y1="538" x2="1099" y2="538" stroke="#dcdcdc" stroke-width="0.3" />
<line x1="1093.4" y1="541" x2="1099" y2="541" stroke="#dcdcdc" stroke-width="0.3" />
<line x1="1096.2" y1="511" x2="1096.2" y2="542" stroke="#dcdcdc" stroke-width="0.3" />
<rect x="1093.4" y="546" width="5.6" height="43" fill="#fafafa" stroke="#c9c9c9" stroke-width="0.4"/>
<line x1="1093.4" y1="549" x2="1099" y2="549" stroke="#dcdcdc" stroke-width="0.3" />
<line x1="1093.4" y1="552" x2="1099" y2="552" stroke="#dcdcdc" stroke-width="0.3" />
<line x1="1093.4" y1="555" x2="1099" y2="555" stroke="#dcdcdc" stroke-width="0.3" />
<line x1="1093.4" y1="558" x2="1099" y2="558" stroke="#dcdcdc" stroke-width="0.3" />
<line x1="1093.4" y1="561" x2="1099" y2="561" stroke="#dcdcdc" stroke-width="0.3" />
<line x1="1093.4" y1="564" x2="1099" y2="564" stroke="#dcdcdc" stroke-width="0.3" />
<line x1="1093.4" y1="567" x2="1099" y2="567" stroke="#dcdcdc" stroke-width="0.3" />
<line x1="1093.4" y1="570" x2="1099" y2="570" stroke="#dcdcdc" stroke-width="0.3" />
<line x1="1093.4" y1="573" x2="1099" y2="573" stroke="#dcdcdc" stroke-width="0.3" />
<line x1="1093.4" y1="576" x2="1099" y2="576" stroke="#dcdcdc" stroke-width="0.3" />
<line x1="1093.4" y1="579" x2="1099" y2="579" stroke="#dcdcdc" stroke-width="0.3" />
<line x1="1093.4" y1="582" x2="1099" y2="582" stroke="#dcdcdc" stroke-width="0.3" />
<line x1="1093.4" y1="585" x2="1099" y2="585" stroke="#dcdcdc" stroke-width="0.3" />
<line x1="1093.4" y1="588" x2="1099" y2="588" stroke="#dcdcdc" stroke-width="0.3" />
<line x1="1096.2" y1="546" x2="1096.2" y2="589" stroke="#dcdcdc" stroke-width="0.3" />
<rect x="1093.4" y="592" width="5.6" height="30" fill="#fafafa" stroke="#c9c9c9" stroke-width="0.4"/>
<line x1="1093.4" y1="595" x2="1099" y2="595" stroke="#dcdcdc" stroke-width="0.3" />
<line x1="1093.4" y1="598" x2="1099" y2="598" stroke="#dcdcdc" stroke-width="0.3" />
<line x1="1093.4" y1="601" x2="1099" y2="601" stroke="#dcdcdc" stroke-width="0.3" />
<line x1="1093.4" y1="604" x2="1099" y2="604" stroke="#dcdcdc" stroke-width="0.3" />
<line x1="1093.4" y1="607" x2="1099" y2="607" stroke="#dcdcdc" stroke-width="0.3" />
<line x1="1093.4" y1="610" x2="1099" y2="610" stroke="#dcdcdc" stroke-width="0.3" />
<line x1="1093.4" y1="613" x2="1099" y2="613" stroke="#dcdcdc" stroke-width="0.3" />
<line x1="1093.4" y1="616" x2="1099" y2="616" stroke="#dcdcdc" stroke-width="0.3" />
<line x1="1093.4" y1="619" x2="1099" y2="619" stroke="#dcdcdc" stroke-width="0.3" />
<line x1="1096.2" y1="592" x2="1096.2" y2="622" stroke="#dcdcdc" stroke-width="0.3" />
<rect x="839" y="503" width="5.5" height="5.5" fill="#ffffff" stroke="#7a7a7a" stroke-width="1"/>
<rect x="1101.5" y="503" width="5.5" height="5.5" fill="#ffffff" stroke="#7a7a7a" stroke-width="1"/>
<rect x="839" y="625.2" width="5.5" height="5.5" fill="#ffffff" stroke="#7a7a7a" stroke-width="1"/>
<rect x="1101.5" y="625.2" width="5.5" height="5.5" fill="#ffffff" stroke="#7a7a7a" stroke-width="1"/>
<rect x="785.8" y="781.8" width="374.4" height="41.2" fill="none" stroke="#858585" stroke-width="1.1"/>
<line x1="787.6" y1="783" x2="787.6" y2="822" stroke="#b5b5b5" stroke-width="0.6" />
<line x1="1158.4" y1="783" x2="1158.4" y2="822" stroke="#b5b5b5" stroke-width="0.6" />
<line x1="786" y1="821.2" x2="1160" y2="821.2" stroke="#9a9a9a" stroke-width="0.6" />
<rect x="785.7" y="819.2" width="3.6" height="3.4" fill="#7a7a7a" />
<rect x="878.2" y="819.2" width="3.6" height="3.4" fill="#7a7a7a" />
<rect x="970.6" y="819.2" width="3.6" height="3.4" fill="#7a7a7a" />
<rect x="1063.8" y="819.2" width="3.6" height="3.4" fill="#7a7a7a" />
<rect x="1156.8" y="819.2" width="3.6" height="3.4" fill="#7a7a7a" />
<rect x="878.2" y="782" width="3.6" height="4" fill="#7a7a7a" />
<rect x="1063.8" y="782" width="3.6" height="4" fill="#7a7a7a" />
<rect x="785.5" y="781.6" width="4" height="6.4" fill="#7a7a7a" />
<rect x="1156.6" y="781.6" width="4" height="6.4" fill="#7a7a7a" />
<line x1="835" y1="781.6" x2="1064" y2="781.6" stroke="#7a7a7a" stroke-width="1.0" />
<line x1="972.4" y1="786" x2="972.4" y2="821" stroke="#8a8a8a" stroke-width="0.9" />
<defs><clipPath id="tri"><polygon points="416.5,170.6 329.4,319.6 504.3,319.6"/></clipPath><linearGradient id="gsky" x1="0" y1="0" x2="0" y2="1"><stop offset="0" stop-color="#c9d6ea"/><stop offset="1" stop-color="#e6edf5"/></linearGradient><filter id="bl" x="-10%" y="-10%" width="120%" height="120%"><feGaussianBlur stdDeviation="1.6"/></filter><filter id="bl2" x="-10%" y="-10%" width="120%" height="120%"><feGaussianBlur stdDeviation="0.7"/></filter></defs>
<g clip-path="url(#tri)">
<rect x="325" y="165" width="185" height="160" fill="#bfcb9c" />
<g filter="url(#bl)">
<polygon points="416,168 440,210 448,226 420,250 395,240 380,225" fill="#c6d09a" />
<polygon points="395,215 430,205 445,228 420,262 385,250 372,240" fill="#c2cfa6" />
<polygon points="430,214 449.8,227.7 418.6,269.7 412.6,262 416,237" fill="#dde6f0" />
<polygon points="404,196 414,192 420,204 408,208" fill="#dbe3ec" />
<polygon points="388,228 403,226 408,240 394,244" fill="#d3dde8" />
<polygon points="420,176 426,186 418,190" fill="#dce4e8" />
<polygon points="392,236 416,226 424,250 410,268 388,262" fill="#b9cc8e" />
<polygon points="329,320 372,246 400,244 414,266 418,300 410,306 340,306" fill="#9bb287" />
<polygon points="346,294 372,262 398,264 404,300 350,304" fill="#8ba37b" />
<polygon points="384,262 412,254 418,282 398,296 386,290" fill="#a5c08b" />
<polygon points="325,303 420,300 470,312 510,325 325,325" fill="#a9c27c" />
<polygon points="325,316 440,316 480,325 325,325" fill="#b9cf7f" />
</g>
<g filter="url(#bl2)">
<polygon points="449.8,226.9 417.7,269.7 417.7,302.5 462.3,314.5 476,319.6 510,319.6 510,300" fill="#c9c8b7" />
<polygon points="449.8,226.9 417.7,269.7 417.7,273.5 452,233" fill="#d6d5c8" />
<polygon points="420,273 462,238 462,252 420,281" fill="#b5b7ae" />
<polygon points="420,289 476,262 476,281 420,297.5" fill="#a9aba1" />
<polygon points="420,297 476,286 476,309 420,301.5" fill="#aeb0a5" />
<polygon points="455,240 461,235 461,248 455,252" fill="#b9cbe0" />
<line x1="425" y1="259.25" x2="425" y2="304" stroke="#cfcec0" stroke-width="1.0" />
<line x1="431" y1="255.95" x2="431" y2="305.2" stroke="#cfcec0" stroke-width="1.0" />
<line x1="437.5" y1="252.38" x2="437.5" y2="306.5" stroke="#cfcec0" stroke-width="1.0" />
<line x1="444" y1="248.8" x2="444" y2="307.8" stroke="#cfcec0" stroke-width="1.0" />
<line x1="451" y1="244.95" x2="451" y2="309.2" stroke="#cfcec0" stroke-width="1.0" />
<line x1="460" y1="240" x2="460" y2="311" stroke="#cfcec0" stroke-width="1.0" />
<line x1="470" y1="234.5" x2="470" y2="313" stroke="#cfcec0" stroke-width="1.0" />
<polygon points="417.7,283 476,256 476,261 417.7,287.5" fill="#cdccba" />
<polygon points="476,250 504,300 504,319.6 490,319.6 476,315" fill="#cfcdbf" />
<line x1="475" y1="268" x2="475" y2="314" stroke="#a9b0b8" stroke-width="1.2" />
<polygon points="490,300 504,319.6 494,319.6 490,312" fill="#d9d4c8" />
</g>
<g filter="url(#bl2)">
<polygon points="361,296 368,295 369,312 360,312" fill="#b3ad97" />
</g>
</g>
<polygon points="416.5,170.6 329.4,319.6 504.3,319.6" fill="#ffffff" opacity="0.12"/>
<polygon points="410,280.5 381,335.7 414,334" fill="#ffffff" stroke="#ffffff" stroke-width="2.6" stroke-linejoin="miter"/>
<polygon points="410,280.5 381,335.7 414,334" fill="#dddccb" />
<polygon points="436,322.3 489,313.3 486,340.7" fill="#ffffff" stroke="#ffffff" stroke-width="2.6" stroke-linejoin="miter"/>
<polygon points="436,322.3 489,313.3 486,340.7" fill="#dcdaee" />
<polygon points="448.3,330 494,350 477.3,380" fill="#ffffff" stroke="#ffffff" stroke-width="2.6" stroke-linejoin="miter"/>
<polygon points="448.3,330 494,350 477.3,380" fill="#dceef8" />
<polygon points="405.7,366 451,363.3 431,390" fill="#ffffff" stroke="#ffffff" stroke-width="2.6" stroke-linejoin="miter"/>
<polygon points="405.7,366 451,363.3 431,390" fill="#d9d46c" />
<polygon points="446,377.3 433.3,392.7 469.3,406" fill="#ffffff" stroke="#ffffff" stroke-width="2.6" stroke-linejoin="miter"/>
<polygon points="446,377.3 433.3,392.7 469.3,406" fill="#e6aa3f" />
<polygon points="467.3,395 520.7,387.3 500,436.7" fill="#b9261d" />
<polygon points="460.7,445 505,452.7 445,486" fill="#96cedb" />
<rect x="536.2" y="847.3" width="173.2" height="10.6" fill="#ffffff" stroke="#9a9a9a" stroke-width="0.6"/>
<rect x="536.2" y="852.6" width="35.1" height="5.3" fill="#111111" />
<rect x="571.3" y="847.3" width="51.4" height="5.3" fill="#111111" />
<rect x="622.7" y="852.6" width="86.7" height="5.3" fill="#111111" />
<text x="571" y="844.2" text-anchor="middle" font-size="6.3" font-weight="bold" fill="#111">2m</text>
<text x="623.2" y="844.2" text-anchor="middle" font-size="6.3" font-weight="bold" fill="#111">5m</text>
<text x="710.4" y="844.2" text-anchor="middle" font-size="6.3" font-weight="bold" fill="#111">10m</text>
<circle cx="759" cy="849.2" r="16.8" fill="#ffffff" stroke="#7a7a7a" stroke-width="0.7"/>
<polygon points="752.1,835.5 773.5,856.1 761.7,854.6 755.8,864.2" fill="#6e6e6e" />
<text x="0" y="0" font-size="7.4" font-weight="bold" fill="#ffffff" text-anchor="middle" transform="translate(761.6,852.6) rotate(-32)">N</text>
<text x="1351.5" y="887.6" font-size="12" fill="#111">Grundriss</text>
<path d="M790.7,183.7 V197.2 L830.8,226.8" fill="none" stroke="#72a75b" stroke-width="3.7" stroke-linecap="round" stroke-dasharray="0.01 6.9"/>
<path d="M852,205 V276" fill="none" stroke="#4f9bb1" stroke-width="3.7" stroke-linecap="round" stroke-dasharray="0.01 7.87"/>
<path d="M903.6,186 V224" fill="none" stroke="#72a75b" stroke-width="3.7" stroke-linecap="round" stroke-dasharray="0.01 7.45"/>
<path d="M958.6,200.6 V343 L936.6,360.6" fill="none" stroke="#4f9bb1" stroke-width="3.7" stroke-linecap="round" stroke-dasharray="0.01 7.93"/>
<path d="M1012,183.6 V276" fill="none" stroke="#4f9bb1" stroke-width="3.7" stroke-linecap="round" stroke-dasharray="0.01 7.9"/>
<path d="M1060.6,203.6 V301 L1020.4,333.6" fill="none" stroke="#4f9bb1" stroke-width="3.7" stroke-linecap="round" stroke-dasharray="0.01 8.0"/>
<path d="M1109,182 V274 L1053.6,325.6" fill="none" stroke="#c25db6" stroke-width="3.7" stroke-linecap="round" stroke-dasharray="0.01 7.9"/>
<path d="M1163,199 V226 L1146.6,239.6" fill="none" stroke="#72a75b" stroke-width="3.7" stroke-linecap="round" stroke-dasharray="0.01 6.8"/>
<path d="M648,251.2 H714" fill="none" stroke="#c5261f" stroke-width="3.9" stroke-linecap="round" stroke-dasharray="0.01 8.22"/>
<path d="M642.7,320.4 H868" fill="none" stroke="#c25db6" stroke-width="3.8" stroke-linecap="round" stroke-dasharray="0.01 8.2"/>
<path d="M648,373.1 H714" fill="none" stroke="#c5261f" stroke-width="3.9" stroke-linecap="round" stroke-dasharray="0.01 8.22"/>
<path d="M645.3,428 H710" fill="none" stroke="#72a75b" stroke-width="3.7" stroke-linecap="round" stroke-dasharray="0.01 7.96"/>
<path d="M644.6,601.2 H852" fill="none" stroke="#e5cc0e" stroke-width="3.7" stroke-linecap="round" stroke-dasharray="0.01 8.1"/>
<path d="M643,710 H816" fill="none" stroke="#e5cc0e" stroke-width="3.7" stroke-linecap="round" stroke-dasharray="0.01 8.1"/>
<path d="M1310,259.9 H1221" fill="none" stroke="#72a75b" stroke-width="3.7" stroke-linecap="round" stroke-dasharray="0.01 8.1"/>
<path d="M1310,317 H1221" fill="none" stroke="#72a75b" stroke-width="3.7" stroke-linecap="round" stroke-dasharray="0.01 8.0"/>
<path d="M1305.6,373 H1221" fill="none" stroke="#72a75b" stroke-width="3.7" stroke-linecap="round" stroke-dasharray="0.01 8.3"/>
<path d="M1305.6,429 H1222" fill="none" stroke="#72a75b" stroke-width="3.7" stroke-linecap="round" stroke-dasharray="0.01 8.1"/>
<path d="M1309,512.9 H1128" fill="none" stroke="#e5cc0e" stroke-width="3.7" stroke-linecap="round" stroke-dasharray="0.01 8.1"/>
<path d="M900.6,471 V553" fill="none" stroke="#72a75b" stroke-width="3.7" stroke-linecap="round" stroke-dasharray="0.01 8.2"/>
<path d="M953.6,463 V518" fill="none" stroke="#4f9bb1" stroke-width="3.7" stroke-linecap="round" stroke-dasharray="0.01 7.8"/>
<path d="M1055.6,467 V524" fill="none" stroke="#72a75b" stroke-width="3.7" stroke-linecap="round" stroke-dasharray="0.01 8.05"/>
<path d="M1002,627 V664" fill="none" stroke="#4f9bb1" stroke-width="3.7" stroke-linecap="round" stroke-dasharray="0.01 8.8"/>
<path d="M988,753.4 V828" fill="none" stroke="#4f9bb1" stroke-width="3.7" stroke-linecap="round" stroke-dasharray="0.01 8.2"/>
<path d="M1088.6,795.4 V829" fill="none" stroke="#4f9bb1" stroke-width="3.7" stroke-linecap="round" stroke-dasharray="0.01 8.2"/>
<g transform="translate(792.3,160.3)"><circle r="20.4" fill="#98a81c"/><path d="M-15.2,10.6 C-15.2,5.4 -11,4.2 -6,2.6 L-0.5,7.4 L5.2,2.6 C10.4,4.2 14.4,5.4 14.4,10.6 C10,13.6 4,14.6 -0.5,14.6 C-5,14.6 -11,13.6 -15.2,10.6 Z" fill="#fff"/><path d="M-0.5,-17.4 C4.6,-17.4 7.4,-13.6 7.3,-8.6 C7.2,-3.6 3.4,2.2 -0.5,2.2 C-4.4,2.2 -8.2,-3.6 -8.3,-8.6 C-8.4,-13.6 -5.6,-17.4 -0.5,-17.4 Z" fill="#fff"/><path d="M-6.9,-8.6 C-6.2,-10 -3.2,-10 -0.5,-9.4 C2.2,-10 5.2,-10 5.9,-8.6 C6.2,-4 2.8,0.2 -0.5,0.7 C-3.8,0.2 -7.2,-4 -6.9,-8.6 Z" fill="#98a81c"/><path d="M-12.1,11.4 a2.7,3.4 0 1 1 5,0 M-12.1,11.4 l1,0.5 M-7.1,11.4 l-1,0.5 M-9.6,5 V3.4" fill="none" stroke="#98a81c" stroke-width="1.15" stroke-linecap="round"/><circle cx="8.3" cy="6.2" r="1.5" fill="none" stroke="#98a81c" stroke-width="0.9"/><path d="M8.3,4.8 V3.2" stroke="#98a81c" stroke-width="0.9"/></g>
<g transform="translate(852,178.6)"><circle r="20.7" fill="#a4cfe8"/><path d="M-9.7,13 H-4.1 V9.4 H-0.3 V5.7 H3.8 V1.9 H7.9 V-1.9 H13.2" fill="none" stroke="#fff" stroke-width="1.5"/><circle cx="-7.1" cy="-11.8" r="2.3" fill="#fff"/><path d="M-8.9,-8.6 C-8.9,-9.6 -5.2,-9.6 -5.2,-8.4 L-4.8,-5.4 L-2,-5 V-3.6 L-5.6,-3.8 L-5.4,0.6 L-3.6,1.2 V2.6 L-6,2.8 L-6.2,11 H-8 L-8.2,3 L-9.4,-1.6 Z" fill="#fff"/><path d="M-9,-8 L-11.4,-3.6" stroke="#fff" stroke-width="1.2" stroke-linecap="round"/></g>
<g transform="translate(905,160.3)"><circle r="20.4" fill="#98a81c"/><path d="M-15.2,10.6 C-15.2,5.4 -11,4.2 -6,2.6 L-0.5,7.4 L5.2,2.6 C10.4,4.2 14.4,5.4 14.4,10.6 C10,13.6 4,14.6 -0.5,14.6 C-5,14.6 -11,13.6 -15.2,10.6 Z" fill="#fff"/><path d="M-0.5,-17.4 C4.6,-17.4 7.4,-13.6 7.3,-8.6 C7.2,-3.6 3.4,2.2 -0.5,2.2 C-4.4,2.2 -8.2,-3.6 -8.3,-8.6 C-8.4,-13.6 -5.6,-17.4 -0.5,-17.4 Z" fill="#fff"/><path d="M-6.9,-8.6 C-6.2,-10 -3.2,-10 -0.5,-9.4 C2.2,-10 5.2,-10 5.9,-8.6 C6.2,-4 2.8,0.2 -0.5,0.7 C-3.8,0.2 -7.2,-4 -6.9,-8.6 Z" fill="#98a81c"/><path d="M-12.1,11.4 a2.7,3.4 0 1 1 5,0 M-12.1,11.4 l1,0.5 M-7.1,11.4 l-1,0.5 M-9.6,5 V3.4" fill="none" stroke="#98a81c" stroke-width="1.15" stroke-linecap="round"/><circle cx="8.3" cy="6.2" r="1.5" fill="none" stroke="#98a81c" stroke-width="0.9"/><path d="M8.3,4.8 V3.2" stroke="#98a81c" stroke-width="0.9"/></g>
<g transform="translate(958,180.1)"><circle r="20.8" fill="#a4cfe8"/><circle cx="-0.5" cy="-9" r="2.1" fill="#fff"/><path d="M-5,-3.4 L1.7,-4.2 V8.4 L4.4,8.9 V9.8 H-5 V8.9 L-2.3,8.4 V-2.2 L-5,-2.5 Z" fill="#fff"/></g>
<g transform="translate(1012.4,159.7)"><circle r="20.7" fill="#a4cfe8"/><circle cx="-11.4" cy="-9.3" r="2.7" fill="#fff"/><path d="M-14.6,-5.6 C-14.6,-6.6 -9.6,-6.6 -9.4,-5.6 L-6.6,-4.8 L-4.6,-6.6 L-3.6,-5.6 L-6.2,-2.6 L-9.6,-3.2 L-9.8,2.6 L-6.6,3.2 L-7.4,12.2 H-9.6 L-10,5.8 L-12.4,5.6 L-14,12.2 H-16.2 L-15.4,4 Z" fill="#fff"/><path d="M-17.6,5.4 H-10.4 V6.8 H-11.6 V12.2 H-12.8 V6.8 H-16 V12.2 H-17.6 Z" fill="#fff"/><circle cx="12.6" cy="-9.9" r="2.7" fill="#fff"/><path d="M15.4,-6 C15.4,-7 10.6,-7 10.4,-6 L9.8,-1.2 L5.6,-0.2 L6,1.2 L11.4,0.4 L11.2,2.6 L8,3.2 L6,12.2 H8.2 L10,5.8 L12.4,5.6 L12.8,12.2 H15 L15.4,4 Z" fill="#fff"/><path d="M17.8,5.4 H10.8 V6.8 H12 V12.2 H13.2 V6.8 H16.2 V12.2 H17.8 Z" fill="#fff"/><path d="M-7.8,2 H6.2 V3.4 H1.2 V10.4 H2.6 V11.6 H-3.6 V10.4 H-1.5 V3.4 H-7.8 Z" fill="#fff"/><path d="M-5.4,-0.2 H0.6 L-0.4,1 H-4.4 Z" fill="#fff"/><path d="M-4.6,-6.4 l1.6,-1.2 l1.4,1.4 l-1.8,1.2 z" fill="#fff"/></g>
<g transform="translate(1061.7,179.7)"><circle r="20.7" fill="#a4cfe8"/><path d="M-13.8,-4.2 L-7.6,0.6 C-6.6,-3 -4.6,-5.4 -2.4,-6.6 L-4.6,-9.4 L1.4,-10.2 L3.4,-8.2 L5,-9 L6,-7.2 C10.4,-5.2 13.2,-1.8 13.4,1.6 C13.2,5 10.6,7.6 7.4,9 L2.4,13.6 L0.4,11.6 L-0.2,9.4 C-3.4,8.4 -6,6 -7.4,3.4 L-13.8,8.6 C-12.6,4.6 -12.6,0 -13.8,-4.2 Z" fill="#fff"/><circle cx="9" cy="1.4" r="1.1" fill="#a4cfe8"/></g>
<g transform="translate(1110.3,160.2)"><circle r="20.6" fill="#a799cf"/><g fill="none" stroke="#fff" stroke-width="0.85" stroke-linecap="round" stroke-linejoin="round"><path d="M-4.2,-4.4 C-6.4,-8 -5.6,-15.4 0,-15.4 C5.6,-15.4 6.4,-8 4.2,-4.4"/><path d="M-3.6,-9.8 C-3.6,-5.6 -1.8,-4.2 0,-4.2 C1.8,-4.2 3.6,-5.6 3.6,-9.8 C2,-10.2 0.4,-11.2 0,-12.4 C-0.4,-11.2 -2,-10.2 -3.6,-9.8"/><path d="M-1.4,-4.4 V-2.4 M1.4,-4.4 V-2.4"/><path d="M-1.4,-2.4 C-3,-1.6 -6,-1.6 -6.6,0.4 L-9.6,8.6 M1.4,-2.4 C3,-1.6 6,-1.6 6.6,0.4 L9.6,8.6"/><path d="M-4.2,-0.6 C-3,0.6 3,0.6 4.2,-0.6 M-4.6,1 L-3.4,8 M4.6,1 L3.4,8 M-3.4,8 C-1,7.2 1,7.2 3.4,8"/><path d="M-6.2,2.4 L-7.6,8.4 M6.2,2.4 L7.6,8.4"/><path d="M-9.6,8.6 C-13.4,10 -13.4,13.4 -9.4,13.6 L3.6,14.6 C6,14.8 6.4,13 4.4,12.4 L-3.4,9.6 M9.6,8.6 C13.4,10 13.4,13.4 9.4,13.6 L5.6,13.8 M-3.4,9.6 L3.4,9.6 L-0.6,12.4"/><path d="M-11,-6 l1,-1.2 l1,1.2 l-1,1.2 z M12,-3.6 l0.9,-1.1 l0.9,1.1 l-0.9,1.1 z M-14.6,-13 l0.9,-1 l0.9,1 l-0.9,1 z"/></g><circle cx="-13.6" cy="-5.8" r="0.5" fill="#fff"/><circle cx="10" cy="-3.6" r="0.5" fill="#fff"/><circle cx="-7.6" cy="-16" r="0.5" fill="#fff"/><circle cx="12" cy="-15.4" r="0.5" fill="#fff"/></g>
<g transform="translate(1162.5,176.6)"><clipPath id="ch1162176"><circle r="19.7"/></clipPath><circle r="20.4" fill="#98a81c"/><path d="M2.3,-4.5 A9.9,6.2 0 1 0 -1.2,-6.0 L-1.7,-2.0 Z" fill="none" stroke="#fff" stroke-width="0.9" stroke-linejoin="round"/><g clip-path="url(#ch1162176)"><path d="M-15.6,4 C-15.6,-1.6 -12.6,-3 -8.8,-3 C-5,-3 -2.4,-1.4 -2,1.6 C-1.8,3.6 -1.6,5.6 -0.6,7.8 L-2,8.6 L-1.8,10 L-2.6,10.4 L-2.4,11.6 C-3,12.6 -4.4,12.4 -5.2,12.4 L-5.3,13.6 L-4,14.4 L-5.4,15 L-7,14.4 L-8.4,15.4 L-10,14.8 L-11.6,15.6 L-13.4,14.6 L-13.2,13 C-14.8,10.4 -15.6,7 -15.6,4 Z" fill="#fff"/><path d="M17.7,4 C17.7,-1.6 14.8,-2.8 11,-2.8 C7,-2.8 3.4,-1.4 2.9,1.6 C2.7,3.6 2.4,5.6 1.2,8.2 L2.6,9 L2.4,10.2 L3.2,10.6 L3,11.8 C3.6,12.8 5,12.6 5.8,12.6 L6.2,13.8 L5,14.6 L6.6,15.2 L8,14.4 L9.6,15.4 L11,14.6 L12.6,15.6 L14.6,14.6 L15.4,13 C17,10.4 17.7,7 17.7,4 Z" fill="#fff"/></g></g>
<g transform="translate(620.4,251.3)"><circle r="20.4" fill="#c0261f"/><g fill="none" stroke="#fff" stroke-width="1.0" stroke-linecap="round" stroke-linejoin="round"><line x1="0" y1="-14.9" x2="0" y2="-18.4" transform="rotate(0)"/><line x1="0" y1="-14.9" x2="0" y2="-18.4" transform="rotate(45)"/><line x1="0" y1="-14.9" x2="0" y2="-18.4" transform="rotate(90)"/><line x1="0" y1="-14.9" x2="0" y2="-18.4" transform="rotate(135)"/><line x1="0" y1="-14.9" x2="0" y2="-18.4" transform="rotate(180)"/><line x1="0" y1="-14.9" x2="0" y2="-18.4" transform="rotate(225)"/><line x1="0" y1="-14.9" x2="0" y2="-18.4" transform="rotate(270)"/><line x1="0" y1="-14.9" x2="0" y2="-18.4" transform="rotate(315)"/><path d="M0,-11.8 V13.4"/><path d="M0,-11.8 C-2,-13.2 -5.4,-12.8 -6.4,-10.8 C-9.4,-11 -11,-8.4 -10.4,-6 C-12.4,-4.6 -12.6,-1.6 -11,0 C-11.8,2.4 -10.4,4.6 -8.6,5 C-8.8,7.6 -7.2,9.2 -5.6,9.4 C-5.4,12 -2.4,14.6 0,13.4"/><path d="M0,-11.8 C2,-13.2 5.4,-12.8 6.4,-10.8 C9.4,-11 11,-8.4 10.4,-6 C12.4,-4.6 12.6,-1.6 11,0 C11.8,2.4 10.4,4.6 8.6,5 C8.8,7.6 7.2,9.2 5.6,9.4 C5.4,12 2.4,14.6 0,13.4"/><path d="M-6.4,-10.8 C-4.4,-9.6 -4.2,-7.4 -5.2,-6 M-9.4,-3.2 C-8.4,-1.4 -6.4,-1 -5,-2 C-3.8,-3.2 -2.4,-3.4 -1.4,-3.4 M-5,-2 C-4.4,0 -5,2 -6.4,3 C-5,2.8 -4,3.2 -3.6,4.2 M-3.4,6.4 C-4.4,7.4 -4.6,9 -4.2,10"/><path d="M5,-9.6 C3.6,-8 4,-6 5,-5.2 M2.4,-5 C3.4,-4.6 3.8,-3 4.6,-2 C5.8,-0.8 7.6,-0.8 9,-1.4 M5,1.6 C5.6,3 7,3.6 8.6,3.2 M2,5.4 C2.8,6.6 3.2,8 3,9.2 M3.8,5.6 l0.8,2.4"/></g></g>
<g transform="translate(620,320.4)"><circle r="20.6" fill="#a799cf"/><g fill="none" stroke="#fff" stroke-width="0.85" stroke-linecap="round" stroke-linejoin="round"><path d="M-4.2,-4.4 C-6.4,-8 -5.6,-15.4 0,-15.4 C5.6,-15.4 6.4,-8 4.2,-4.4"/><path d="M-3.6,-9.8 C-3.6,-5.6 -1.8,-4.2 0,-4.2 C1.8,-4.2 3.6,-5.6 3.6,-9.8 C2,-10.2 0.4,-11.2 0,-12.4 C-0.4,-11.2 -2,-10.2 -3.6,-9.8"/><path d="M-1.4,-4.4 V-2.4 M1.4,-4.4 V-2.4"/><path d="M-1.4,-2.4 C-3,-1.6 -6,-1.6 -6.6,0.4 L-9.6,8.6 M1.4,-2.4 C3,-1.6 6,-1.6 6.6,0.4 L9.6,8.6"/><path d="M-4.2,-0.6 C-3,0.6 3,0.6 4.2,-0.6 M-4.6,1 L-3.4,8 M4.6,1 L3.4,8 M-3.4,8 C-1,7.2 1,7.2 3.4,8"/><path d="M-6.2,2.4 L-7.6,8.4 M6.2,2.4 L7.6,8.4"/><path d="M-9.6,8.6 C-13.4,10 -13.4,13.4 -9.4,13.6 L3.6,14.6 C6,14.8 6.4,13 4.4,12.4 L-3.4,9.6 M9.6,8.6 C13.4,10 13.4,13.4 9.4,13.6 L5.6,13.8 M-3.4,9.6 L3.4,9.6 L-0.6,12.4"/><path d="M-11,-6 l1,-1.2 l1,1.2 l-1,1.2 z M12,-3.6 l0.9,-1.1 l0.9,1.1 l-0.9,1.1 z M-14.6,-13 l0.9,-1 l0.9,1 l-0.9,1 z"/></g><circle cx="-13.6" cy="-5.8" r="0.5" fill="#fff"/><circle cx="10" cy="-3.6" r="0.5" fill="#fff"/><circle cx="-7.6" cy="-16" r="0.5" fill="#fff"/><circle cx="12" cy="-15.4" r="0.5" fill="#fff"/></g>
<g transform="translate(620.4,373.1)"><circle r="20.4" fill="#c0261f"/><g fill="none" stroke="#fff" stroke-width="1.0" stroke-linecap="round" stroke-linejoin="round"><line x1="0" y1="-14.9" x2="0" y2="-18.4" transform="rotate(0)"/><line x1="0" y1="-14.9" x2="0" y2="-18.4" transform="rotate(45)"/><line x1="0" y1="-14.9" x2="0" y2="-18.4" transform="rotate(90)"/><line x1="0" y1="-14.9" x2="0" y2="-18.4" transform="rotate(135)"/><line x1="0" y1="-14.9" x2="0" y2="-18.4" transform="rotate(180)"/><line x1="0" y1="-14.9" x2="0" y2="-18.4" transform="rotate(225)"/><line x1="0" y1="-14.9" x2="0" y2="-18.4" transform="rotate(270)"/><line x1="0" y1="-14.9" x2="0" y2="-18.4" transform="rotate(315)"/><path d="M0,-11.8 V13.4"/><path d="M0,-11.8 C-2,-13.2 -5.4,-12.8 -6.4,-10.8 C-9.4,-11 -11,-8.4 -10.4,-6 C-12.4,-4.6 -12.6,-1.6 -11,0 C-11.8,2.4 -10.4,4.6 -8.6,5 C-8.8,7.6 -7.2,9.2 -5.6,9.4 C-5.4,12 -2.4,14.6 0,13.4"/><path d="M0,-11.8 C2,-13.2 5.4,-12.8 6.4,-10.8 C9.4,-11 11,-8.4 10.4,-6 C12.4,-4.6 12.6,-1.6 11,0 C11.8,2.4 10.4,4.6 8.6,5 C8.8,7.6 7.2,9.2 5.6,9.4 C5.4,12 2.4,14.6 0,13.4"/><path d="M-6.4,-10.8 C-4.4,-9.6 -4.2,-7.4 -5.2,-6 M-9.4,-3.2 C-8.4,-1.4 -6.4,-1 -5,-2 C-3.8,-3.2 -2.4,-3.4 -1.4,-3.4 M-5,-2 C-4.4,0 -5,2 -6.4,3 C-5,2.8 -4,3.2 -3.6,4.2 M-3.4,6.4 C-4.4,7.4 -4.6,9 -4.2,10"/><path d="M5,-9.6 C3.6,-8 4,-6 5,-5.2 M2.4,-5 C3.4,-4.6 3.8,-3 4.6,-2 C5.8,-0.8 7.6,-0.8 9,-1.4 M5,1.6 C5.6,3 7,3.6 8.6,3.2 M2,5.4 C2.8,6.6 3.2,8 3,9.2 M3.8,5.6 l0.8,2.4"/></g></g>
<g transform="translate(623.4,429.4)"><circle r="20.5" fill="#98a81c"/><path d="M-15.2,10.6 C-15.2,5.4 -11,4.2 -6,2.6 L-0.5,7.4 L5.2,2.6 C10.4,4.2 14.4,5.4 14.4,10.6 C10,13.6 4,14.6 -0.5,14.6 C-5,14.6 -11,13.6 -15.2,10.6 Z" fill="#fff"/><path d="M-0.5,-17.4 C4.6,-17.4 7.4,-13.6 7.3,-8.6 C7.2,-3.6 3.4,2.2 -0.5,2.2 C-4.4,2.2 -8.2,-3.6 -8.3,-8.6 C-8.4,-13.6 -5.6,-17.4 -0.5,-17.4 Z" fill="#fff"/><path d="M-6.9,-8.6 C-6.2,-10 -3.2,-10 -0.5,-9.4 C2.2,-10 5.2,-10 5.9,-8.6 C6.2,-4 2.8,0.2 -0.5,0.7 C-3.8,0.2 -7.2,-4 -6.9,-8.6 Z" fill="#98a81c"/><path d="M-12.1,11.4 a2.7,3.4 0 1 1 5,0 M-12.1,11.4 l1,0.5 M-7.1,11.4 l-1,0.5 M-9.6,5 V3.4" fill="none" stroke="#98a81c" stroke-width="1.15" stroke-linecap="round"/><circle cx="8.3" cy="6.2" r="1.5" fill="none" stroke="#98a81c" stroke-width="0.9"/><path d="M8.3,4.8 V3.2" stroke="#98a81c" stroke-width="0.9"/></g>
<g transform="translate(623,601.2)"><circle r="20.2" fill="#e7cf1c"/><ellipse cx="0.3" cy="-13" rx="1.7" ry="2.6" fill="#fff"/><path d="M-1.4,-11.4 L-3.2,-11.2 C-6.4,-8.4 -8,-6 -9.6,0 C-10.8,4.4 -11.6,8.4 -11.9,11.9 C-10,12.4 -8,12.2 -6.1,11.6 C-5.6,9.8 -4,8.6 -2.8,7.4 C-1.8,9 -0.8,10 0.3,10.3 C1.4,10 2.4,9 3.4,7.4 C4.6,8.6 6.2,9.8 6.6,11.6 C8.6,12.2 10.6,12.4 12.6,11.9 C12.2,8.4 11.4,4.4 10.2,0 C8.6,-6 7,-8.4 3.9,-11.2 L2,-11.4 L0.3,-6.2 Z" fill="#fff"/><path d="M0.3,2 L-2,7 L0.3,8.6 L2.6,7 Z" fill="#fdf9d8" opacity="0.8"/><g fill="none" stroke="#fff" stroke-width="0.7" stroke-linecap="round"><path d="M-6.6,-8.6 L-9.7,-10.5 L-10.4,-14.3 M7.4,-8.6 L10.4,-10.5 L11,-14.5 M-14,0.2 H-9.9 M10.6,0.2 H14.7 M-6.1,12.2 L-6.6,15.7 M6.5,12.2 L7,15.7"/></g></g>
<g transform="translate(620.4,711.7)"><clipPath id="cb620711"><circle r="20.2"/></clipPath><circle r="20.2" fill="#e7cf1c"/><g clip-path="url(#cb620711)" fill="none" stroke="#fff" stroke-width="1.25" stroke-linecap="round" stroke-linejoin="round"><path d="M-5,8 C-5,4.6 -10.8,1.6 -10.8,-4.4 C-10.8,-10.4 -6,-14.4 -0.5,-14.4 C5,-14.4 9.8,-10.4 9.8,-4.4 C9.8,1.6 4.4,4.6 4.4,8"/><path d="M-0.4,-11.6 C4,-11.6 7,-8.4 7.2,-3.6" stroke-width="1.0"/><g stroke-width="1.0"><line x1="0" y1="-12.6" x2="0" y2="-15.6" transform="translate(-0.4,-3.4) rotate(-66)"/><line x1="0" y1="-12.6" x2="0" y2="-15.6" transform="translate(-0.4,-3.4) rotate(-44)"/><line x1="0" y1="-12.6" x2="0" y2="-15.6" transform="translate(-0.4,-3.4) rotate(-22)"/><line x1="0" y1="-12.6" x2="0" y2="-15.6" transform="translate(-0.4,-3.4) rotate(0)"/><line x1="0" y1="-12.6" x2="0" y2="-15.6" transform="translate(-0.4,-3.4) rotate(22)"/><line x1="0" y1="-12.6" x2="0" y2="-15.6" transform="translate(-0.4,-3.4) rotate(44)"/><line x1="0" y1="-12.6" x2="0" y2="-15.6" transform="translate(-0.4,-3.4) rotate(66)"/><line x1="0" y1="-12.6" x2="0" y2="-15.6" transform="translate(-0.4,-3.4) rotate(-90)"/><line x1="0" y1="-12.6" x2="0" y2="-15.6" transform="translate(-0.4,-3.4) rotate(90)"/><line x1="0" y1="-12.6" x2="0" y2="-15.6" transform="translate(-0.4,-3.4) rotate(-112)"/><line x1="0" y1="-12.6" x2="0" y2="-15.6" transform="translate(-0.4,-3.4) rotate(112)"/></g><path d="M-5,8 L-16,14.4 M4.4,8 L15.4,14.4"/><path d="M-5,8 C-3,10.6 2.4,10.6 4.4,8" stroke-width="1.0"/><path d="M-6.4,10.6 L-0.4,14.6 L5.8,10.6 M-7.6,12.6 L-4,20 M6.8,12.6 L3.4,20 M-0.4,14.6 L-2.6,20.4 M-0.4,14.6 L1.8,20.4" stroke-width="1.0"/></g></g>
<g transform="translate(1332,259.2)"><clipPath id="ch1332259"><circle r="19.7"/></clipPath><circle r="20.4" fill="#98a81c"/><path d="M2.3,-4.5 A9.9,6.2 0 1 0 -1.2,-6.0 L-1.7,-2.0 Z" fill="none" stroke="#fff" stroke-width="0.9" stroke-linejoin="round"/><g clip-path="url(#ch1332259)"><path d="M-15.6,4 C-15.6,-1.6 -12.6,-3 -8.8,-3 C-5,-3 -2.4,-1.4 -2,1.6 C-1.8,3.6 -1.6,5.6 -0.6,7.8 L-2,8.6 L-1.8,10 L-2.6,10.4 L-2.4,11.6 C-3,12.6 -4.4,12.4 -5.2,12.4 L-5.3,13.6 L-4,14.4 L-5.4,15 L-7,14.4 L-8.4,15.4 L-10,14.8 L-11.6,15.6 L-13.4,14.6 L-13.2,13 C-14.8,10.4 -15.6,7 -15.6,4 Z" fill="#fff"/><path d="M17.7,4 C17.7,-1.6 14.8,-2.8 11,-2.8 C7,-2.8 3.4,-1.4 2.9,1.6 C2.7,3.6 2.4,5.6 1.2,8.2 L2.6,9 L2.4,10.2 L3.2,10.6 L3,11.8 C3.6,12.8 5,12.6 5.8,12.6 L6.2,13.8 L5,14.6 L6.6,15.2 L8,14.4 L9.6,15.4 L11,14.6 L12.6,15.6 L14.6,14.6 L15.4,13 C17,10.4 17.7,7 17.7,4 Z" fill="#fff"/></g></g>
<g transform="translate(1332,317)"><circle r="20.4" fill="#98a81c"/><path d="M-15.2,10.6 C-15.2,5.4 -11,4.2 -6,2.6 L-0.5,7.4 L5.2,2.6 C10.4,4.2 14.4,5.4 14.4,10.6 C10,13.6 4,14.6 -0.5,14.6 C-5,14.6 -11,13.6 -15.2,10.6 Z" fill="#fff"/><path d="M-0.5,-17.4 C4.6,-17.4 7.4,-13.6 7.3,-8.6 C7.2,-3.6 3.4,2.2 -0.5,2.2 C-4.4,2.2 -8.2,-3.6 -8.3,-8.6 C-8.4,-13.6 -5.6,-17.4 -0.5,-17.4 Z" fill="#fff"/><path d="M-6.9,-8.6 C-6.2,-10 -3.2,-10 -0.5,-9.4 C2.2,-10 5.2,-10 5.9,-8.6 C6.2,-4 2.8,0.2 -0.5,0.7 C-3.8,0.2 -7.2,-4 -6.9,-8.6 Z" fill="#98a81c"/><path d="M-12.1,11.4 a2.7,3.4 0 1 1 5,0 M-12.1,11.4 l1,0.5 M-7.1,11.4 l-1,0.5 M-9.6,5 V3.4" fill="none" stroke="#98a81c" stroke-width="1.15" stroke-linecap="round"/><circle cx="8.3" cy="6.2" r="1.5" fill="none" stroke="#98a81c" stroke-width="0.9"/><path d="M8.3,4.8 V3.2" stroke="#98a81c" stroke-width="0.9"/></g>
<g transform="translate(1332,372.5)"><circle r="20.4" fill="#98a81c"/><path d="M-15.2,10.6 C-15.2,5.4 -11,4.2 -6,2.6 L-0.5,7.4 L5.2,2.6 C10.4,4.2 14.4,5.4 14.4,10.6 C10,13.6 4,14.6 -0.5,14.6 C-5,14.6 -11,13.6 -15.2,10.6 Z" fill="#fff"/><path d="M-0.5,-17.4 C4.6,-17.4 7.4,-13.6 7.3,-8.6 C7.2,-3.6 3.4,2.2 -0.5,2.2 C-4.4,2.2 -8.2,-3.6 -8.3,-8.6 C-8.4,-13.6 -5.6,-17.4 -0.5,-17.4 Z" fill="#fff"/><path d="M-6.9,-8.6 C-6.2,-10 -3.2,-10 -0.5,-9.4 C2.2,-10 5.2,-10 5.9,-8.6 C6.2,-4 2.8,0.2 -0.5,0.7 C-3.8,0.2 -7.2,-4 -6.9,-8.6 Z" fill="#98a81c"/><path d="M-12.1,11.4 a2.7,3.4 0 1 1 5,0 M-12.1,11.4 l1,0.5 M-7.1,11.4 l-1,0.5 M-9.6,5 V3.4" fill="none" stroke="#98a81c" stroke-width="1.15" stroke-linecap="round"/><circle cx="8.3" cy="6.2" r="1.5" fill="none" stroke="#98a81c" stroke-width="0.9"/><path d="M8.3,4.8 V3.2" stroke="#98a81c" stroke-width="0.9"/></g>
<g transform="translate(1332,429.4)"><circle r="20.4" fill="#98a81c"/><path d="M-15.2,10.6 C-15.2,5.4 -11,4.2 -6,2.6 L-0.5,7.4 L5.2,2.6 C10.4,4.2 14.4,5.4 14.4,10.6 C10,13.6 4,14.6 -0.5,14.6 C-5,14.6 -11,13.6 -15.2,10.6 Z" fill="#fff"/><path d="M-0.5,-17.4 C4.6,-17.4 7.4,-13.6 7.3,-8.6 C7.2,-3.6 3.4,2.2 -0.5,2.2 C-4.4,2.2 -8.2,-3.6 -8.3,-8.6 C-8.4,-13.6 -5.6,-17.4 -0.5,-17.4 Z" fill="#fff"/><path d="M-6.9,-8.6 C-6.2,-10 -3.2,-10 -0.5,-9.4 C2.2,-10 5.2,-10 5.9,-8.6 C6.2,-4 2.8,0.2 -0.5,0.7 C-3.8,0.2 -7.2,-4 -6.9,-8.6 Z" fill="#98a81c"/><path d="M-12.1,11.4 a2.7,3.4 0 1 1 5,0 M-12.1,11.4 l1,0.5 M-7.1,11.4 l-1,0.5 M-9.6,5 V3.4" fill="none" stroke="#98a81c" stroke-width="1.15" stroke-linecap="round"/><circle cx="8.3" cy="6.2" r="1.5" fill="none" stroke="#98a81c" stroke-width="0.9"/><path d="M8.3,4.8 V3.2" stroke="#98a81c" stroke-width="0.9"/></g>
<g transform="translate(1332,512.9)"><clipPath id="cb1332512"><circle r="20.2"/></clipPath><circle r="20.2" fill="#e7cf1c"/><g clip-path="url(#cb1332512)" fill="none" stroke="#fff" stroke-width="1.25" stroke-linecap="round" stroke-linejoin="round"><path d="M-5,8 C-5,4.6 -10.8,1.6 -10.8,-4.4 C-10.8,-10.4 -6,-14.4 -0.5,-14.4 C5,-14.4 9.8,-10.4 9.8,-4.4 C9.8,1.6 4.4,4.6 4.4,8"/><path d="M-0.4,-11.6 C4,-11.6 7,-8.4 7.2,-3.6" stroke-width="1.0"/><g stroke-width="1.0"><line x1="0" y1="-12.6" x2="0" y2="-15.6" transform="translate(-0.4,-3.4) rotate(-66)"/><line x1="0" y1="-12.6" x2="0" y2="-15.6" transform="translate(-0.4,-3.4) rotate(-44)"/><line x1="0" y1="-12.6" x2="0" y2="-15.6" transform="translate(-0.4,-3.4) rotate(-22)"/><line x1="0" y1="-12.6" x2="0" y2="-15.6" transform="translate(-0.4,-3.4) rotate(0)"/><line x1="0" y1="-12.6" x2="0" y2="-15.6" transform="translate(-0.4,-3.4) rotate(22)"/><line x1="0" y1="-12.6" x2="0" y2="-15.6" transform="translate(-0.4,-3.4) rotate(44)"/><line x1="0" y1="-12.6" x2="0" y2="-15.6" transform="translate(-0.4,-3.4) rotate(66)"/><line x1="0" y1="-12.6" x2="0" y2="-15.6" transform="translate(-0.4,-3.4) rotate(-90)"/><line x1="0" y1="-12.6" x2="0" y2="-15.6" transform="translate(-0.4,-3.4) rotate(90)"/><line x1="0" y1="-12.6" x2="0" y2="-15.6" transform="translate(-0.4,-3.4) rotate(-112)"/><line x1="0" y1="-12.6" x2="0" y2="-15.6" transform="translate(-0.4,-3.4) rotate(112)"/></g><path d="M-5,8 L-16,14.4 M4.4,8 L15.4,14.4"/><path d="M-5,8 C-3,10.6 2.4,10.6 4.4,8" stroke-width="1.0"/><path d="M-6.4,10.6 L-0.4,14.6 L5.8,10.6 M-7.6,12.6 L-4,20 M6.8,12.6 L3.4,20 M-0.4,14.6 L-2.6,20.4 M-0.4,14.6 L1.8,20.4" stroke-width="1.0"/></g></g>
<g transform="translate(900.4,573.5)"><circle r="20.4" fill="#98a81c"/><path d="M-15.2,10.6 C-15.2,5.4 -11,4.2 -6,2.6 L-0.5,7.4 L5.2,2.6 C10.4,4.2 14.4,5.4 14.4,10.6 C10,13.6 4,14.6 -0.5,14.6 C-5,14.6 -11,13.6 -15.2,10.6 Z" fill="#fff"/><path d="M-0.5,-17.4 C4.6,-17.4 7.4,-13.6 7.3,-8.6 C7.2,-3.6 3.4,2.2 -0.5,2.2 C-4.4,2.2 -8.2,-3.6 -8.3,-8.6 C-8.4,-13.6 -5.6,-17.4 -0.5,-17.4 Z" fill="#fff"/><path d="M-6.9,-8.6 C-6.2,-10 -3.2,-10 -0.5,-9.4 C2.2,-10 5.2,-10 5.9,-8.6 C6.2,-4 2.8,0.2 -0.5,0.7 C-3.8,0.2 -7.2,-4 -6.9,-8.6 Z" fill="#98a81c"/><path d="M-12.1,11.4 a2.7,3.4 0 1 1 5,0 M-12.1,11.4 l1,0.5 M-7.1,11.4 l-1,0.5 M-9.6,5 V3.4" fill="none" stroke="#98a81c" stroke-width="1.15" stroke-linecap="round"/><circle cx="8.3" cy="6.2" r="1.5" fill="none" stroke="#98a81c" stroke-width="0.9"/><path d="M8.3,4.8 V3.2" stroke="#98a81c" stroke-width="0.9"/></g>
<g transform="translate(954,547)"><circle r="21" fill="#a4cfe8"/><circle cx="-11.4" cy="-9.3" r="2.7" fill="#fff"/><path d="M-14.6,-5.6 C-14.6,-6.6 -9.6,-6.6 -9.4,-5.6 L-6.6,-4.8 L-4.6,-6.6 L-3.6,-5.6 L-6.2,-2.6 L-9.6,-3.2 L-9.8,2.6 L-6.6,3.2 L-7.4,12.2 H-9.6 L-10,5.8 L-12.4,5.6 L-14,12.2 H-16.2 L-15.4,4 Z" fill="#fff"/><path d="M-17.6,5.4 H-10.4 V6.8 H-11.6 V12.2 H-12.8 V6.8 H-16 V12.2 H-17.6 Z" fill="#fff"/><circle cx="12.6" cy="-9.9" r="2.7" fill="#fff"/><path d="M15.4,-6 C15.4,-7 10.6,-7 10.4,-6 L9.8,-1.2 L5.6,-0.2 L6,1.2 L11.4,0.4 L11.2,2.6 L8,3.2 L6,12.2 H8.2 L10,5.8 L12.4,5.6 L12.8,12.2 H15 L15.4,4 Z" fill="#fff"/><path d="M17.8,5.4 H10.8 V6.8 H12 V12.2 H13.2 V6.8 H16.2 V12.2 H17.8 Z" fill="#fff"/><path d="M-7.8,2 H6.2 V3.4 H1.2 V10.4 H2.6 V11.6 H-3.6 V10.4 H-1.5 V3.4 H-7.8 Z" fill="#fff"/><path d="M-5.4,-0.2 H0.6 L-0.4,1 H-4.4 Z" fill="#fff"/><path d="M-4.6,-6.4 l1.6,-1.2 l1.4,1.4 l-1.8,1.2 z" fill="#fff"/></g>
<g transform="translate(1001,575)"><circle r="21" fill="#a9d8e8"/><circle r="15.2" fill="#fff"/><path d="M-6,-10.6 V10.6 M6,-10.6 V10.6 M-6,0.2 H6" fill="none" stroke="#a9d8e8" stroke-width="2.7"/></g>
<g transform="translate(1055.6,547.3)"><circle r="20.4" fill="#98a81c"/><path d="M-15.2,10.6 C-15.2,5.4 -11,4.2 -6,2.6 L-0.5,7.4 L5.2,2.6 C10.4,4.2 14.4,5.4 14.4,10.6 C10,13.6 4,14.6 -0.5,14.6 C-5,14.6 -11,13.6 -15.2,10.6 Z" fill="#fff"/><path d="M-0.5,-17.4 C4.6,-17.4 7.4,-13.6 7.3,-8.6 C7.2,-3.6 3.4,2.2 -0.5,2.2 C-4.4,2.2 -8.2,-3.6 -8.3,-8.6 C-8.4,-13.6 -5.6,-17.4 -0.5,-17.4 Z" fill="#fff"/><path d="M-6.9,-8.6 C-6.2,-10 -3.2,-10 -0.5,-9.4 C2.2,-10 5.2,-10 5.9,-8.6 C6.2,-4 2.8,0.2 -0.5,0.7 C-3.8,0.2 -7.2,-4 -6.9,-8.6 Z" fill="#98a81c"/><path d="M-12.1,11.4 a2.7,3.4 0 1 1 5,0 M-12.1,11.4 l1,0.5 M-7.1,11.4 l-1,0.5 M-9.6,5 V3.4" fill="none" stroke="#98a81c" stroke-width="1.15" stroke-linecap="round"/><circle cx="8.3" cy="6.2" r="1.5" fill="none" stroke="#98a81c" stroke-width="0.9"/><path d="M8.3,4.8 V3.2" stroke="#98a81c" stroke-width="0.9"/></g>
<g transform="translate(988,849)"><circle r="21" fill="#a4cfe8"/><circle cx="-11.4" cy="-9.3" r="2.7" fill="#fff"/><path d="M-14.6,-5.6 C-14.6,-6.6 -9.6,-6.6 -9.4,-5.6 L-6.6,-4.8 L-4.6,-6.6 L-3.6,-5.6 L-6.2,-2.6 L-9.6,-3.2 L-9.8,2.6 L-6.6,3.2 L-7.4,12.2 H-9.6 L-10,5.8 L-12.4,5.6 L-14,12.2 H-16.2 L-15.4,4 Z" fill="#fff"/><path d="M-17.6,5.4 H-10.4 V6.8 H-11.6 V12.2 H-12.8 V6.8 H-16 V12.2 H-17.6 Z" fill="#fff"/><circle cx="12.6" cy="-9.9" r="2.7" fill="#fff"/><path d="M15.4,-6 C15.4,-7 10.6,-7 10.4,-6 L9.8,-1.2 L5.6,-0.2 L6,1.2 L11.4,0.4 L11.2,2.6 L8,3.2 L6,12.2 H8.2 L10,5.8 L12.4,5.6 L12.8,12.2 H15 L15.4,4 Z" fill="#fff"/><path d="M17.8,5.4 H10.8 V6.8 H12 V12.2 H13.2 V6.8 H16.2 V12.2 H17.8 Z" fill="#fff"/><path d="M-7.8,2 H6.2 V3.4 H1.2 V10.4 H2.6 V11.6 H-3.6 V10.4 H-1.5 V3.4 H-7.8 Z" fill="#fff"/><path d="M-5.4,-0.2 H0.6 L-0.4,1 H-4.4 Z" fill="#fff"/><path d="M-4.6,-6.4 l1.6,-1.2 l1.4,1.4 l-1.8,1.2 z" fill="#fff"/></g>
<g transform="translate(1088.6,849)"><circle r="21" fill="#a4cfe8"/><circle cx="-11.4" cy="-9.3" r="2.7" fill="#fff"/><path d="M-14.6,-5.6 C-14.6,-6.6 -9.6,-6.6 -9.4,-5.6 L-6.6,-4.8 L-4.6,-6.6 L-3.6,-5.6 L-6.2,-2.6 L-9.6,-3.2 L-9.8,2.6 L-6.6,3.2 L-7.4,12.2 H-9.6 L-10,5.8 L-12.4,5.6 L-14,12.2 H-16.2 L-15.4,4 Z" fill="#fff"/><path d="M-17.6,5.4 H-10.4 V6.8 H-11.6 V12.2 H-12.8 V6.8 H-16 V12.2 H-17.6 Z" fill="#fff"/><circle cx="12.6" cy="-9.9" r="2.7" fill="#fff"/><path d="M15.4,-6 C15.4,-7 10.6,-7 10.4,-6 L9.8,-1.2 L5.6,-0.2 L6,1.2 L11.4,0.4 L11.2,2.6 L8,3.2 L6,12.2 H8.2 L10,5.8 L12.4,5.6 L12.8,12.2 H15 L15.4,4 Z" fill="#fff"/><path d="M17.8,5.4 H10.8 V6.8 H12 V12.2 H13.2 V6.8 H16.2 V12.2 H17.8 Z" fill="#fff"/><path d="M-7.8,2 H6.2 V3.4 H1.2 V10.4 H2.6 V11.6 H-3.6 V10.4 H-1.5 V3.4 H-7.8 Z" fill="#fff"/><path d="M-5.4,-0.2 H0.6 L-0.4,1 H-4.4 Z" fill="#fff"/><path d="M-4.6,-6.4 l1.6,-1.2 l1.4,1.4 l-1.8,1.2 z" fill="#fff"/></g>
<text x="793" y="130.7" text-anchor="middle" class="lb" textLength="53" lengthAdjust="spacingAndGlyphs" >Arbeitsplatz</text>
<text x="852.8" y="150.5" text-anchor="middle" class="lb" textLength="48.4" lengthAdjust="spacingAndGlyphs" >Höhenweg</text>
<text x="904.6" y="119" text-anchor="middle" class="lb" textLength="46" lengthAdjust="spacingAndGlyphs" >Patienten-</text>
<text x="904.6" y="131.6" text-anchor="middle" class="lb" textLength="44" lengthAdjust="spacingAndGlyphs" >aufnahme</text>
<text x="962.6" y="131" text-anchor="middle" class="lb" textLength="37" lengthAdjust="spacingAndGlyphs" >Infotafel</text>
<text x="961" y="143" text-anchor="middle" class="lb" textLength="62" lengthAdjust="spacingAndGlyphs" >„Wasserstand-</text>
<text x="962.5" y="154.3" text-anchor="middle" class="lb" textLength="39" lengthAdjust="spacingAndGlyphs" >anzeige“</text>
<text x="1013.8" y="119" text-anchor="middle" class="lb" textLength="41.7" lengthAdjust="spacingAndGlyphs" >Welcome</text>
<text x="1013.8" y="131" text-anchor="middle" class="lb" textLength="22.5" lengthAdjust="spacingAndGlyphs" >Zone</text>
<text x="1062.6" y="150.5" text-anchor="middle" class="lb" textLength="43.3" lengthAdjust="spacingAndGlyphs" >Aquarium</text>
<text x="1110.4" y="131.6" text-anchor="middle" class="lb" textLength="45.2" lengthAdjust="spacingAndGlyphs" >Snoezelen</text>
<text x="1161.5" y="150" text-anchor="middle" class="lb" textLength="37.6" lengthAdjust="spacingAndGlyphs" >Personal</text>
<text x="584.4" y="252.8" text-anchor="end" class="lb" textLength="65.7" lengthAdjust="spacingAndGlyphs" >Physiotherapie</text>
<text x="584" y="318.5" text-anchor="end" class="lb" textLength="24.4" lengthAdjust="spacingAndGlyphs" >Reset</text>
<text x="584" y="374.7" text-anchor="end" class="lb" textLength="56.5" lengthAdjust="spacingAndGlyphs" >Ergotherapie</text>
<text x="582.4" y="433.7" text-anchor="end" class="lb" textLength="15.4" lengthAdjust="spacingAndGlyphs" >IVZ</text>
<text x="585" y="604.8" text-anchor="end" class="lb" textLength="60.4" lengthAdjust="spacingAndGlyphs" >Insektenhotel</text>
<text x="584.4" y="713.8" text-anchor="end" class="lb" textLength="37.9" lengthAdjust="spacingAndGlyphs" >Flurzone</text>
<text x="1365.3" y="263" text-anchor="start" class="lb" textLength="42.7" lengthAdjust="spacingAndGlyphs" >All Hands</text>
<text x="1365" y="318.8" text-anchor="start" class="lb" textLength="66.6" lengthAdjust="spacingAndGlyphs" >Stationsleitung</text>
<text x="1365.9" y="376.9" text-anchor="start" class="lb" textLength="62.5" lengthAdjust="spacingAndGlyphs" >Untersuchung</text>
<text x="1366.3" y="434.7" text-anchor="start" class="lb" textLength="15.4" lengthAdjust="spacingAndGlyphs" >IVZ</text>
<text x="1365" y="517" text-anchor="start" class="lb" textLength="37.9" lengthAdjust="spacingAndGlyphs" >Flurzone</text>
<text x="900.3" y="605" text-anchor="middle" class="lb" textLength="49.4" lengthAdjust="spacingAndGlyphs" >Medikation</text>
<text x="952.5" y="579" text-anchor="middle" class="lb" textLength="25" lengthAdjust="spacingAndGlyphs" >Arena</text>
<text x="1000.3" y="607" text-anchor="middle" class="lb" textLength="46.6" lengthAdjust="spacingAndGlyphs" >Haltestelle</text>
<text x="1000" y="619.2" text-anchor="middle" class="lb" textLength="51.4" lengthAdjust="spacingAndGlyphs" >„Vogelsang“</text>
<text x="1057.5" y="576" text-anchor="middle" class="lb" textLength="39" lengthAdjust="spacingAndGlyphs" >Stations-</text>
<text x="1057.6" y="588" text-anchor="middle" class="lb" textLength="20" lengthAdjust="spacingAndGlyphs" >büro</text>
<text x="987.4" y="882.9" text-anchor="middle" class="lb" textLength="59.4" lengthAdjust="spacingAndGlyphs" >Wohnzimmer</text>
<text x="1090.2" y="882.9" text-anchor="middle" class="lb" textLength="59.6" lengthAdjust="spacingAndGlyphs" >Wintergarten</text>
<text x="879" y="337.6" text-anchor="middle" class="bd" font-size="14.6" textLength="56" lengthAdjust="spacingAndGlyphs">Berghain</text>
<text x="972.3" y="419.4" text-anchor="middle" class="bd" font-size="14.6" textLength="92.6" lengthAdjust="spacingAndGlyphs">Wasserschloss</text>
<text x="958.9" y="651.6" text-anchor="middle" class="bd" font-size="14.6" textLength="65" lengthAdjust="spacingAndGlyphs">Aaregasse</text>
<text x="0" y="0" text-anchor="middle" class="bd" font-size="14.6" textLength="55.4" lengthAdjust="spacingAndGlyphs" transform="translate(1050.4,347.3) rotate(-90)">Im Moos</text>
<text x="0" y="0" text-anchor="middle" class="bd" font-size="14.6" textLength="64" lengthAdjust="spacingAndGlyphs" transform="translate(829,563) rotate(-90)">Reussweg</text>
<text x="0" y="0" text-anchor="middle" class="bd" font-size="14.6" textLength="74.6" lengthAdjust="spacingAndGlyphs" transform="translate(1133,559.7) rotate(-90)">Limmatweg</text>
<text x="759.6" y="748" font-size="9.4" fill="#111" stroke="#111" stroke-width="0.2" textLength="16.4" lengthAdjust="spacingAndGlyphs">Bad</text><text x="776.6" y="748" font-size="10.8" fill="#d81e2c">?</text>
<text x="1147" y="748" font-size="9.4" fill="#111" stroke="#111" stroke-width="0.2" textLength="16.4" lengthAdjust="spacingAndGlyphs">Bad</text><text x="1163.6" y="748" font-size="10.8" fill="#d81e2c">?</text>
</svg>
</body></html>
